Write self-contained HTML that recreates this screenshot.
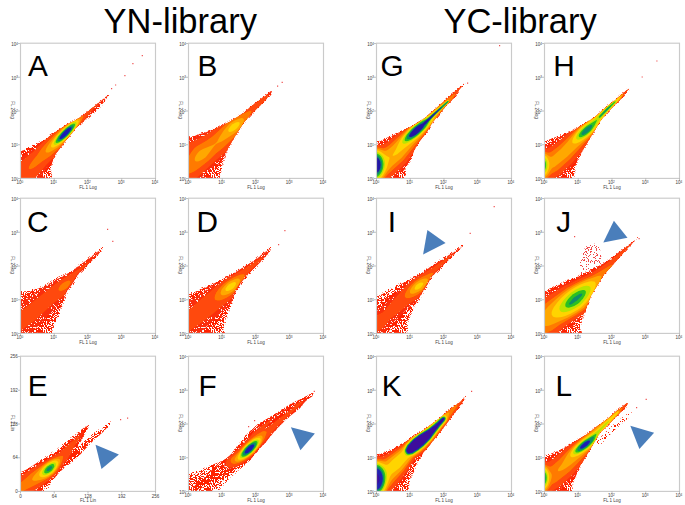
<!DOCTYPE html>
<html><head><meta charset="utf-8"><style>
html,body{margin:0;padding:0;background:#fff;}
body{width:685px;height:505px;overflow:hidden;position:relative;font-family:"Liberation Sans",sans-serif;}
svg{position:absolute;left:0;top:0;}
</style></head><body>
<svg width="685" height="505" viewBox="0 0 685 505">
<defs>
<pattern id="sp0" width="37" height="37" patternUnits="userSpaceOnUse"><path fill="#ff2400" d="M28 35h1v1h-1zM29 28h1v1h-1zM32 12h1v1h-1zM11 32h1v1h-1zM30 11h1v1h-1zM6 28h1v1h-1zM19 9h1v1h-1zM5 34h1v1h-1zM2 25h1v1h-1zM28 10h1v1h-1zM0 33h1v1h-1zM4 3h1v1h-1zM2 12h1v1h-1zM15 1h1v1h-1zM29 20h1v1h-1zM28 12h1v1h-1zM33 14h1v1h-1zM18 31h1v1h-1zM0 5h1v1h-1zM29 17h1v1h-1zM26 35h1v1h-1zM5 16h1v1h-1zM20 14h1v1h-1zM32 18h1v1h-1zM1 4h1v1h-1zM36 6h1v1h-1zM25 6h1v1h-1zM18 24h1v1h-1zM4 1h1v1h-1zM0 13h1v1h-1zM13 3h1v1h-1zM30 24h1v1h-1zM25 26h1v1h-1zM4 36h1v1h-1zM12 17h1v1h-1zM21 5h1v1h-1zM19 21h1v1h-1zM0 26h1v1h-1zM7 8h1v1h-1zM15 6h1v1h-1zM0 3h1v1h-1zM29 31h1v1h-1zM11 35h1v1h-1zM12 28h1v1h-1zM32 12h1v1h-1zM8 26h1v1h-1zM24 7h1v1h-1zM25 26h1v1h-1zM13 0h1v1h-1zM17 19h1v1h-1zM1 13h1v1h-1zM11 25h1v1h-1zM36 6h1v1h-1zM2 9h1v1h-1zM13 28h1v1h-1zM16 0h1v1h-1zM21 18h1v1h-1zM24 4h1v1h-1zM4 5h1v1h-1zM13 15h1v1h-1zM0 23h1v1h-1zM23 29h1v1h-1zM8 30h1v1h-1zM36 8h1v1h-1zM24 11h1v1h-1zM9 19h1v1h-1zM14 15h1v1h-1zM12 10h1v1h-1zM35 12h1v1h-1zM24 30h1v1h-1zM5 26h1v1h-1zM3 6h1v1h-1zM6 2h1v1h-1zM32 16h1v1h-1zM15 25h1v1h-1zM16 26h1v1h-1zM31 18h1v1h-1zM33 11h1v1h-1zM4 8h1v1h-1zM14 30h1v1h-1zM35 4h1v1h-1zM17 13h1v1h-1zM13 1h1v1h-1zM4 17h1v1h-1zM26 28h1v1h-1zM15 3h1v1h-1zM2 11h1v1h-1zM18 23h1v1h-1zM33 36h1v1h-1zM8 5h1v1h-1zM23 8h1v1h-1zM28 21h1v1h-1zM33 8h1v1h-1zM2 1h1v1h-1zM30 22h1v1h-1zM19 2h1v1h-1zM1 4h1v1h-1zM30 4h1v1h-1zM19 20h1v1h-1zM8 4h1v1h-1zM4 28h1v1h-1zM34 23h1v1h-1zM2 8h1v1h-1zM21 22h1v1h-1zM5 30h1v1h-1zM4 26h1v1h-1zM1 31h1v1h-1zM36 0h1v1h-1zM24 24h1v1h-1zM0 4h1v1h-1zM5 5h1v1h-1zM7 16h1v1h-1zM26 21h1v1h-1zM24 29h1v1h-1zM28 29h1v1h-1zM34 5h1v1h-1zM33 32h1v1h-1zM1 19h1v1h-1zM5 30h1v1h-1zM1 14h1v1h-1zM7 31h1v1h-1zM31 16h1v1h-1zM0 23h1v1h-1zM19 9h1v1h-1zM12 33h1v1h-1zM10 21h1v1h-1zM28 31h1v1h-1zM15 20h1v1h-1zM25 16h1v1h-1zM12 27h1v1h-1zM12 13h1v1h-1zM24 14h1v1h-1zM20 13h1v1h-1zM8 8h1v1h-1zM31 22h1v1h-1zM2 4h1v1h-1zM17 10h1v1h-1zM7 28h1v1h-1zM30 17h1v1h-1zM13 26h1v1h-1zM24 33h1v1h-1zM31 20h1v1h-1zM28 20h1v1h-1zM4 2h1v1h-1zM17 2h1v1h-1zM17 36h1v1h-1zM22 19h1v1h-1zM36 1h1v1h-1zM8 25h1v1h-1zM29 12h1v1h-1zM1 17h1v1h-1zM15 9h1v1h-1zM3 7h1v1h-1zM28 6h1v1h-1zM34 23h1v1h-1zM4 12h1v1h-1zM12 30h1v1h-1zM16 11h1v1h-1zM0 30h1v1h-1zM34 2h1v1h-1zM11 14h1v1h-1zM17 22h1v1h-1zM34 33h1v1h-1zM32 10h1v1h-1zM25 14h1v1h-1zM5 26h1v1h-1zM24 8h1v1h-1zM28 29h1v1h-1zM12 0h1v1h-1zM24 35h1v1h-1zM36 32h1v1h-1zM21 29h1v1h-1zM20 13h1v1h-1zM6 7h1v1h-1zM13 15h1v1h-1zM24 5h1v1h-1zM19 34h1v1h-1zM20 16h1v1h-1zM1 22h1v1h-1zM32 5h1v1h-1zM2 28h1v1h-1zM21 35h1v1h-1zM26 17h1v1h-1zM31 1h1v1h-1zM13 4h1v1h-1zM27 2h1v1h-1zM11 34h1v1h-1zM21 8h1v1h-1zM30 9h1v1h-1zM33 33h1v1h-1zM28 31h1v1h-1zM5 14h1v1h-1zM28 33h1v1h-1zM35 18h1v1h-1zM35 10h1v1h-1zM33 32h1v1h-1zM35 16h1v1h-1zM19 24h1v1h-1zM13 19h1v1h-1zM9 34h1v1h-1zM33 17h1v1h-1zM36 31h1v1h-1zM12 26h1v1h-1zM34 7h1v1h-1zM32 0h1v1h-1zM24 1h1v1h-1zM34 2h1v1h-1zM33 25h1v1h-1zM34 36h1v1h-1zM7 31h1v1h-1zM5 10h1v1h-1zM4 34h1v1h-1zM29 26h1v1h-1zM25 17h1v1h-1zM15 30h1v1h-1zM31 8h1v1h-1zM21 27h1v1h-1zM30 33h1v1h-1zM20 6h1v1h-1zM12 26h1v1h-1zM1 16h1v1h-1zM8 1h1v1h-1zM2 12h1v1h-1zM9 14h1v1h-1zM0 18h1v1h-1zM20 22h1v1h-1zM15 31h1v1h-1zM6 31h1v1h-1zM7 32h1v1h-1zM16 12h1v1h-1zM33 27h1v1h-1zM1 24h1v1h-1zM26 33h1v1h-1zM10 34h1v1h-1zM13 34h1v1h-1zM13 33h1v1h-1zM13 34h1v1h-1zM8 14h1v1h-1zM22 11h1v1h-1zM20 20h1v1h-1zM12 13h1v1h-1zM12 6h1v1h-1zM8 15h1v1h-1zM8 5h1v1h-1zM16 24h1v1h-1zM6 27h1v1h-1zM26 34h1v1h-1zM8 12h1v1h-1zM25 1h1v1h-1zM6 12h1v1h-1zM36 22h1v1h-1zM23 7h1v1h-1zM32 21h1v1h-1zM32 12h1v1h-1zM4 30h1v1h-1zM6 1h1v1h-1zM2 35h1v1h-1zM32 36h1v1h-1zM30 9h1v1h-1zM12 11h1v1h-1zM7 13h1v1h-1zM11 10h1v1h-1zM18 6h1v1h-1zM3 8h1v1h-1zM29 4h1v1h-1zM6 20h1v1h-1zM25 29h1v1h-1zM27 32h1v1h-1zM22 27h1v1h-1zM13 23h1v1h-1zM0 2h1v1h-1zM12 11h1v1h-1zM26 29h1v1h-1zM23 23h1v1h-1zM25 12h1v1h-1zM10 6h1v1h-1zM32 0h1v1h-1zM20 5h1v1h-1zM25 36h1v1h-1zM12 32h1v1h-1zM21 16h1v1h-1zM17 7h1v1h-1zM10 25h1v1h-1zM8 21h1v1h-1zM34 23h1v1h-1zM27 11h1v1h-1zM25 13h1v1h-1zM11 4h1v1h-1zM21 19h1v1h-1zM30 6h1v1h-1zM0 22h1v1h-1zM3 14h1v1h-1zM17 19h1v1h-1zM21 13h1v1h-1zM25 36h1v1h-1zM11 34h1v1h-1zM4 24h1v1h-1zM32 31h1v1h-1zM13 7h1v1h-1zM25 36h1v1h-1zM1 7h1v1h-1zM6 15h1v1h-1zM16 28h1v1h-1zM25 32h1v1h-1zM3 12h1v1h-1zM24 0h1v1h-1zM6 16h1v1h-1zM16 17h1v1h-1zM21 35h1v1h-1zM34 32h1v1h-1zM26 33h1v1h-1zM36 6h1v1h-1zM28 4h1v1h-1zM35 2h1v1h-1zM24 10h1v1h-1zM24 30h1v1h-1zM10 31h1v1h-1zM34 3h1v1h-1zM27 31h1v1h-1zM26 18h1v1h-1zM33 25h1v1h-1zM19 23h1v1h-1zM33 18h1v1h-1zM30 17h1v1h-1zM35 18h1v1h-1zM18 1h1v1h-1zM0 15h1v1h-1zM2 10h1v1h-1zM26 24h1v1h-1zM3 20h1v1h-1z"/></pattern>
<pattern id="sp1" width="37" height="37" patternUnits="userSpaceOnUse"><path fill="#ff2400" d="M30 17h1v1h-1zM33 22h1v1h-1zM9 24h1v1h-1zM0 23h1v1h-1zM30 17h1v1h-1zM29 14h1v1h-1zM35 0h1v1h-1zM9 28h1v1h-1zM23 10h1v1h-1zM21 13h1v1h-1zM3 36h1v1h-1zM12 4h1v1h-1zM32 21h1v1h-1zM25 5h1v1h-1zM1 3h1v1h-1zM32 14h1v1h-1zM5 27h1v1h-1zM28 7h1v1h-1zM27 8h1v1h-1zM34 20h1v1h-1zM35 10h1v1h-1zM3 35h1v1h-1zM10 32h1v1h-1zM5 25h1v1h-1zM26 30h1v1h-1zM30 24h1v1h-1zM34 1h1v1h-1zM5 12h1v1h-1zM16 22h1v1h-1zM23 24h1v1h-1zM19 7h1v1h-1zM16 15h1v1h-1zM21 23h1v1h-1zM23 32h1v1h-1zM36 32h1v1h-1zM11 1h1v1h-1zM24 27h1v1h-1zM2 33h1v1h-1zM1 14h1v1h-1zM27 2h1v1h-1zM24 13h1v1h-1zM6 35h1v1h-1zM14 11h1v1h-1zM4 17h1v1h-1zM2 27h1v1h-1zM17 31h1v1h-1zM22 3h1v1h-1zM32 29h1v1h-1zM23 13h1v1h-1zM21 18h1v1h-1zM29 30h1v1h-1zM30 15h1v1h-1zM10 29h1v1h-1zM35 23h1v1h-1zM11 12h1v1h-1zM14 0h1v1h-1zM17 21h1v1h-1zM11 15h1v1h-1zM0 32h1v1h-1zM2 15h1v1h-1zM7 23h1v1h-1zM34 32h1v1h-1zM9 1h1v1h-1zM20 17h1v1h-1zM7 14h1v1h-1zM33 32h1v1h-1zM30 31h1v1h-1zM22 16h1v1h-1zM28 10h1v1h-1zM28 18h1v1h-1zM2 17h1v1h-1zM21 32h1v1h-1zM28 13h1v1h-1zM18 33h1v1h-1zM16 1h1v1h-1zM0 1h1v1h-1zM8 35h1v1h-1zM17 26h1v1h-1zM8 15h1v1h-1zM12 27h1v1h-1zM30 3h1v1h-1zM35 36h1v1h-1zM16 2h1v1h-1zM26 27h1v1h-1zM5 25h1v1h-1zM12 35h1v1h-1zM22 23h1v1h-1zM24 36h1v1h-1zM10 1h1v1h-1zM9 1h1v1h-1zM2 4h1v1h-1zM26 34h1v1h-1zM12 24h1v1h-1zM6 22h1v1h-1zM12 19h1v1h-1zM17 34h1v1h-1zM31 7h1v1h-1zM13 34h1v1h-1zM25 15h1v1h-1zM4 26h1v1h-1zM22 20h1v1h-1zM5 21h1v1h-1zM9 5h1v1h-1zM19 19h1v1h-1zM11 27h1v1h-1zM23 11h1v1h-1zM1 13h1v1h-1zM31 28h1v1h-1zM31 11h1v1h-1zM3 21h1v1h-1zM29 15h1v1h-1zM20 6h1v1h-1zM14 0h1v1h-1zM23 23h1v1h-1zM17 12h1v1h-1zM27 18h1v1h-1zM14 33h1v1h-1zM9 32h1v1h-1zM21 10h1v1h-1zM32 29h1v1h-1zM24 32h1v1h-1zM15 29h1v1h-1zM29 3h1v1h-1zM14 26h1v1h-1zM34 25h1v1h-1zM33 28h1v1h-1zM3 6h1v1h-1zM35 36h1v1h-1zM19 22h1v1h-1zM1 20h1v1h-1zM31 23h1v1h-1zM19 10h1v1h-1zM8 30h1v1h-1zM14 34h1v1h-1zM8 16h1v1h-1zM31 2h1v1h-1zM27 23h1v1h-1zM18 26h1v1h-1zM18 24h1v1h-1zM20 9h1v1h-1zM8 16h1v1h-1zM2 24h1v1h-1zM26 27h1v1h-1zM16 21h1v1h-1zM26 24h1v1h-1zM31 24h1v1h-1zM25 11h1v1h-1zM10 13h1v1h-1zM16 7h1v1h-1zM17 33h1v1h-1zM3 22h1v1h-1zM19 8h1v1h-1zM19 13h1v1h-1zM1 35h1v1h-1zM19 2h1v1h-1zM0 10h1v1h-1zM12 10h1v1h-1zM12 18h1v1h-1zM12 11h1v1h-1zM19 34h1v1h-1zM1 6h1v1h-1zM23 31h1v1h-1zM34 12h1v1h-1zM28 6h1v1h-1zM33 0h1v1h-1zM8 25h1v1h-1zM32 31h1v1h-1zM18 29h1v1h-1zM22 24h1v1h-1zM26 33h1v1h-1zM1 17h1v1h-1zM1 9h1v1h-1zM31 23h1v1h-1zM6 27h1v1h-1zM35 25h1v1h-1zM23 4h1v1h-1zM8 22h1v1h-1zM3 14h1v1h-1zM6 27h1v1h-1zM5 3h1v1h-1zM0 15h1v1h-1zM1 7h1v1h-1zM36 1h1v1h-1zM14 30h1v1h-1zM13 29h1v1h-1zM21 27h1v1h-1zM34 20h1v1h-1zM15 25h1v1h-1zM5 21h1v1h-1zM3 23h1v1h-1zM9 19h1v1h-1zM7 31h1v1h-1zM8 17h1v1h-1zM0 12h1v1h-1zM14 7h1v1h-1zM30 27h1v1h-1zM21 25h1v1h-1zM20 21h1v1h-1zM24 31h1v1h-1zM21 12h1v1h-1zM34 23h1v1h-1zM4 14h1v1h-1zM21 24h1v1h-1zM17 36h1v1h-1zM8 34h1v1h-1zM28 17h1v1h-1zM16 21h1v1h-1zM26 6h1v1h-1zM7 31h1v1h-1zM11 23h1v1h-1zM35 9h1v1h-1zM36 17h1v1h-1zM24 21h1v1h-1zM19 23h1v1h-1zM22 21h1v1h-1zM32 29h1v1h-1zM4 11h1v1h-1zM25 13h1v1h-1zM20 23h1v1h-1zM22 9h1v1h-1zM18 21h1v1h-1zM21 25h1v1h-1zM2 33h1v1h-1zM21 34h1v1h-1zM4 33h1v1h-1zM6 16h1v1h-1zM10 31h1v1h-1zM5 19h1v1h-1zM10 28h1v1h-1zM14 18h1v1h-1zM4 14h1v1h-1zM12 12h1v1h-1zM17 7h1v1h-1zM13 11h1v1h-1zM30 19h1v1h-1zM29 8h1v1h-1zM30 25h1v1h-1zM28 29h1v1h-1zM24 23h1v1h-1zM17 12h1v1h-1zM15 33h1v1h-1zM31 32h1v1h-1zM21 22h1v1h-1zM25 19h1v1h-1zM8 1h1v1h-1zM4 18h1v1h-1zM24 18h1v1h-1zM30 9h1v1h-1zM33 26h1v1h-1zM36 20h1v1h-1zM11 16h1v1h-1zM27 26h1v1h-1zM3 9h1v1h-1zM3 28h1v1h-1zM7 33h1v1h-1zM19 15h1v1h-1zM10 13h1v1h-1zM7 35h1v1h-1zM24 32h1v1h-1zM31 19h1v1h-1zM5 12h1v1h-1zM9 14h1v1h-1zM24 33h1v1h-1zM16 33h1v1h-1zM23 12h1v1h-1zM8 13h1v1h-1zM35 6h1v1h-1zM15 16h1v1h-1zM2 34h1v1h-1zM34 28h1v1h-1zM6 31h1v1h-1zM33 11h1v1h-1zM36 3h1v1h-1zM27 19h1v1h-1zM1 31h1v1h-1zM24 22h1v1h-1zM25 5h1v1h-1zM4 34h1v1h-1zM33 29h1v1h-1zM35 35h1v1h-1zM25 34h1v1h-1zM0 32h1v1h-1zM23 26h1v1h-1zM9 1h1v1h-1zM21 4h1v1h-1zM33 17h1v1h-1zM19 14h1v1h-1zM19 26h1v1h-1zM17 32h1v1h-1zM25 33h1v1h-1zM5 2h1v1h-1zM18 23h1v1h-1zM18 22h1v1h-1zM5 7h1v1h-1zM2 7h1v1h-1zM9 4h1v1h-1zM9 8h1v1h-1zM32 34h1v1h-1zM10 11h1v1h-1zM35 22h1v1h-1zM14 25h1v1h-1zM1 9h1v1h-1zM18 29h1v1h-1zM36 29h1v1h-1zM20 10h1v1h-1zM16 0h1v1h-1zM18 27h1v1h-1zM27 13h1v1h-1zM10 1h1v1h-1zM22 22h1v1h-1zM18 6h1v1h-1zM31 23h1v1h-1zM26 22h1v1h-1zM20 2h1v1h-1zM36 19h1v1h-1zM34 33h1v1h-1zM35 0h1v1h-1zM19 35h1v1h-1zM20 8h1v1h-1zM3 20h1v1h-1zM15 34h1v1h-1zM13 7h1v1h-1zM5 4h1v1h-1zM11 27h1v1h-1zM21 17h1v1h-1zM2 27h1v1h-1zM14 23h1v1h-1zM20 21h1v1h-1zM3 20h1v1h-1zM30 13h1v1h-1zM14 4h1v1h-1zM6 30h1v1h-1zM31 10h1v1h-1zM32 12h1v1h-1zM29 34h1v1h-1zM24 21h1v1h-1zM12 8h1v1h-1zM10 33h1v1h-1zM30 28h1v1h-1zM9 7h1v1h-1zM12 26h1v1h-1zM13 11h1v1h-1zM16 4h1v1h-1zM20 30h1v1h-1zM28 33h1v1h-1zM5 27h1v1h-1zM25 12h1v1h-1zM10 36h1v1h-1zM11 36h1v1h-1zM9 5h1v1h-1zM34 10h1v1h-1zM20 10h1v1h-1zM2 14h1v1h-1zM30 31h1v1h-1zM8 10h1v1h-1zM5 29h1v1h-1zM35 35h1v1h-1zM14 9h1v1h-1zM31 9h1v1h-1zM17 33h1v1h-1zM35 15h1v1h-1zM33 16h1v1h-1zM16 5h1v1h-1zM25 10h1v1h-1zM35 17h1v1h-1zM34 36h1v1h-1zM1 27h1v1h-1zM2 28h1v1h-1zM33 8h1v1h-1zM12 27h1v1h-1zM35 11h1v1h-1zM3 1h1v1h-1zM0 7h1v1h-1zM34 9h1v1h-1zM25 19h1v1h-1zM35 13h1v1h-1zM5 28h1v1h-1zM34 5h1v1h-1zM32 11h1v1h-1zM18 4h1v1h-1zM10 25h1v1h-1zM1 21h1v1h-1zM0 9h1v1h-1zM6 5h1v1h-1zM0 17h1v1h-1zM23 16h1v1h-1zM19 22h1v1h-1zM7 10h1v1h-1zM28 6h1v1h-1zM27 26h1v1h-1zM23 17h1v1h-1zM23 6h1v1h-1zM6 20h1v1h-1zM17 14h1v1h-1zM20 16h1v1h-1zM30 30h1v1h-1zM21 0h1v1h-1zM7 5h1v1h-1zM25 0h1v1h-1zM10 14h1v1h-1zM28 31h1v1h-1zM34 25h1v1h-1zM24 4h1v1h-1zM5 10h1v1h-1zM28 10h1v1h-1zM28 19h1v1h-1zM35 19h1v1h-1zM15 3h1v1h-1zM0 12h1v1h-1zM20 31h1v1h-1zM25 35h1v1h-1zM20 11h1v1h-1zM8 4h1v1h-1zM26 8h1v1h-1zM5 21h1v1h-1zM24 0h1v1h-1zM20 29h1v1h-1zM17 22h1v1h-1zM4 19h1v1h-1zM21 21h1v1h-1zM1 6h1v1h-1zM21 27h1v1h-1zM15 17h1v1h-1zM12 3h1v1h-1zM26 8h1v1h-1zM13 0h1v1h-1zM14 18h1v1h-1zM6 3h1v1h-1zM9 1h1v1h-1zM23 34h1v1h-1zM5 23h1v1h-1zM13 11h1v1h-1zM27 7h1v1h-1zM5 5h1v1h-1zM35 22h1v1h-1zM30 11h1v1h-1zM8 11h1v1h-1zM31 21h1v1h-1zM27 6h1v1h-1zM11 9h1v1h-1zM19 28h1v1h-1zM7 3h1v1h-1zM1 30h1v1h-1zM3 3h1v1h-1zM32 15h1v1h-1zM20 0h1v1h-1zM19 10h1v1h-1zM34 26h1v1h-1zM26 4h1v1h-1zM21 7h1v1h-1zM2 31h1v1h-1zM6 3h1v1h-1zM30 27h1v1h-1zM19 33h1v1h-1zM30 31h1v1h-1zM27 15h1v1h-1zM35 30h1v1h-1zM25 8h1v1h-1zM12 0h1v1h-1zM29 21h1v1h-1zM10 14h1v1h-1zM30 17h1v1h-1zM33 4h1v1h-1zM13 9h1v1h-1zM11 1h1v1h-1zM10 31h1v1h-1zM35 27h1v1h-1zM14 26h1v1h-1zM27 10h1v1h-1zM11 22h1v1h-1zM35 31h1v1h-1zM20 11h1v1h-1zM28 11h1v1h-1zM1 34h1v1h-1zM6 15h1v1h-1zM16 26h1v1h-1zM36 18h1v1h-1zM28 21h1v1h-1zM29 27h1v1h-1zM4 0h1v1h-1zM7 33h1v1h-1zM7 34h1v1h-1zM32 34h1v1h-1zM2 9h1v1h-1zM12 34h1v1h-1zM3 1h1v1h-1zM7 27h1v1h-1zM24 28h1v1h-1zM1 28h1v1h-1zM24 2h1v1h-1zM11 22h1v1h-1zM3 12h1v1h-1zM25 6h1v1h-1zM17 35h1v1h-1zM17 24h1v1h-1zM35 12h1v1h-1zM25 13h1v1h-1zM20 15h1v1h-1zM6 10h1v1h-1zM13 31h1v1h-1zM29 12h1v1h-1zM10 7h1v1h-1zM34 3h1v1h-1zM5 36h1v1h-1zM9 27h1v1h-1zM24 23h1v1h-1zM7 32h1v1h-1zM24 35h1v1h-1zM31 27h1v1h-1zM3 14h1v1h-1zM9 17h1v1h-1zM30 28h1v1h-1zM7 21h1v1h-1zM18 0h1v1h-1zM13 15h1v1h-1zM32 26h1v1h-1zM8 5h1v1h-1zM2 25h1v1h-1zM1 32h1v1h-1zM17 19h1v1h-1zM14 9h1v1h-1zM2 0h1v1h-1zM28 30h1v1h-1zM2 22h1v1h-1zM6 0h1v1h-1zM11 17h1v1h-1zM31 11h1v1h-1zM8 31h1v1h-1zM23 36h1v1h-1zM2 6h1v1h-1zM29 23h1v1h-1zM20 25h1v1h-1zM14 36h1v1h-1zM26 20h1v1h-1zM7 14h1v1h-1zM18 30h1v1h-1zM8 25h1v1h-1zM19 9h1v1h-1zM4 14h1v1h-1zM4 12h1v1h-1zM9 26h1v1h-1zM7 19h1v1h-1zM7 6h1v1h-1zM17 27h1v1h-1zM30 35h1v1h-1zM9 15h1v1h-1zM20 26h1v1h-1zM12 27h1v1h-1zM11 11h1v1h-1zM34 15h1v1h-1zM16 19h1v1h-1zM18 29h1v1h-1zM16 31h1v1h-1zM8 17h1v1h-1zM9 33h1v1h-1zM12 33h1v1h-1zM14 12h1v1h-1zM20 0h1v1h-1zM0 36h1v1h-1zM32 7h1v1h-1zM29 29h1v1h-1zM11 23h1v1h-1zM30 7h1v1h-1zM19 34h1v1h-1zM8 32h1v1h-1zM27 25h1v1h-1zM26 31h1v1h-1zM36 23h1v1h-1zM20 23h1v1h-1zM29 19h1v1h-1zM22 33h1v1h-1zM0 29h1v1h-1zM11 36h1v1h-1zM17 28h1v1h-1zM1 22h1v1h-1zM34 32h1v1h-1zM8 26h1v1h-1zM34 23h1v1h-1zM10 9h1v1h-1zM20 5h1v1h-1zM32 36h1v1h-1zM27 14h1v1h-1zM8 19h1v1h-1zM17 32h1v1h-1zM26 0h1v1h-1zM5 14h1v1h-1zM35 27h1v1h-1zM31 16h1v1h-1zM6 13h1v1h-1zM24 30h1v1h-1zM17 28h1v1h-1zM22 14h1v1h-1zM33 6h1v1h-1zM20 35h1v1h-1zM5 10h1v1h-1zM28 7h1v1h-1zM27 30h1v1h-1zM34 2h1v1h-1zM32 8h1v1h-1zM30 31h1v1h-1zM27 36h1v1h-1zM24 14h1v1h-1zM15 14h1v1h-1zM35 29h1v1h-1zM19 26h1v1h-1zM16 36h1v1h-1zM32 7h1v1h-1zM25 24h1v1h-1zM21 2h1v1h-1zM13 5h1v1h-1zM0 16h1v1h-1zM5 10h1v1h-1zM32 14h1v1h-1zM32 6h1v1h-1zM2 30h1v1h-1zM14 35h1v1h-1zM17 35h1v1h-1zM1 17h1v1h-1zM0 27h1v1h-1zM23 36h1v1h-1zM12 32h1v1h-1zM0 21h1v1h-1zM32 20h1v1h-1zM2 1h1v1h-1zM22 26h1v1h-1zM29 31h1v1h-1zM1 29h1v1h-1zM27 33h1v1h-1zM16 24h1v1h-1zM9 1h1v1h-1zM33 28h1v1h-1zM34 23h1v1h-1zM25 32h1v1h-1zM26 8h1v1h-1zM23 35h1v1h-1zM21 32h1v1h-1zM8 35h1v1h-1zM0 23h1v1h-1zM35 13h1v1h-1zM3 16h1v1h-1zM33 19h1v1h-1zM14 6h1v1h-1zM17 10h1v1h-1zM0 20h1v1h-1zM3 33h1v1h-1zM4 8h1v1h-1zM16 24h1v1h-1zM1 4h1v1h-1zM26 23h1v1h-1zM16 6h1v1h-1zM32 14h1v1h-1zM16 33h1v1h-1zM29 32h1v1h-1zM4 32h1v1h-1zM27 23h1v1h-1zM35 36h1v1h-1zM10 20h1v1h-1zM24 3h1v1h-1zM31 2h1v1h-1zM34 27h1v1h-1zM34 18h1v1h-1zM7 0h1v1h-1zM22 36h1v1h-1zM6 22h1v1h-1zM19 16h1v1h-1zM3 18h1v1h-1zM14 35h1v1h-1zM21 35h1v1h-1zM19 26h1v1h-1zM5 25h1v1h-1zM17 22h1v1h-1zM6 16h1v1h-1zM5 35h1v1h-1zM33 31h1v1h-1zM6 5h1v1h-1zM0 21h1v1h-1zM29 2h1v1h-1zM4 32h1v1h-1zM28 0h1v1h-1zM35 20h1v1h-1zM12 21h1v1h-1zM36 4h1v1h-1zM8 30h1v1h-1zM10 28h1v1h-1zM21 30h1v1h-1zM24 21h1v1h-1zM11 27h1v1h-1zM1 36h1v1h-1zM10 7h1v1h-1zM14 4h1v1h-1zM23 24h1v1h-1zM3 5h1v1h-1zM19 29h1v1h-1zM28 14h1v1h-1zM7 16h1v1h-1zM29 23h1v1h-1zM16 25h1v1h-1zM3 11h1v1h-1zM18 6h1v1h-1zM12 35h1v1h-1zM16 32h1v1h-1zM19 9h1v1h-1zM12 22h1v1h-1zM14 36h1v1h-1zM15 23h1v1h-1zM3 26h1v1h-1zM33 6h1v1h-1zM2 7h1v1h-1zM9 31h1v1h-1zM32 30h1v1h-1zM16 36h1v1h-1zM20 31h1v1h-1zM32 16h1v1h-1zM14 33h1v1h-1zM16 15h1v1h-1zM6 4h1v1h-1zM13 33h1v1h-1zM11 34h1v1h-1zM20 22h1v1h-1zM21 27h1v1h-1zM0 24h1v1h-1zM8 2h1v1h-1zM31 23h1v1h-1zM12 28h1v1h-1zM17 25h1v1h-1zM8 8h1v1h-1zM36 30h1v1h-1zM29 11h1v1h-1zM11 20h1v1h-1zM19 6h1v1h-1zM7 6h1v1h-1zM34 18h1v1h-1zM30 35h1v1h-1zM7 22h1v1h-1zM6 32h1v1h-1zM1 11h1v1h-1zM21 22h1v1h-1zM18 18h1v1h-1zM36 13h1v1h-1zM12 10h1v1h-1zM27 19h1v1h-1zM7 9h1v1h-1zM26 11h1v1h-1zM32 11h1v1h-1zM32 24h1v1h-1zM29 25h1v1h-1zM8 30h1v1h-1zM9 0h1v1h-1zM20 1h1v1h-1zM35 8h1v1h-1zM3 23h1v1h-1zM13 19h1v1h-1zM25 28h1v1h-1zM10 16h1v1h-1zM19 32h1v1h-1zM4 36h1v1h-1zM18 6h1v1h-1zM0 19h1v1h-1zM10 6h1v1h-1zM19 34h1v1h-1zM36 32h1v1h-1zM7 31h1v1h-1zM24 19h1v1h-1zM9 17h1v1h-1zM4 32h1v1h-1zM19 17h1v1h-1zM32 11h1v1h-1zM28 11h1v1h-1zM0 21h1v1h-1zM6 15h1v1h-1zM12 31h1v1h-1zM8 23h1v1h-1zM9 3h1v1h-1zM30 33h1v1h-1zM16 7h1v1h-1zM14 24h1v1h-1zM10 7h1v1h-1zM3 34h1v1h-1zM10 15h1v1h-1zM31 8h1v1h-1zM3 5h1v1h-1zM29 12h1v1h-1zM29 34h1v1h-1zM11 24h1v1h-1zM7 11h1v1h-1zM9 22h1v1h-1zM21 13h1v1h-1zM1 4h1v1h-1zM34 11h1v1h-1zM22 23h1v1h-1zM26 16h1v1h-1zM10 9h1v1h-1zM1 14h1v1h-1zM14 28h1v1h-1zM9 17h1v1h-1zM5 22h1v1h-1zM3 34h1v1h-1zM33 35h1v1h-1zM0 20h1v1h-1zM32 31h1v1h-1z"/></pattern>
<pattern id="sp2" width="37" height="37" patternUnits="userSpaceOnUse"><path fill="#ff2400" d="M13 0h1v1h-1zM33 2h1v1h-1zM10 15h1v1h-1zM1 3h1v1h-1zM9 23h1v1h-1zM15 7h1v1h-1zM21 29h1v1h-1zM22 17h1v1h-1zM25 16h1v1h-1zM22 14h1v1h-1zM13 22h1v1h-1zM20 14h1v1h-1zM19 32h1v1h-1zM26 14h1v1h-1zM36 29h1v1h-1zM26 31h1v1h-1zM5 29h1v1h-1zM36 23h1v1h-1zM28 36h1v1h-1zM20 28h1v1h-1zM25 4h1v1h-1zM31 1h1v1h-1zM12 8h1v1h-1zM34 11h1v1h-1zM1 18h1v1h-1zM33 31h1v1h-1zM9 6h1v1h-1zM7 25h1v1h-1zM3 4h1v1h-1zM29 35h1v1h-1zM18 25h1v1h-1zM32 14h1v1h-1zM11 34h1v1h-1zM32 22h1v1h-1zM5 15h1v1h-1zM19 19h1v1h-1zM10 20h1v1h-1zM24 30h1v1h-1zM21 28h1v1h-1zM4 17h1v1h-1zM30 9h1v1h-1zM7 31h1v1h-1zM24 24h1v1h-1zM0 16h1v1h-1zM5 18h1v1h-1zM4 2h1v1h-1zM28 3h1v1h-1zM16 10h1v1h-1zM31 36h1v1h-1zM30 31h1v1h-1zM2 32h1v1h-1zM3 30h1v1h-1zM5 36h1v1h-1zM29 14h1v1h-1zM28 16h1v1h-1zM5 0h1v1h-1zM3 21h1v1h-1zM24 27h1v1h-1zM22 3h1v1h-1zM19 28h1v1h-1zM19 35h1v1h-1zM1 27h1v1h-1zM24 0h1v1h-1zM22 24h1v1h-1zM33 0h1v1h-1zM9 16h1v1h-1zM15 31h1v1h-1zM32 21h1v1h-1zM20 15h1v1h-1zM20 31h1v1h-1zM20 0h1v1h-1zM22 14h1v1h-1zM21 3h1v1h-1zM11 32h1v1h-1zM6 36h1v1h-1zM25 21h1v1h-1zM8 21h1v1h-1zM6 20h1v1h-1zM21 29h1v1h-1zM35 30h1v1h-1zM36 7h1v1h-1zM25 0h1v1h-1zM6 9h1v1h-1zM29 10h1v1h-1zM12 34h1v1h-1zM35 20h1v1h-1zM23 25h1v1h-1zM14 35h1v1h-1zM33 7h1v1h-1zM33 29h1v1h-1zM10 21h1v1h-1zM29 36h1v1h-1zM26 1h1v1h-1zM17 21h1v1h-1zM8 17h1v1h-1zM22 11h1v1h-1zM3 29h1v1h-1zM13 6h1v1h-1zM4 16h1v1h-1zM13 4h1v1h-1zM28 34h1v1h-1zM10 14h1v1h-1zM20 10h1v1h-1zM3 23h1v1h-1zM26 14h1v1h-1zM26 10h1v1h-1zM23 36h1v1h-1zM9 32h1v1h-1zM11 30h1v1h-1zM30 29h1v1h-1zM29 10h1v1h-1zM27 4h1v1h-1zM27 17h1v1h-1zM28 15h1v1h-1zM1 28h1v1h-1zM21 25h1v1h-1zM10 2h1v1h-1zM0 29h1v1h-1zM28 1h1v1h-1zM21 28h1v1h-1zM29 16h1v1h-1zM24 29h1v1h-1zM28 25h1v1h-1zM32 7h1v1h-1zM10 20h1v1h-1zM28 30h1v1h-1zM21 36h1v1h-1zM29 33h1v1h-1zM5 13h1v1h-1zM14 10h1v1h-1zM35 32h1v1h-1zM25 6h1v1h-1zM25 21h1v1h-1zM20 28h1v1h-1zM16 11h1v1h-1zM17 26h1v1h-1zM7 19h1v1h-1zM14 17h1v1h-1zM10 36h1v1h-1zM16 18h1v1h-1zM9 28h1v1h-1zM32 15h1v1h-1zM9 30h1v1h-1zM33 7h1v1h-1zM15 13h1v1h-1zM25 27h1v1h-1zM14 18h1v1h-1zM26 30h1v1h-1zM25 30h1v1h-1zM14 20h1v1h-1zM24 22h1v1h-1zM21 24h1v1h-1zM21 21h1v1h-1zM6 8h1v1h-1zM31 14h1v1h-1zM14 36h1v1h-1zM4 11h1v1h-1zM33 19h1v1h-1zM16 13h1v1h-1zM15 31h1v1h-1zM16 31h1v1h-1zM11 15h1v1h-1zM31 23h1v1h-1zM10 33h1v1h-1zM13 35h1v1h-1zM34 21h1v1h-1zM7 2h1v1h-1zM16 3h1v1h-1zM14 2h1v1h-1zM22 25h1v1h-1zM21 33h1v1h-1zM18 20h1v1h-1zM20 23h1v1h-1zM26 35h1v1h-1zM24 0h1v1h-1zM30 36h1v1h-1zM14 26h1v1h-1zM4 10h1v1h-1zM27 8h1v1h-1zM7 3h1v1h-1zM5 2h1v1h-1zM24 34h1v1h-1zM27 22h1v1h-1zM9 12h1v1h-1zM34 22h1v1h-1zM5 8h1v1h-1zM3 22h1v1h-1zM33 16h1v1h-1zM33 32h1v1h-1zM3 28h1v1h-1zM32 1h1v1h-1zM9 0h1v1h-1zM28 30h1v1h-1zM14 9h1v1h-1zM10 32h1v1h-1zM24 15h1v1h-1zM14 27h1v1h-1zM21 31h1v1h-1zM3 7h1v1h-1zM34 11h1v1h-1zM25 36h1v1h-1zM18 20h1v1h-1zM6 17h1v1h-1zM9 33h1v1h-1zM0 15h1v1h-1zM16 28h1v1h-1zM9 25h1v1h-1zM18 4h1v1h-1zM33 24h1v1h-1zM14 3h1v1h-1zM31 22h1v1h-1zM10 11h1v1h-1zM12 7h1v1h-1zM6 18h1v1h-1zM23 11h1v1h-1zM15 8h1v1h-1zM18 27h1v1h-1zM8 36h1v1h-1zM30 15h1v1h-1zM1 8h1v1h-1zM33 2h1v1h-1zM23 27h1v1h-1zM5 30h1v1h-1zM21 10h1v1h-1zM23 35h1v1h-1zM3 29h1v1h-1zM3 31h1v1h-1zM21 10h1v1h-1zM15 25h1v1h-1zM23 28h1v1h-1zM25 23h1v1h-1zM24 4h1v1h-1zM9 17h1v1h-1zM15 7h1v1h-1zM6 4h1v1h-1zM13 25h1v1h-1zM13 20h1v1h-1zM4 27h1v1h-1zM22 13h1v1h-1zM2 24h1v1h-1zM12 27h1v1h-1zM35 26h1v1h-1zM1 36h1v1h-1zM1 0h1v1h-1zM9 5h1v1h-1zM6 30h1v1h-1zM20 11h1v1h-1zM33 26h1v1h-1zM29 34h1v1h-1zM2 7h1v1h-1zM6 24h1v1h-1zM9 1h1v1h-1zM8 31h1v1h-1zM18 19h1v1h-1zM35 19h1v1h-1zM20 23h1v1h-1zM29 32h1v1h-1zM15 4h1v1h-1zM9 19h1v1h-1zM24 21h1v1h-1zM34 31h1v1h-1zM27 17h1v1h-1zM33 11h1v1h-1zM19 28h1v1h-1zM18 14h1v1h-1zM0 23h1v1h-1zM24 14h1v1h-1zM25 23h1v1h-1zM16 4h1v1h-1zM0 12h1v1h-1zM4 23h1v1h-1zM2 19h1v1h-1zM32 14h1v1h-1zM19 1h1v1h-1zM0 11h1v1h-1zM9 8h1v1h-1zM3 20h1v1h-1zM12 20h1v1h-1zM5 17h1v1h-1zM9 33h1v1h-1zM3 14h1v1h-1zM33 1h1v1h-1zM11 6h1v1h-1zM16 13h1v1h-1zM12 27h1v1h-1zM18 8h1v1h-1zM32 15h1v1h-1zM9 0h1v1h-1zM20 32h1v1h-1zM3 8h1v1h-1zM0 34h1v1h-1zM16 9h1v1h-1zM5 35h1v1h-1zM20 34h1v1h-1zM8 34h1v1h-1zM13 23h1v1h-1zM6 24h1v1h-1zM10 4h1v1h-1zM3 33h1v1h-1zM36 10h1v1h-1zM15 17h1v1h-1zM33 11h1v1h-1zM36 12h1v1h-1zM20 10h1v1h-1zM32 3h1v1h-1zM3 26h1v1h-1zM7 11h1v1h-1zM24 35h1v1h-1zM31 4h1v1h-1zM29 15h1v1h-1zM30 20h1v1h-1zM14 14h1v1h-1zM24 8h1v1h-1zM19 16h1v1h-1zM36 7h1v1h-1zM19 17h1v1h-1zM34 15h1v1h-1zM31 23h1v1h-1zM31 22h1v1h-1zM27 34h1v1h-1zM30 29h1v1h-1zM31 28h1v1h-1zM12 13h1v1h-1zM32 21h1v1h-1zM28 22h1v1h-1zM16 18h1v1h-1zM36 21h1v1h-1zM4 23h1v1h-1zM27 26h1v1h-1zM29 16h1v1h-1zM9 29h1v1h-1zM33 4h1v1h-1zM8 1h1v1h-1zM25 23h1v1h-1zM2 28h1v1h-1zM14 16h1v1h-1zM35 30h1v1h-1zM27 12h1v1h-1zM29 20h1v1h-1zM14 15h1v1h-1zM5 9h1v1h-1zM13 20h1v1h-1zM21 25h1v1h-1zM2 11h1v1h-1zM32 30h1v1h-1zM6 30h1v1h-1zM36 20h1v1h-1zM11 29h1v1h-1zM1 0h1v1h-1zM14 8h1v1h-1zM17 26h1v1h-1zM15 10h1v1h-1zM35 16h1v1h-1zM34 4h1v1h-1zM11 8h1v1h-1zM26 9h1v1h-1zM6 35h1v1h-1zM1 24h1v1h-1zM20 15h1v1h-1zM1 0h1v1h-1zM29 32h1v1h-1zM3 2h1v1h-1zM27 32h1v1h-1zM29 8h1v1h-1zM31 22h1v1h-1zM36 17h1v1h-1zM19 32h1v1h-1zM17 4h1v1h-1zM4 2h1v1h-1zM16 5h1v1h-1zM15 4h1v1h-1zM35 2h1v1h-1zM17 4h1v1h-1zM0 16h1v1h-1zM28 11h1v1h-1zM14 30h1v1h-1zM17 10h1v1h-1zM22 36h1v1h-1zM5 24h1v1h-1zM32 8h1v1h-1zM14 14h1v1h-1zM11 16h1v1h-1zM22 25h1v1h-1zM16 33h1v1h-1zM6 25h1v1h-1zM31 32h1v1h-1zM19 17h1v1h-1zM4 23h1v1h-1zM16 6h1v1h-1zM27 27h1v1h-1zM11 13h1v1h-1zM25 36h1v1h-1zM10 13h1v1h-1zM8 18h1v1h-1zM21 27h1v1h-1zM19 32h1v1h-1zM1 29h1v1h-1zM25 14h1v1h-1zM17 1h1v1h-1zM29 32h1v1h-1zM34 0h1v1h-1zM0 29h1v1h-1zM26 4h1v1h-1zM31 15h1v1h-1zM0 11h1v1h-1zM3 9h1v1h-1zM28 29h1v1h-1zM13 7h1v1h-1zM34 23h1v1h-1zM1 30h1v1h-1zM12 13h1v1h-1zM3 22h1v1h-1zM13 27h1v1h-1zM12 3h1v1h-1zM3 14h1v1h-1zM27 8h1v1h-1zM8 13h1v1h-1zM27 33h1v1h-1zM12 35h1v1h-1zM17 15h1v1h-1zM28 32h1v1h-1zM8 5h1v1h-1zM1 24h1v1h-1zM0 2h1v1h-1zM16 18h1v1h-1zM34 12h1v1h-1zM32 6h1v1h-1zM5 31h1v1h-1zM21 8h1v1h-1zM27 35h1v1h-1zM34 23h1v1h-1zM32 33h1v1h-1zM2 7h1v1h-1zM31 24h1v1h-1zM14 11h1v1h-1zM31 29h1v1h-1zM32 31h1v1h-1zM5 14h1v1h-1zM9 31h1v1h-1zM28 35h1v1h-1zM15 12h1v1h-1zM22 8h1v1h-1zM33 11h1v1h-1zM20 33h1v1h-1zM6 31h1v1h-1zM31 29h1v1h-1zM35 14h1v1h-1zM24 33h1v1h-1zM25 30h1v1h-1zM6 31h1v1h-1zM18 0h1v1h-1zM24 7h1v1h-1zM21 21h1v1h-1zM25 25h1v1h-1zM6 33h1v1h-1zM34 3h1v1h-1zM2 32h1v1h-1zM0 19h1v1h-1zM17 32h1v1h-1zM26 33h1v1h-1zM11 12h1v1h-1zM16 2h1v1h-1zM14 30h1v1h-1zM23 5h1v1h-1zM28 18h1v1h-1zM1 8h1v1h-1zM14 17h1v1h-1zM8 22h1v1h-1zM5 21h1v1h-1zM19 13h1v1h-1zM12 24h1v1h-1zM10 28h1v1h-1zM17 1h1v1h-1zM35 2h1v1h-1zM14 4h1v1h-1zM16 23h1v1h-1zM6 27h1v1h-1zM3 34h1v1h-1zM19 28h1v1h-1zM11 17h1v1h-1zM13 14h1v1h-1zM22 34h1v1h-1zM7 17h1v1h-1zM16 14h1v1h-1zM33 21h1v1h-1zM24 27h1v1h-1zM21 4h1v1h-1zM19 12h1v1h-1zM2 20h1v1h-1zM16 6h1v1h-1zM0 33h1v1h-1zM20 8h1v1h-1zM11 23h1v1h-1zM8 8h1v1h-1zM0 17h1v1h-1zM5 8h1v1h-1zM7 20h1v1h-1zM9 35h1v1h-1zM27 36h1v1h-1zM18 5h1v1h-1zM31 34h1v1h-1zM26 30h1v1h-1zM34 34h1v1h-1zM2 2h1v1h-1zM8 16h1v1h-1zM9 19h1v1h-1zM10 35h1v1h-1zM28 30h1v1h-1zM11 31h1v1h-1zM22 32h1v1h-1zM33 22h1v1h-1zM27 7h1v1h-1zM13 31h1v1h-1zM8 14h1v1h-1zM9 35h1v1h-1zM12 3h1v1h-1zM7 27h1v1h-1zM8 20h1v1h-1zM21 14h1v1h-1zM19 9h1v1h-1zM1 12h1v1h-1zM18 10h1v1h-1zM13 8h1v1h-1zM14 15h1v1h-1zM5 30h1v1h-1zM30 28h1v1h-1zM2 22h1v1h-1zM9 1h1v1h-1zM17 19h1v1h-1zM14 35h1v1h-1zM20 2h1v1h-1zM12 21h1v1h-1zM29 29h1v1h-1zM8 24h1v1h-1zM17 16h1v1h-1zM1 21h1v1h-1zM4 9h1v1h-1zM10 36h1v1h-1zM33 17h1v1h-1zM0 28h1v1h-1zM24 4h1v1h-1zM6 31h1v1h-1zM5 5h1v1h-1zM0 20h1v1h-1zM15 6h1v1h-1zM17 7h1v1h-1zM16 16h1v1h-1zM35 7h1v1h-1zM27 33h1v1h-1zM25 34h1v1h-1zM3 10h1v1h-1zM16 2h1v1h-1zM30 11h1v1h-1zM22 22h1v1h-1zM24 17h1v1h-1zM31 30h1v1h-1zM26 6h1v1h-1zM30 32h1v1h-1zM13 32h1v1h-1zM7 0h1v1h-1zM10 30h1v1h-1zM35 2h1v1h-1zM17 12h1v1h-1zM16 30h1v1h-1zM36 25h1v1h-1zM17 12h1v1h-1zM26 18h1v1h-1zM30 14h1v1h-1zM14 35h1v1h-1zM33 35h1v1h-1zM13 29h1v1h-1zM17 3h1v1h-1zM12 17h1v1h-1zM13 9h1v1h-1zM18 6h1v1h-1zM27 34h1v1h-1zM12 16h1v1h-1zM18 35h1v1h-1zM16 33h1v1h-1zM12 20h1v1h-1zM33 5h1v1h-1zM11 36h1v1h-1zM23 23h1v1h-1zM12 17h1v1h-1zM33 7h1v1h-1zM33 27h1v1h-1zM35 11h1v1h-1zM19 0h1v1h-1zM29 14h1v1h-1zM20 14h1v1h-1zM26 15h1v1h-1zM22 28h1v1h-1zM15 17h1v1h-1zM9 5h1v1h-1zM4 3h1v1h-1zM23 34h1v1h-1zM23 13h1v1h-1zM24 32h1v1h-1zM17 15h1v1h-1zM16 20h1v1h-1zM33 2h1v1h-1zM6 30h1v1h-1zM0 13h1v1h-1zM16 12h1v1h-1zM10 19h1v1h-1zM7 30h1v1h-1zM20 27h1v1h-1zM13 31h1v1h-1zM4 3h1v1h-1zM10 2h1v1h-1zM15 1h1v1h-1zM2 27h1v1h-1zM28 28h1v1h-1zM23 3h1v1h-1zM29 22h1v1h-1zM30 0h1v1h-1zM25 6h1v1h-1zM30 16h1v1h-1zM32 17h1v1h-1zM22 15h1v1h-1zM22 32h1v1h-1zM20 5h1v1h-1zM15 4h1v1h-1zM10 18h1v1h-1zM16 36h1v1h-1zM12 19h1v1h-1zM25 35h1v1h-1zM16 14h1v1h-1zM14 0h1v1h-1zM21 1h1v1h-1zM26 4h1v1h-1zM22 19h1v1h-1zM2 13h1v1h-1zM22 17h1v1h-1zM32 5h1v1h-1zM2 17h1v1h-1zM11 28h1v1h-1zM25 36h1v1h-1zM29 19h1v1h-1zM27 2h1v1h-1zM27 16h1v1h-1zM33 17h1v1h-1zM6 29h1v1h-1zM20 9h1v1h-1zM5 27h1v1h-1zM10 26h1v1h-1zM0 28h1v1h-1zM6 15h1v1h-1zM22 25h1v1h-1zM3 0h1v1h-1zM8 34h1v1h-1zM25 29h1v1h-1zM19 2h1v1h-1zM17 0h1v1h-1zM9 29h1v1h-1zM32 27h1v1h-1zM21 21h1v1h-1zM22 21h1v1h-1zM5 0h1v1h-1zM29 3h1v1h-1zM8 27h1v1h-1zM13 28h1v1h-1zM22 30h1v1h-1zM36 25h1v1h-1zM19 0h1v1h-1zM22 2h1v1h-1zM34 36h1v1h-1zM20 0h1v1h-1zM27 25h1v1h-1zM22 4h1v1h-1zM23 0h1v1h-1zM7 7h1v1h-1zM25 23h1v1h-1zM9 18h1v1h-1zM3 0h1v1h-1zM18 31h1v1h-1zM13 11h1v1h-1zM4 25h1v1h-1zM10 5h1v1h-1zM11 16h1v1h-1zM15 7h1v1h-1zM24 23h1v1h-1zM18 26h1v1h-1zM1 32h1v1h-1zM17 25h1v1h-1zM35 22h1v1h-1zM28 15h1v1h-1zM7 12h1v1h-1zM19 26h1v1h-1zM0 6h1v1h-1zM34 34h1v1h-1zM36 3h1v1h-1zM11 6h1v1h-1zM13 17h1v1h-1zM28 8h1v1h-1zM21 3h1v1h-1zM18 9h1v1h-1zM25 28h1v1h-1zM24 6h1v1h-1zM31 27h1v1h-1zM8 31h1v1h-1zM35 20h1v1h-1zM4 29h1v1h-1zM26 30h1v1h-1zM7 10h1v1h-1zM15 17h1v1h-1zM21 30h1v1h-1zM26 26h1v1h-1zM4 9h1v1h-1zM5 14h1v1h-1zM22 29h1v1h-1zM26 0h1v1h-1zM18 15h1v1h-1zM20 30h1v1h-1zM14 29h1v1h-1zM34 0h1v1h-1zM10 24h1v1h-1zM32 15h1v1h-1zM5 21h1v1h-1zM12 11h1v1h-1zM11 9h1v1h-1zM36 22h1v1h-1zM32 15h1v1h-1zM24 6h1v1h-1zM34 9h1v1h-1zM27 26h1v1h-1zM25 5h1v1h-1zM29 32h1v1h-1zM16 6h1v1h-1zM11 26h1v1h-1zM35 24h1v1h-1zM24 9h1v1h-1zM21 14h1v1h-1zM23 28h1v1h-1zM35 31h1v1h-1zM35 10h1v1h-1zM17 31h1v1h-1zM11 14h1v1h-1zM19 31h1v1h-1zM9 0h1v1h-1zM19 36h1v1h-1zM6 32h1v1h-1zM13 24h1v1h-1zM17 11h1v1h-1zM1 24h1v1h-1zM33 8h1v1h-1zM27 14h1v1h-1zM7 18h1v1h-1zM15 36h1v1h-1zM29 15h1v1h-1zM30 6h1v1h-1zM11 9h1v1h-1zM4 5h1v1h-1zM4 17h1v1h-1zM10 9h1v1h-1zM24 34h1v1h-1zM27 0h1v1h-1zM33 12h1v1h-1zM3 31h1v1h-1zM25 17h1v1h-1zM25 26h1v1h-1zM6 5h1v1h-1zM36 24h1v1h-1zM9 22h1v1h-1zM35 14h1v1h-1zM8 14h1v1h-1zM31 7h1v1h-1zM26 3h1v1h-1zM26 25h1v1h-1zM14 11h1v1h-1zM33 29h1v1h-1zM35 31h1v1h-1zM18 13h1v1h-1zM2 21h1v1h-1zM24 27h1v1h-1zM28 0h1v1h-1zM33 27h1v1h-1zM14 18h1v1h-1zM11 12h1v1h-1zM1 24h1v1h-1zM32 19h1v1h-1zM27 28h1v1h-1zM35 23h1v1h-1zM35 36h1v1h-1zM20 4h1v1h-1zM1 17h1v1h-1zM31 36h1v1h-1zM2 30h1v1h-1zM0 21h1v1h-1zM36 13h1v1h-1zM27 0h1v1h-1zM1 29h1v1h-1zM30 20h1v1h-1zM23 22h1v1h-1zM31 18h1v1h-1zM8 30h1v1h-1zM26 2h1v1h-1zM9 5h1v1h-1zM4 32h1v1h-1zM9 21h1v1h-1zM21 13h1v1h-1zM34 10h1v1h-1zM30 17h1v1h-1zM16 19h1v1h-1zM3 24h1v1h-1zM23 9h1v1h-1zM36 20h1v1h-1zM21 32h1v1h-1zM4 2h1v1h-1zM0 17h1v1h-1zM13 28h1v1h-1zM32 0h1v1h-1zM35 31h1v1h-1zM7 16h1v1h-1zM14 11h1v1h-1zM6 27h1v1h-1zM20 12h1v1h-1zM18 16h1v1h-1zM7 17h1v1h-1zM21 7h1v1h-1zM28 30h1v1h-1zM8 13h1v1h-1zM5 8h1v1h-1zM29 29h1v1h-1zM9 10h1v1h-1zM1 8h1v1h-1zM33 33h1v1h-1zM20 31h1v1h-1zM12 17h1v1h-1zM27 0h1v1h-1zM1 24h1v1h-1zM35 16h1v1h-1zM4 11h1v1h-1zM31 9h1v1h-1zM3 34h1v1h-1zM4 9h1v1h-1zM26 24h1v1h-1zM6 32h1v1h-1zM34 35h1v1h-1zM31 31h1v1h-1zM17 14h1v1h-1zM11 11h1v1h-1zM35 20h1v1h-1zM9 32h1v1h-1zM22 15h1v1h-1zM10 14h1v1h-1zM13 11h1v1h-1zM34 22h1v1h-1zM2 32h1v1h-1zM2 32h1v1h-1zM32 32h1v1h-1zM20 35h1v1h-1zM24 22h1v1h-1zM7 1h1v1h-1zM11 7h1v1h-1zM13 28h1v1h-1zM36 10h1v1h-1zM27 34h1v1h-1zM13 20h1v1h-1zM20 29h1v1h-1zM29 7h1v1h-1zM18 27h1v1h-1zM22 3h1v1h-1zM35 2h1v1h-1zM31 14h1v1h-1zM12 13h1v1h-1zM8 24h1v1h-1zM25 7h1v1h-1zM25 11h1v1h-1zM32 17h1v1h-1zM36 13h1v1h-1zM13 17h1v1h-1zM27 6h1v1h-1zM11 12h1v1h-1zM1 15h1v1h-1zM12 26h1v1h-1zM15 3h1v1h-1zM23 10h1v1h-1zM10 16h1v1h-1zM25 10h1v1h-1zM0 21h1v1h-1zM18 8h1v1h-1zM13 16h1v1h-1zM3 16h1v1h-1zM34 29h1v1h-1zM36 32h1v1h-1zM35 18h1v1h-1zM34 24h1v1h-1zM21 12h1v1h-1zM13 21h1v1h-1zM32 32h1v1h-1zM3 10h1v1h-1zM17 23h1v1h-1zM13 13h1v1h-1zM18 29h1v1h-1zM24 23h1v1h-1zM31 36h1v1h-1zM9 17h1v1h-1zM31 18h1v1h-1zM2 3h1v1h-1zM26 18h1v1h-1zM29 16h1v1h-1zM25 2h1v1h-1zM28 17h1v1h-1zM10 0h1v1h-1zM7 1h1v1h-1zM8 0h1v1h-1zM21 14h1v1h-1zM23 36h1v1h-1zM36 4h1v1h-1zM20 9h1v1h-1zM30 28h1v1h-1zM3 28h1v1h-1zM35 18h1v1h-1zM24 22h1v1h-1zM28 24h1v1h-1zM5 20h1v1h-1zM5 12h1v1h-1zM11 36h1v1h-1zM30 13h1v1h-1zM7 10h1v1h-1zM32 8h1v1h-1zM12 9h1v1h-1zM18 36h1v1h-1zM5 10h1v1h-1zM31 27h1v1h-1zM7 26h1v1h-1zM22 10h1v1h-1zM2 30h1v1h-1zM12 12h1v1h-1zM10 19h1v1h-1zM16 18h1v1h-1zM14 8h1v1h-1zM28 29h1v1h-1zM15 24h1v1h-1zM21 0h1v1h-1zM33 18h1v1h-1zM0 35h1v1h-1zM35 21h1v1h-1zM16 3h1v1h-1zM30 13h1v1h-1zM9 11h1v1h-1zM5 28h1v1h-1zM32 33h1v1h-1zM31 12h1v1h-1zM11 32h1v1h-1zM18 8h1v1h-1zM26 5h1v1h-1zM25 3h1v1h-1zM29 4h1v1h-1zM3 12h1v1h-1zM19 35h1v1h-1zM4 7h1v1h-1zM26 25h1v1h-1zM8 26h1v1h-1zM20 15h1v1h-1zM23 33h1v1h-1zM19 29h1v1h-1zM0 14h1v1h-1zM7 11h1v1h-1zM17 33h1v1h-1zM15 25h1v1h-1zM33 7h1v1h-1zM4 15h1v1h-1zM21 21h1v1h-1zM19 4h1v1h-1zM2 20h1v1h-1zM26 24h1v1h-1zM10 24h1v1h-1zM18 29h1v1h-1zM1 17h1v1h-1zM21 19h1v1h-1zM36 16h1v1h-1zM11 3h1v1h-1zM24 2h1v1h-1zM1 24h1v1h-1zM27 15h1v1h-1zM13 32h1v1h-1zM2 15h1v1h-1zM10 13h1v1h-1zM27 1h1v1h-1zM17 15h1v1h-1zM32 18h1v1h-1zM16 34h1v1h-1zM20 17h1v1h-1zM13 17h1v1h-1zM2 8h1v1h-1zM27 16h1v1h-1zM30 20h1v1h-1zM20 23h1v1h-1zM9 0h1v1h-1zM11 19h1v1h-1zM2 21h1v1h-1zM17 3h1v1h-1zM11 29h1v1h-1zM26 15h1v1h-1zM13 2h1v1h-1zM3 31h1v1h-1zM16 25h1v1h-1zM18 4h1v1h-1zM24 25h1v1h-1zM6 0h1v1h-1zM14 31h1v1h-1zM19 10h1v1h-1zM20 27h1v1h-1zM22 36h1v1h-1zM36 8h1v1h-1zM29 20h1v1h-1zM11 8h1v1h-1zM32 25h1v1h-1zM26 7h1v1h-1zM24 13h1v1h-1zM16 23h1v1h-1zM30 21h1v1h-1zM30 15h1v1h-1zM30 10h1v1h-1zM33 15h1v1h-1zM13 31h1v1h-1zM26 34h1v1h-1zM22 19h1v1h-1zM24 17h1v1h-1zM6 19h1v1h-1zM34 2h1v1h-1zM6 29h1v1h-1zM22 23h1v1h-1zM14 20h1v1h-1zM29 35h1v1h-1zM35 28h1v1h-1zM23 36h1v1h-1zM10 17h1v1h-1zM10 27h1v1h-1zM22 34h1v1h-1zM15 26h1v1h-1zM2 32h1v1h-1zM15 3h1v1h-1zM13 13h1v1h-1zM36 5h1v1h-1zM14 30h1v1h-1zM8 32h1v1h-1zM17 11h1v1h-1zM8 32h1v1h-1zM21 8h1v1h-1zM29 6h1v1h-1zM14 13h1v1h-1zM20 32h1v1h-1zM7 16h1v1h-1zM13 10h1v1h-1zM12 15h1v1h-1zM16 7h1v1h-1zM10 0h1v1h-1z"/></pattern>
<pattern id="spc" width="37" height="37" patternUnits="userSpaceOnUse"><path fill="#f04848" d="M23 30h1v1h-1zM30 18h1v1h-1zM26 14h1v1h-1zM28 0h1v1h-1zM26 16h1v1h-1zM15 14h1v1h-1zM0 18h1v1h-1zM19 21h1v1h-1zM9 19h1v1h-1zM1 14h1v1h-1zM16 1h1v1h-1zM9 1h1v1h-1zM29 29h1v1h-1zM18 14h1v1h-1zM19 23h1v1h-1zM16 26h1v1h-1zM5 22h1v1h-1zM31 27h1v1h-1zM33 11h1v1h-1zM36 18h1v1h-1zM2 18h1v1h-1zM5 0h1v1h-1zM33 23h1v1h-1zM15 31h1v1h-1zM9 19h1v1h-1zM19 20h1v1h-1zM29 29h1v1h-1zM4 10h1v1h-1zM30 0h1v1h-1zM28 31h1v1h-1zM0 30h1v1h-1zM7 29h1v1h-1zM5 31h1v1h-1zM1 9h1v1h-1zM14 25h1v1h-1zM23 2h1v1h-1zM34 2h1v1h-1zM25 20h1v1h-1zM30 32h1v1h-1zM4 14h1v1h-1zM20 6h1v1h-1zM5 34h1v1h-1zM7 15h1v1h-1zM0 25h1v1h-1zM2 7h1v1h-1zM3 25h1v1h-1zM9 16h1v1h-1zM15 11h1v1h-1zM0 15h1v1h-1zM33 15h1v1h-1zM7 6h1v1h-1zM9 17h1v1h-1zM24 26h1v1h-1zM2 25h1v1h-1zM29 29h1v1h-1zM29 16h1v1h-1zM2 3h1v1h-1zM1 12h1v1h-1zM27 16h1v1h-1zM32 24h1v1h-1zM6 13h1v1h-1zM7 26h1v1h-1zM6 18h1v1h-1zM7 29h1v1h-1zM27 9h1v1h-1zM25 15h1v1h-1zM8 8h1v1h-1zM25 27h1v1h-1zM32 14h1v1h-1zM25 11h1v1h-1zM23 31h1v1h-1zM11 26h1v1h-1zM13 27h1v1h-1zM1 31h1v1h-1zM19 36h1v1h-1zM18 7h1v1h-1zM4 19h1v1h-1zM31 15h1v1h-1zM34 30h1v1h-1zM13 28h1v1h-1zM32 8h1v1h-1zM31 35h1v1h-1zM5 6h1v1h-1zM20 3h1v1h-1zM29 5h1v1h-1zM31 3h1v1h-1zM32 21h1v1h-1zM34 10h1v1h-1zM6 23h1v1h-1zM25 18h1v1h-1zM25 4h1v1h-1zM14 12h1v1h-1zM29 13h1v1h-1zM0 0h1v1h-1zM14 21h1v1h-1zM25 13h1v1h-1zM3 17h1v1h-1zM1 24h1v1h-1zM3 9h1v1h-1zM34 14h1v1h-1zM13 32h1v1h-1zM34 17h1v1h-1zM32 1h1v1h-1zM32 13h1v1h-1zM30 30h1v1h-1zM22 8h1v1h-1zM29 11h1v1h-1zM6 12h1v1h-1zM1 5h1v1h-1zM23 18h1v1h-1zM6 9h1v1h-1zM2 11h1v1h-1zM7 14h1v1h-1zM22 13h1v1h-1zM36 27h1v1h-1zM5 11h1v1h-1zM5 29h1v1h-1zM5 2h1v1h-1zM36 9h1v1h-1zM9 10h1v1h-1zM13 26h1v1h-1zM2 22h1v1h-1zM7 25h1v1h-1zM26 16h1v1h-1zM7 24h1v1h-1zM12 22h1v1h-1zM28 23h1v1h-1zM27 1h1v1h-1zM22 12h1v1h-1zM5 13h1v1h-1zM24 26h1v1h-1zM3 13h1v1h-1zM26 35h1v1h-1zM21 2h1v1h-1zM33 25h1v1h-1zM22 1h1v1h-1zM9 26h1v1h-1zM15 20h1v1h-1zM10 25h1v1h-1zM3 24h1v1h-1zM2 25h1v1h-1zM28 2h1v1h-1zM9 0h1v1h-1zM10 12h1v1h-1zM18 26h1v1h-1zM1 3h1v1h-1zM7 33h1v1h-1zM34 0h1v1h-1zM8 20h1v1h-1zM5 34h1v1h-1zM19 28h1v1h-1zM9 27h1v1h-1zM18 36h1v1h-1zM26 34h1v1h-1zM5 9h1v1h-1zM2 19h1v1h-1zM16 19h1v1h-1zM28 20h1v1h-1zM4 16h1v1h-1zM24 19h1v1h-1zM36 30h1v1h-1zM1 7h1v1h-1zM7 21h1v1h-1zM25 17h1v1h-1zM28 18h1v1h-1zM13 17h1v1h-1zM0 30h1v1h-1zM0 12h1v1h-1zM5 26h1v1h-1zM9 14h1v1h-1zM21 26h1v1h-1zM36 6h1v1h-1zM17 0h1v1h-1zM20 10h1v1h-1zM23 26h1v1h-1zM18 23h1v1h-1zM13 10h1v1h-1zM12 33h1v1h-1zM2 34h1v1h-1zM5 17h1v1h-1zM0 1h1v1h-1zM35 6h1v1h-1zM17 12h1v1h-1zM6 7h1v1h-1zM31 31h1v1h-1zM22 1h1v1h-1zM0 4h1v1h-1zM16 26h1v1h-1zM7 21h1v1h-1zM26 30h1v1h-1zM24 15h1v1h-1zM12 19h1v1h-1zM10 14h1v1h-1zM11 11h1v1h-1zM24 22h1v1h-1zM4 9h1v1h-1zM1 13h1v1h-1zM9 26h1v1h-1zM5 16h1v1h-1zM18 27h1v1h-1zM21 20h1v1h-1zM25 12h1v1h-1zM21 15h1v1h-1zM29 1h1v1h-1zM34 1h1v1h-1zM22 1h1v1h-1zM28 34h1v1h-1zM26 32h1v1h-1zM26 5h1v1h-1zM33 9h1v1h-1zM15 34h1v1h-1zM15 1h1v1h-1zM11 2h1v1h-1zM10 16h1v1h-1zM14 23h1v1h-1zM31 2h1v1h-1zM31 8h1v1h-1zM15 20h1v1h-1zM30 26h1v1h-1zM23 21h1v1h-1zM15 18h1v1h-1zM26 0h1v1h-1zM26 0h1v1h-1zM13 27h1v1h-1zM9 0h1v1h-1zM13 8h1v1h-1zM1 6h1v1h-1zM32 12h1v1h-1zM15 25h1v1h-1zM17 0h1v1h-1zM29 3h1v1h-1zM20 19h1v1h-1zM20 21h1v1h-1zM15 15h1v1h-1zM2 33h1v1h-1zM18 9h1v1h-1zM16 20h1v1h-1zM22 7h1v1h-1zM15 5h1v1h-1zM31 3h1v1h-1zM19 15h1v1h-1zM17 25h1v1h-1zM33 9h1v1h-1zM18 32h1v1h-1zM3 22h1v1h-1zM24 0h1v1h-1zM13 22h1v1h-1zM5 20h1v1h-1zM21 23h1v1h-1zM27 32h1v1h-1zM19 15h1v1h-1zM7 12h1v1h-1zM5 8h1v1h-1zM27 35h1v1h-1zM11 35h1v1h-1zM8 12h1v1h-1zM10 13h1v1h-1zM29 33h1v1h-1zM15 13h1v1h-1zM9 27h1v1h-1z"/></pattern>
<pattern id="ws" width="37" height="37" patternUnits="userSpaceOnUse"><path fill="#fff4f0" d="M16 18h1v1h-1zM11 14h1v1h-1zM9 14h1v1h-1zM11 8h1v1h-1zM4 34h1v1h-1zM13 18h1v1h-1zM1 27h1v1h-1zM8 0h1v1h-1zM17 9h1v1h-1zM5 16h1v1h-1zM28 27h1v1h-1zM8 16h1v1h-1zM22 14h1v1h-1zM31 35h1v1h-1zM36 27h1v1h-1zM23 27h1v1h-1zM20 7h1v1h-1zM22 16h1v1h-1zM28 35h1v1h-1zM8 28h1v1h-1zM28 34h1v1h-1zM11 18h1v1h-1zM12 11h1v1h-1zM33 22h1v1h-1zM16 23h1v1h-1zM29 16h1v1h-1zM17 25h1v1h-1zM8 36h1v1h-1zM31 35h1v1h-1zM15 36h1v1h-1zM15 12h1v1h-1zM23 8h1v1h-1zM4 27h1v1h-1zM29 24h1v1h-1zM0 27h1v1h-1zM2 14h1v1h-1zM9 31h1v1h-1zM28 16h1v1h-1zM10 26h1v1h-1zM16 22h1v1h-1zM12 23h1v1h-1zM33 8h1v1h-1zM15 31h1v1h-1zM13 2h1v1h-1zM2 22h1v1h-1zM36 21h1v1h-1zM11 18h1v1h-1zM12 10h1v1h-1zM35 7h1v1h-1zM14 10h1v1h-1zM4 27h1v1h-1zM35 34h1v1h-1zM2 28h1v1h-1zM21 5h1v1h-1zM33 0h1v1h-1zM8 19h1v1h-1zM7 26h1v1h-1zM19 17h1v1h-1zM36 4h1v1h-1zM30 33h1v1h-1zM23 2h1v1h-1zM0 20h1v1h-1zM21 9h1v1h-1zM31 35h1v1h-1zM34 33h1v1h-1zM30 14h1v1h-1zM13 18h1v1h-1zM2 24h1v1h-1zM32 10h1v1h-1zM9 16h1v1h-1zM27 13h1v1h-1zM16 27h1v1h-1zM15 22h1v1h-1zM15 18h1v1h-1zM27 13h1v1h-1zM22 27h1v1h-1zM2 20h1v1h-1zM25 29h1v1h-1zM5 4h1v1h-1zM2 0h1v1h-1zM19 12h1v1h-1zM28 30h1v1h-1zM35 24h1v1h-1zM21 3h1v1h-1zM18 33h1v1h-1zM27 8h1v1h-1zM9 3h1v1h-1zM7 23h1v1h-1zM10 13h1v1h-1zM19 19h1v1h-1zM24 18h1v1h-1zM2 22h1v1h-1zM8 6h1v1h-1zM23 31h1v1h-1zM28 27h1v1h-1zM2 22h1v1h-1zM34 18h1v1h-1zM8 3h1v1h-1zM20 10h1v1h-1zM34 8h1v1h-1zM0 15h1v1h-1zM9 5h1v1h-1zM30 23h1v1h-1zM4 22h1v1h-1zM16 13h1v1h-1zM3 15h1v1h-1zM15 33h1v1h-1zM28 12h1v1h-1zM36 25h1v1h-1zM3 35h1v1h-1zM3 7h1v1h-1zM8 34h1v1h-1zM23 34h1v1h-1zM25 19h1v1h-1zM9 34h1v1h-1zM19 16h1v1h-1zM5 23h1v1h-1zM3 1h1v1h-1zM10 0h1v1h-1zM6 33h1v1h-1zM17 5h1v1h-1zM21 27h1v1h-1zM10 18h1v1h-1zM2 7h1v1h-1zM6 19h1v1h-1zM25 24h1v1h-1zM30 24h1v1h-1zM17 9h1v1h-1zM9 28h1v1h-1zM19 0h1v1h-1zM33 1h1v1h-1zM34 16h1v1h-1zM17 21h1v1h-1zM14 15h1v1h-1zM23 26h1v1h-1zM10 30h1v1h-1zM26 16h1v1h-1zM9 29h1v1h-1zM34 29h1v1h-1zM12 24h1v1h-1zM30 12h1v1h-1zM1 36h1v1h-1zM2 30h1v1h-1zM32 11h1v1h-1zM8 6h1v1h-1zM0 8h1v1h-1zM19 5h1v1h-1zM31 36h1v1h-1zM33 3h1v1h-1zM13 27h1v1h-1zM1 34h1v1h-1zM1 9h1v1h-1zM19 9h1v1h-1zM3 32h1v1h-1zM27 16h1v1h-1zM14 31h1v1h-1zM1 6h1v1h-1zM15 20h1v1h-1zM33 32h1v1h-1zM0 36h1v1h-1zM28 21h1v1h-1zM14 3h1v1h-1zM33 27h1v1h-1zM15 32h1v1h-1zM0 6h1v1h-1zM23 9h1v1h-1zM29 22h1v1h-1zM8 22h1v1h-1zM14 18h1v1h-1zM5 16h1v1h-1z"/></pattern>
<pattern id="wsd" width="37" height="37" patternUnits="userSpaceOnUse"><path fill="#fff4f0" d="M6 33h1v1h-1zM15 17h1v1h-1zM16 18h1v1h-1zM4 28h1v1h-1zM19 29h1v1h-1zM25 25h1v1h-1zM7 16h1v1h-1zM14 20h1v1h-1zM22 16h1v1h-1zM23 33h1v1h-1zM9 10h1v1h-1zM35 17h1v1h-1zM10 0h1v1h-1zM4 7h1v1h-1zM21 1h1v1h-1zM5 17h1v1h-1zM13 24h1v1h-1zM25 28h1v1h-1zM6 7h1v1h-1zM23 11h1v1h-1zM6 31h1v1h-1zM32 12h1v1h-1zM17 28h1v1h-1zM13 31h1v1h-1zM18 32h1v1h-1zM16 6h1v1h-1zM7 5h1v1h-1zM17 17h1v1h-1zM7 1h1v1h-1zM10 26h1v1h-1zM7 33h1v1h-1zM5 27h1v1h-1zM30 10h1v1h-1zM34 24h1v1h-1zM29 19h1v1h-1zM31 29h1v1h-1zM27 26h1v1h-1zM6 16h1v1h-1zM30 25h1v1h-1zM15 28h1v1h-1zM31 4h1v1h-1zM36 9h1v1h-1zM31 17h1v1h-1zM36 28h1v1h-1zM1 25h1v1h-1zM27 1h1v1h-1zM22 36h1v1h-1zM23 30h1v1h-1zM16 22h1v1h-1zM19 33h1v1h-1zM12 2h1v1h-1zM35 30h1v1h-1zM16 6h1v1h-1zM24 6h1v1h-1zM2 12h1v1h-1zM19 1h1v1h-1zM0 32h1v1h-1zM18 33h1v1h-1zM22 16h1v1h-1zM7 2h1v1h-1zM9 12h1v1h-1zM0 14h1v1h-1zM16 32h1v1h-1zM16 11h1v1h-1zM15 13h1v1h-1zM21 18h1v1h-1zM23 2h1v1h-1zM35 10h1v1h-1zM32 12h1v1h-1zM23 31h1v1h-1zM24 15h1v1h-1zM24 34h1v1h-1zM35 20h1v1h-1zM31 2h1v1h-1zM15 27h1v1h-1zM30 21h1v1h-1zM5 16h1v1h-1zM6 8h1v1h-1zM12 3h1v1h-1zM9 13h1v1h-1zM16 31h1v1h-1zM28 8h1v1h-1zM34 24h1v1h-1zM3 6h1v1h-1zM16 23h1v1h-1zM34 27h1v1h-1zM26 8h1v1h-1zM28 14h1v1h-1zM5 9h1v1h-1zM11 9h1v1h-1zM1 14h1v1h-1zM22 35h1v1h-1zM2 36h1v1h-1zM26 29h1v1h-1zM17 30h1v1h-1zM20 4h1v1h-1zM23 3h1v1h-1zM34 6h1v1h-1zM4 27h1v1h-1zM7 3h1v1h-1zM10 4h1v1h-1zM0 19h1v1h-1zM2 8h1v1h-1zM24 9h1v1h-1zM0 28h1v1h-1zM29 31h1v1h-1zM33 1h1v1h-1zM18 5h1v1h-1zM17 15h1v1h-1zM18 32h1v1h-1zM0 35h1v1h-1zM15 0h1v1h-1zM22 7h1v1h-1zM7 25h1v1h-1zM24 28h1v1h-1zM18 22h1v1h-1zM21 1h1v1h-1zM16 8h1v1h-1zM18 36h1v1h-1zM19 13h1v1h-1zM33 28h1v1h-1zM1 4h1v1h-1zM28 21h1v1h-1zM36 24h1v1h-1zM27 16h1v1h-1zM26 12h1v1h-1zM1 24h1v1h-1zM30 15h1v1h-1zM24 33h1v1h-1zM7 14h1v1h-1zM15 12h1v1h-1zM16 4h1v1h-1zM15 5h1v1h-1zM29 35h1v1h-1zM3 1h1v1h-1zM12 18h1v1h-1zM27 29h1v1h-1zM14 4h1v1h-1zM4 11h1v1h-1zM23 29h1v1h-1zM12 24h1v1h-1zM6 23h1v1h-1zM30 13h1v1h-1zM22 21h1v1h-1zM31 34h1v1h-1zM19 3h1v1h-1zM11 29h1v1h-1zM8 17h1v1h-1zM30 19h1v1h-1zM34 3h1v1h-1zM9 3h1v1h-1zM33 1h1v1h-1zM19 31h1v1h-1zM23 18h1v1h-1zM23 11h1v1h-1zM8 1h1v1h-1zM13 32h1v1h-1zM4 8h1v1h-1zM14 19h1v1h-1zM25 30h1v1h-1zM22 11h1v1h-1zM22 15h1v1h-1zM35 22h1v1h-1zM21 33h1v1h-1zM27 7h1v1h-1zM0 2h1v1h-1zM19 17h1v1h-1zM10 19h1v1h-1zM12 12h1v1h-1zM7 32h1v1h-1zM14 24h1v1h-1zM18 28h1v1h-1zM7 24h1v1h-1zM7 28h1v1h-1zM4 34h1v1h-1zM15 3h1v1h-1zM34 13h1v1h-1zM34 34h1v1h-1zM24 12h1v1h-1zM34 5h1v1h-1zM8 23h1v1h-1zM30 7h1v1h-1zM5 5h1v1h-1zM35 14h1v1h-1zM14 6h1v1h-1zM8 30h1v1h-1zM35 30h1v1h-1zM20 24h1v1h-1zM32 4h1v1h-1zM23 7h1v1h-1zM32 21h1v1h-1zM17 10h1v1h-1zM29 30h1v1h-1zM6 22h1v1h-1zM2 34h1v1h-1zM28 20h1v1h-1zM0 3h1v1h-1zM34 24h1v1h-1zM12 15h1v1h-1zM34 6h1v1h-1zM22 32h1v1h-1zM10 17h1v1h-1zM27 3h1v1h-1zM11 4h1v1h-1zM27 21h1v1h-1zM30 12h1v1h-1zM35 27h1v1h-1zM9 35h1v1h-1zM34 26h1v1h-1zM19 15h1v1h-1zM18 13h1v1h-1zM10 7h1v1h-1zM16 15h1v1h-1zM32 3h1v1h-1zM13 9h1v1h-1zM13 25h1v1h-1zM16 7h1v1h-1zM14 14h1v1h-1zM0 12h1v1h-1zM19 2h1v1h-1zM17 35h1v1h-1zM15 14h1v1h-1zM21 8h1v1h-1zM14 3h1v1h-1zM17 11h1v1h-1zM0 35h1v1h-1zM26 32h1v1h-1zM17 31h1v1h-1zM28 15h1v1h-1zM3 31h1v1h-1zM9 29h1v1h-1zM13 16h1v1h-1zM12 32h1v1h-1zM19 7h1v1h-1zM31 25h1v1h-1zM1 30h1v1h-1zM34 20h1v1h-1zM27 20h1v1h-1zM18 34h1v1h-1zM20 34h1v1h-1zM4 0h1v1h-1zM21 4h1v1h-1zM15 10h1v1h-1zM12 28h1v1h-1zM16 28h1v1h-1zM31 24h1v1h-1zM24 0h1v1h-1zM25 36h1v1h-1zM15 4h1v1h-1zM18 5h1v1h-1zM32 36h1v1h-1zM13 33h1v1h-1zM30 26h1v1h-1zM29 21h1v1h-1zM23 24h1v1h-1zM36 30h1v1h-1zM16 24h1v1h-1zM17 23h1v1h-1zM11 1h1v1h-1zM8 18h1v1h-1zM7 31h1v1h-1zM31 3h1v1h-1zM14 30h1v1h-1zM1 3h1v1h-1zM8 26h1v1h-1zM11 12h1v1h-1zM11 24h1v1h-1zM2 13h1v1h-1zM18 8h1v1h-1zM2 20h1v1h-1zM20 4h1v1h-1zM32 13h1v1h-1zM1 6h1v1h-1zM5 35h1v1h-1zM0 14h1v1h-1zM35 26h1v1h-1zM9 3h1v1h-1zM21 21h1v1h-1zM36 26h1v1h-1zM26 1h1v1h-1zM34 30h1v1h-1zM1 3h1v1h-1zM1 6h1v1h-1zM27 12h1v1h-1zM0 8h1v1h-1zM6 19h1v1h-1zM20 1h1v1h-1zM2 34h1v1h-1zM12 29h1v1h-1zM20 11h1v1h-1zM15 18h1v1h-1zM17 30h1v1h-1zM26 12h1v1h-1zM31 13h1v1h-1zM32 11h1v1h-1zM31 14h1v1h-1zM17 30h1v1h-1zM10 2h1v1h-1zM5 24h1v1h-1zM21 31h1v1h-1zM11 11h1v1h-1zM33 27h1v1h-1zM20 18h1v1h-1zM27 34h1v1h-1zM21 0h1v1h-1zM3 22h1v1h-1zM2 34h1v1h-1zM32 15h1v1h-1zM1 35h1v1h-1zM1 3h1v1h-1zM21 4h1v1h-1zM33 10h1v1h-1zM21 31h1v1h-1zM24 24h1v1h-1zM36 8h1v1h-1zM21 25h1v1h-1zM12 7h1v1h-1zM8 34h1v1h-1zM24 25h1v1h-1zM12 19h1v1h-1zM7 22h1v1h-1zM4 19h1v1h-1zM32 17h1v1h-1zM35 18h1v1h-1zM28 15h1v1h-1zM2 28h1v1h-1zM7 24h1v1h-1zM7 24h1v1h-1zM24 21h1v1h-1zM7 21h1v1h-1zM5 18h1v1h-1zM14 19h1v1h-1zM13 6h1v1h-1zM20 31h1v1h-1zM29 3h1v1h-1zM17 35h1v1h-1zM18 35h1v1h-1zM18 35h1v1h-1zM8 21h1v1h-1zM35 19h1v1h-1zM16 30h1v1h-1zM5 6h1v1h-1zM28 30h1v1h-1zM17 0h1v1h-1zM19 24h1v1h-1zM17 20h1v1h-1zM9 9h1v1h-1zM5 17h1v1h-1zM33 10h1v1h-1zM12 31h1v1h-1zM12 34h1v1h-1zM25 17h1v1h-1zM24 26h1v1h-1zM20 6h1v1h-1zM6 35h1v1h-1zM32 30h1v1h-1zM20 7h1v1h-1zM14 26h1v1h-1zM10 25h1v1h-1zM28 1h1v1h-1zM36 16h1v1h-1zM22 19h1v1h-1zM30 27h1v1h-1zM25 17h1v1h-1zM16 29h1v1h-1zM25 11h1v1h-1zM18 13h1v1h-1zM29 26h1v1h-1zM24 35h1v1h-1zM36 28h1v1h-1zM17 11h1v1h-1zM2 30h1v1h-1zM18 8h1v1h-1zM6 32h1v1h-1zM14 2h1v1h-1zM1 10h1v1h-1zM36 7h1v1h-1zM9 7h1v1h-1zM35 15h1v1h-1zM31 13h1v1h-1zM36 10h1v1h-1zM13 2h1v1h-1zM30 20h1v1h-1zM8 1h1v1h-1zM36 26h1v1h-1zM28 36h1v1h-1zM7 10h1v1h-1zM6 31h1v1h-1zM14 10h1v1h-1zM12 20h1v1h-1zM30 21h1v1h-1zM10 8h1v1h-1zM23 16h1v1h-1zM31 16h1v1h-1zM32 14h1v1h-1zM27 18h1v1h-1zM15 16h1v1h-1zM22 33h1v1h-1zM33 32h1v1h-1zM4 2h1v1h-1zM12 28h1v1h-1zM25 36h1v1h-1zM18 4h1v1h-1zM1 35h1v1h-1zM1 29h1v1h-1zM31 30h1v1h-1zM14 12h1v1h-1zM4 23h1v1h-1zM26 33h1v1h-1zM0 8h1v1h-1zM20 25h1v1h-1zM18 18h1v1h-1zM27 2h1v1h-1zM0 3h1v1h-1zM24 2h1v1h-1zM3 28h1v1h-1zM15 2h1v1h-1zM35 9h1v1h-1zM3 36h1v1h-1zM17 29h1v1h-1z"/></pattern>
<filter id="bs" x="-5%" y="-5%" width="110%" height="110%"><feGaussianBlur stdDeviation="0.35"/></filter>
<filter id="bl" x="-5%" y="-5%" width="110%" height="110%"><feGaussianBlur stdDeviation="0.55"/></filter>
<clipPath id="clipP"><rect x="1" y="0" width="135" height="135"/></clipPath>
<clipPath id="clA"><path d="M-6.9 109.2C-6.8 113.8 -8.1 132.4 -2.2 137.1C3.7 141.8 23.2 138.8 28.6 137.1C34.0 135.4 30.0 128.6 30.3 126.9C30.6 125.2 30.0 128.0 30.3 126.8C30.6 125.6 31.8 120.9 32.1 119.7C32.4 118.5 31.8 120.8 32.2 119.6C32.7 118.4 34.4 113.6 34.8 112.4C35.2 111.2 34.8 112.3 34.8 112.3C34.8 112.3 34.8 112.2 34.8 112.2C34.8 112.2 34.0 113.4 34.9 112.2C35.8 111.0 38.5 107.5 40.3 105.1C42.1 102.7 44.7 99.2 45.6 98.0C46.5 96.8 44.7 99.0 45.6 97.9C46.5 96.8 49.2 93.8 51.0 91.6C52.8 89.4 55.4 85.8 56.3 84.6C57.2 83.4 56.3 84.5 56.3 84.5C56.3 84.5 55.4 85.3 56.4 84.4C57.4 83.5 61.4 80.2 62.4 79.3C63.4 78.4 61.4 80.1 62.4 79.3C63.4 78.5 66.2 76.2 68.4 74.3C70.6 72.4 73.1 70.3 75.4 68.1C77.7 65.9 80.3 63.3 82.3 61.0C84.3 58.7 86.4 55.7 87.3 54.3C88.2 52.9 88.0 52.6 87.5 52.7C87.0 52.8 86.1 53.6 84.4 55.0C82.7 56.4 78.4 60.1 77.2 61.1C76.0 62.1 78.4 60.2 77.2 61.1C76.0 62.0 72.5 64.8 70.1 66.7C67.7 68.6 64.2 71.4 63.0 72.4C61.8 73.4 64.1 71.7 62.9 72.5C61.7 73.3 56.9 76.2 55.7 77.0C54.5 77.8 56.8 76.4 55.6 77.0C54.4 77.6 50.9 79.3 48.5 80.6C46.1 81.9 43.6 83.7 41.5 85.0C39.4 86.3 37.0 87.9 36.1 88.5C35.2 89.1 37.0 88.0 36.1 88.6C35.2 89.2 32.5 90.7 30.8 92.0C29.1 93.3 26.5 95.7 25.6 96.5C24.7 97.3 25.5 96.6 25.5 96.6C25.5 96.6 26.3 96.1 25.4 96.6C24.5 97.0 20.9 98.8 20.0 99.3C19.1 99.8 21.2 98.7 20.0 99.3C18.8 99.9 15.3 101.6 12.9 102.8C10.5 104.0 6.9 105.8 5.7 106.4C4.5 107.0 5.6 106.4 5.6 106.4C5.6 106.4 7.0 106.0 5.6 106.5C4.2 107.0 -1.3 108.8 -2.7 109.2C-4.1 109.7 -2.8 109.2 -2.8 109.2C-2.8 109.2 -2.9 109.2 -2.9 109.2C-2.9 109.2 -2.3 109.2 -3.0 109.2C-3.7 109.2 -7.0 104.6 -6.9 109.2Z"/></clipPath>
<clipPath id="coA"><path d="M-6.7 109.4C-6.5 114.0 -8.0 132.3 -2.1 136.9C3.8 141.5 23.1 138.6 28.5 136.9C33.9 135.2 29.8 128.5 30.1 126.8C30.4 125.1 29.8 127.9 30.1 126.7C30.4 125.5 31.6 120.8 31.9 119.6C32.2 118.4 31.6 120.7 32.0 119.5C32.5 118.3 34.2 113.5 34.6 112.3C35.0 111.1 34.6 112.2 34.6 112.2C34.6 112.2 34.7 112.1 34.7 112.1C34.7 112.1 33.8 113.2 34.7 112.0C35.6 110.8 38.3 107.3 40.1 104.9C41.9 102.5 44.5 99.0 45.4 97.8C46.3 96.6 44.6 98.8 45.5 97.8C46.4 96.8 49.0 93.7 50.8 91.5C52.6 89.3 55.2 85.6 56.1 84.4C57.0 83.2 56.2 84.3 56.2 84.3C56.2 84.3 55.3 85.1 56.3 84.3C57.3 83.5 61.3 80.0 62.3 79.2C63.3 78.4 61.3 80.0 62.3 79.2C63.3 78.4 66.1 76.1 68.3 74.2C70.5 72.3 72.9 70.2 75.2 68.0C77.5 65.8 80.2 63.2 82.2 60.9C84.2 58.6 86.3 55.5 87.1 54.2C87.9 52.9 87.6 52.9 87.2 53.1C86.8 53.3 86.2 53.9 84.5 55.2C82.8 56.6 78.5 60.2 77.3 61.2C76.1 62.2 78.5 60.3 77.3 61.3C76.1 62.2 72.6 65.0 70.2 66.9C67.8 68.8 64.3 71.6 63.1 72.6C61.9 73.5 64.2 71.8 63.0 72.6C61.8 73.3 57.0 76.3 55.8 77.1C54.6 77.9 56.9 76.6 55.7 77.2C54.5 77.8 51.0 79.5 48.6 80.8C46.2 82.1 43.7 83.8 41.6 85.1C39.5 86.4 37.1 88.1 36.2 88.7C35.3 89.3 37.1 88.1 36.2 88.7C35.3 89.3 32.8 90.9 31.0 92.2C29.2 93.5 26.6 95.8 25.7 96.6C24.8 97.3 25.6 96.7 25.6 96.7C25.6 96.7 26.4 96.3 25.5 96.8C24.6 97.3 21.0 99.0 20.1 99.5C19.2 100.0 21.3 98.9 20.1 99.5C18.9 100.1 15.4 101.8 13.0 103.0C10.6 104.2 7.0 106.0 5.8 106.6C4.6 107.2 5.7 106.6 5.7 106.6C5.7 106.6 7.0 106.1 5.6 106.6C4.2 107.0 -1.3 108.8 -2.7 109.3C-4.1 109.8 -2.8 109.4 -2.8 109.4C-2.8 109.4 -2.9 109.4 -2.9 109.4C-2.9 109.4 -2.4 109.4 -3.0 109.4C-3.6 109.4 -6.9 104.8 -6.7 109.4Z"/></clipPath>
<clipPath id="clB"><path d="M-7.0 94.9C-6.9 101.9 -8.3 130.1 -2.2 137.1C3.9 144.1 24.0 137.9 29.6 137.1C35.2 136.2 30.5 134.3 31.2 132.0C31.9 129.7 33.0 126.1 33.9 123.1C34.8 120.1 36.0 115.7 36.5 114.2C37.0 112.7 36.0 115.7 36.6 114.2C37.2 112.7 39.6 106.8 40.2 105.3C40.8 103.8 40.2 105.2 40.2 105.2C40.2 105.2 39.3 106.6 40.2 105.1C41.1 103.6 44.6 97.7 45.5 96.2C46.4 94.7 44.6 97.7 45.5 96.2C46.4 94.7 50.0 88.8 50.9 87.3C51.8 85.8 50.0 88.6 50.9 87.3C51.8 86.0 55.3 80.6 56.2 79.3C57.1 78.0 55.1 80.6 56.3 79.2C57.5 77.8 62.3 72.4 63.5 71.1C64.7 69.8 62.4 72.3 63.6 71.1C64.8 69.9 68.4 66.4 70.7 64.0C73.0 61.6 75.6 59.3 77.7 56.9C79.8 54.5 82.8 50.9 83.6 49.5C84.4 48.1 83.8 47.9 82.7 48.4C81.6 48.9 78.1 52.1 77.2 52.8C76.3 53.5 78.3 51.9 77.1 52.8C75.9 53.7 71.2 57.3 70.0 58.2C68.8 59.1 71.2 57.3 70.0 58.2C68.8 59.1 65.4 61.6 63.0 63.5C60.6 65.4 57.0 68.8 55.8 69.8C54.6 70.8 55.7 69.8 55.7 69.8C55.7 69.8 56.9 69.2 55.7 69.9C54.5 70.7 51.0 72.8 48.6 74.3C46.2 75.8 42.7 78.0 41.5 78.8C40.3 79.5 42.6 78.2 41.4 78.8C40.2 79.4 36.7 81.1 34.3 82.3C31.9 83.5 28.3 85.3 27.1 85.9C25.9 86.5 28.2 85.5 27.0 85.9C25.8 86.4 21.1 88.1 19.9 88.6C18.7 89.1 21.0 88.4 19.8 88.7C18.6 89.0 15.2 89.8 12.8 90.5C10.4 91.2 6.8 92.6 5.6 93.0C4.4 93.4 6.9 92.8 5.5 93.1C4.1 93.4 -1.4 94.6 -2.8 94.9C-4.2 95.2 -2.9 94.9 -2.9 94.9C-2.9 94.9 -2.3 94.9 -3.0 94.9C-3.7 94.9 -7.1 87.9 -7.0 94.9Z"/></clipPath>
<clipPath id="coB"><path d="M-6.8 95.1C-6.6 102.1 -8.1 129.9 -2.0 136.9C4.0 143.9 24.0 137.7 29.5 136.9C35.0 136.1 30.3 134.3 31.0 132.0C31.7 129.7 32.8 126.1 33.7 123.1C34.6 120.1 35.8 115.7 36.3 114.2C36.8 112.7 35.8 115.6 36.4 114.1C37.0 112.6 39.4 106.7 40.0 105.2C40.6 103.7 40.0 105.1 40.0 105.1C40.0 105.1 39.2 106.5 40.1 105.0C41.0 103.5 44.5 97.6 45.4 96.1C46.3 94.6 44.5 97.6 45.4 96.1C46.3 94.6 49.9 88.7 50.8 87.2C51.7 85.7 49.9 88.5 50.8 87.2C51.7 85.9 55.2 80.6 56.1 79.2C57.0 77.8 55.0 80.5 56.2 79.1C57.4 77.7 62.2 72.4 63.4 71.0C64.6 69.6 62.2 72.1 63.4 70.9C64.6 69.7 68.1 66.2 70.5 63.8C72.9 61.4 75.5 59.2 77.6 56.8C79.7 54.4 82.4 50.9 83.3 49.5C84.2 48.1 83.7 48.1 82.7 48.7C81.7 49.3 78.2 52.3 77.3 53.0C76.4 53.7 78.5 52.1 77.3 53.0C76.1 53.9 71.4 57.5 70.2 58.4C69.0 59.3 71.4 57.5 70.2 58.4C69.0 59.3 65.5 61.8 63.1 63.7C60.7 65.6 57.1 68.9 55.9 69.9C54.7 71.0 55.9 70.0 55.9 70.0C55.9 70.0 57.0 69.3 55.8 70.0C54.6 70.7 51.1 72.9 48.7 74.4C46.3 75.9 42.8 78.1 41.6 78.9C40.4 79.7 42.7 78.4 41.5 79.0C40.3 79.6 36.8 81.3 34.4 82.5C32.0 83.7 28.4 85.5 27.2 86.1C26.0 86.7 28.3 85.6 27.1 86.1C25.9 86.5 21.2 88.3 20.0 88.8C18.8 89.3 21.1 88.6 19.9 88.9C18.7 89.2 15.2 90.0 12.8 90.7C10.4 91.4 6.9 92.8 5.7 93.2C4.5 93.6 6.9 93.0 5.5 93.3C4.1 93.6 -1.4 94.8 -2.8 95.1C-4.2 95.4 -2.9 95.1 -2.9 95.1C-2.9 95.1 -2.4 95.1 -3.0 95.1C-3.6 95.1 -7.0 88.1 -6.8 95.1Z"/></clipPath>
<clipPath id="clC"><path d="M-6.0 94.9C-5.7 101.8 -7.2 129.3 -1.4 136.2C4.4 143.1 23.7 136.9 29.0 136.2C34.3 135.5 30.2 132.6 30.4 131.8C30.6 131.0 30.4 131.7 30.4 131.6C30.4 131.5 29.9 132.7 30.5 131.5C31.1 130.3 33.4 125.6 34.0 124.4C34.6 123.2 33.4 125.6 34.0 124.4C34.6 123.2 36.6 119.8 37.5 117.5C38.4 115.2 39.0 111.7 39.3 110.5C39.6 109.3 38.7 111.7 39.3 110.2C39.9 108.7 41.7 104.3 42.9 101.3C44.1 98.3 45.8 93.9 46.4 92.4C47.0 90.9 46.5 92.3 46.5 92.3C46.5 92.2 46.6 92.1 46.6 92.1C46.6 92.0 45.8 93.2 46.7 92.0C47.6 90.8 50.2 87.6 52.0 85.0C53.8 82.4 56.4 77.7 57.3 76.2C58.2 74.7 57.3 76.1 57.3 76.1C57.3 76.0 57.4 76.0 57.4 75.9C57.4 75.9 56.3 77.0 57.5 75.8C58.7 74.6 62.2 71.1 64.6 68.7C67.0 66.3 69.4 63.8 71.8 61.5C74.2 59.2 77.5 56.0 78.7 54.7C79.9 53.5 80.0 53.3 78.9 54.0C77.9 54.7 73.5 58.1 72.4 58.9C71.3 59.7 73.6 58.0 72.4 58.9C71.2 59.8 67.7 62.4 65.3 64.2C62.9 66.0 59.3 68.7 58.1 69.6C56.9 70.5 59.3 68.7 58.1 69.6C56.9 70.5 52.2 74.0 51.0 74.9C49.8 75.8 50.8 75.0 50.8 75.0C50.8 75.0 51.9 74.5 50.7 75.1C49.5 75.7 44.8 78.1 43.6 78.7C42.4 79.3 44.8 78.1 43.6 78.7C42.4 79.3 38.9 80.9 36.5 82.2C34.1 83.5 30.7 85.8 29.5 86.6C28.3 87.3 30.5 86.1 29.3 86.7C28.1 87.3 23.4 89.7 22.2 90.3C21.0 90.9 22.1 90.4 22.0 90.4C21.9 90.4 23.0 90.2 21.8 90.5C20.6 90.8 17.1 91.5 14.7 92.1C12.3 92.7 8.7 93.6 7.5 93.9C6.3 94.2 7.4 94.0 7.4 94.0C7.4 94.0 9.0 93.8 7.3 94.0C5.6 94.2 -1.1 94.8 -2.8 94.9C-4.5 95.1 -2.5 94.9 -3.0 94.9C-3.5 94.9 -6.3 88.0 -6.0 94.9Z"/></clipPath>
<clipPath id="coC"><path d="M-6.8 94.2C-6.6 101.3 -8.1 129.8 -2.0 136.9C4.0 144.0 24.0 137.7 29.5 136.9C35.0 136.1 30.8 132.8 31.1 132.0C31.4 131.2 31.1 131.9 31.1 131.9C31.1 131.9 30.5 133.0 31.1 131.8C31.7 130.6 34.0 125.9 34.6 124.7C35.2 123.5 34.0 125.9 34.6 124.7C35.2 123.5 37.3 120.1 38.2 117.7C39.1 115.3 39.6 111.8 39.9 110.6C40.2 109.4 39.4 112.0 40.0 110.5C40.6 109.0 42.4 104.6 43.6 101.6C44.8 98.6 46.5 94.2 47.1 92.7C47.7 91.2 47.1 92.6 47.1 92.6C47.1 92.6 47.2 92.5 47.2 92.5C47.2 92.5 46.3 93.6 47.2 92.4C48.1 91.2 50.8 88.1 52.6 85.4C54.4 82.8 57.0 78.0 57.9 76.5C58.8 75.0 57.9 76.5 57.9 76.5C57.9 76.5 58.0 76.4 58.0 76.4C58.0 76.4 56.8 77.5 58.0 76.3C59.2 75.1 62.7 71.6 65.1 69.2C67.5 66.8 69.9 64.3 72.3 62.0C74.7 59.6 77.9 56.8 79.3 55.1C80.7 53.4 80.5 52.2 80.5 51.9C80.5 51.5 79.3 52.8 79.1 53.0C78.9 53.2 80.3 52.1 79.1 53.0C77.9 53.9 73.2 57.5 72.0 58.4C70.8 59.3 73.2 57.5 72.0 58.4C70.8 59.3 67.3 61.9 64.9 63.7C62.5 65.5 58.9 68.2 57.7 69.1C56.5 70.0 58.9 68.2 57.7 69.1C56.5 70.0 51.8 73.5 50.6 74.4C49.4 75.3 50.5 74.4 50.5 74.4C50.5 74.4 51.6 73.9 50.4 74.5C49.2 75.1 44.5 77.5 43.3 78.1C42.1 78.7 44.5 77.5 43.3 78.1C42.1 78.7 38.5 80.3 36.1 81.6C33.7 82.9 30.3 85.2 29.1 86.0C27.9 86.8 30.2 85.5 29.0 86.1C27.8 86.7 23.1 89.1 21.9 89.7C20.7 90.3 21.8 89.7 21.8 89.7C21.8 89.7 22.9 89.5 21.7 89.8C20.5 90.1 17.0 90.9 14.6 91.5C12.2 92.1 8.6 93.0 7.4 93.3C6.2 93.6 7.3 93.3 7.3 93.3C7.3 93.3 8.9 93.1 7.2 93.3C5.5 93.5 -1.2 94.0 -2.9 94.2C-4.6 94.4 -2.4 94.2 -3.0 94.2C-3.6 94.2 -7.0 87.1 -6.8 94.2Z"/></clipPath>
<clipPath id="clD"><path d="M-6.0 98.5C-5.7 104.8 -7.9 129.9 -1.4 136.2C5.1 142.5 27.3 137.2 33.2 136.2C39.1 135.2 33.7 131.3 33.8 130.3C33.9 129.3 33.8 130.2 33.8 130.1C33.8 130.0 33.4 131.5 33.9 130.0C34.4 128.5 35.7 124.1 36.6 121.1C37.5 118.1 38.8 113.7 39.3 112.2C39.8 110.7 38.7 113.5 39.3 112.0C39.9 110.5 41.7 106.1 42.9 103.1C44.1 100.1 45.8 95.7 46.4 94.2C47.0 92.7 46.5 94.1 46.5 94.1C46.5 94.1 45.7 95.5 46.6 94.0C47.5 92.5 51.1 86.6 52.0 85.1C52.9 83.6 50.9 86.4 52.1 84.9C53.3 83.4 58.0 77.5 59.2 76.0C60.4 74.5 58.1 77.0 59.3 75.8C60.5 74.6 64.0 71.1 66.4 68.7C68.8 66.3 71.4 63.9 73.6 61.6C75.8 59.3 78.5 56.2 79.5 54.8C80.5 53.4 79.9 53.4 79.9 53.2C79.9 53.0 79.6 53.5 79.5 53.5C79.4 53.5 80.7 52.6 79.5 53.5C78.3 54.4 73.6 58.0 72.4 58.9C71.2 59.8 73.6 58.0 72.4 58.9C71.2 59.8 66.5 63.3 65.3 64.2C64.1 65.1 66.4 63.5 65.2 64.3C64.0 65.1 59.2 68.0 58.0 68.8C56.8 69.5 59.1 68.1 57.9 68.8C56.7 69.5 53.2 71.7 50.9 73.2C48.5 74.7 45.0 76.9 43.8 77.7C42.6 78.5 44.8 77.2 43.6 77.8C42.4 78.4 37.6 80.8 36.4 81.4C35.2 82.0 37.6 80.8 36.4 81.4C35.2 82.0 31.7 83.7 29.3 84.9C26.9 86.1 23.4 87.9 22.2 88.5C21.0 89.1 23.2 88.1 22.0 88.6C20.8 89.1 17.4 90.3 15.0 91.3C12.7 92.3 9.1 94.1 7.9 94.7C6.7 95.3 9.4 94.2 7.7 94.8C6.0 95.4 -0.7 97.8 -2.4 98.4C-4.1 99.0 -2.5 98.5 -2.6 98.5C-2.7 98.5 -2.7 98.5 -2.8 98.5C-2.9 98.5 -2.5 98.5 -3.0 98.5C-3.5 98.5 -6.3 92.2 -6.0 98.5Z"/></clipPath>
<clipPath id="coD"><path d="M-6.8 97.8C-6.6 104.3 -8.8 130.4 -2.0 136.9C4.8 143.4 27.7 138.0 33.8 136.9C39.9 135.8 34.4 131.5 34.5 130.4C34.6 129.3 34.5 130.3 34.5 130.3C34.5 130.3 34.0 131.7 34.5 130.2C35.0 128.7 36.3 124.3 37.2 121.3C38.1 118.3 39.4 113.9 39.9 112.4C40.4 110.9 39.4 113.8 40.0 112.3C40.6 110.8 42.4 106.4 43.6 103.4C44.8 100.4 46.5 96.0 47.1 94.5C47.7 93.0 47.1 94.4 47.1 94.4C47.1 94.4 46.3 95.8 47.2 94.3C48.1 92.8 51.7 86.9 52.6 85.4C53.5 83.9 51.4 86.8 52.6 85.3C53.8 83.8 58.5 77.9 59.7 76.4C60.9 74.9 58.6 77.5 59.8 76.3C61.0 75.1 64.5 71.6 66.9 69.2C69.3 66.8 71.9 64.3 74.1 62.0C76.3 59.7 78.9 57.0 80.1 55.2C81.2 53.4 81.2 51.8 81.0 51.4C80.8 51.0 79.4 52.7 79.1 53.0C78.8 53.3 80.3 52.1 79.1 53.0C77.9 53.9 73.2 57.5 72.0 58.4C70.8 59.3 73.2 57.5 72.0 58.4C70.8 59.3 66.1 62.8 64.9 63.7C63.7 64.6 66.0 63.0 64.8 63.7C63.6 64.5 58.8 67.5 57.6 68.2C56.4 69.0 58.8 67.5 57.6 68.2C56.4 68.9 52.9 71.1 50.5 72.6C48.1 74.1 44.6 76.3 43.4 77.1C42.2 77.9 44.5 76.6 43.3 77.2C42.1 77.8 37.3 80.2 36.1 80.8C34.9 81.4 37.3 80.2 36.1 80.8C34.9 81.4 31.4 83.1 29.0 84.3C26.6 85.5 23.1 87.3 21.9 87.9C20.7 88.5 23.0 87.5 21.8 87.9C20.6 88.4 17.1 89.6 14.7 90.6C12.3 91.6 8.8 93.5 7.6 94.1C6.4 94.7 9.2 93.5 7.5 94.1C5.8 94.7 -0.9 97.1 -2.6 97.7C-4.3 98.3 -2.8 97.8 -2.8 97.8C-2.8 97.8 -2.9 97.8 -2.9 97.8C-2.9 97.8 -2.4 97.8 -3.0 97.8C-3.6 97.8 -7.0 91.3 -6.8 97.8Z"/></clipPath>
<clipPath id="clE"><path d="M-6.8 119.0C-6.7 122.0 -7.8 134.1 -2.3 137.1C3.2 140.1 20.7 138.8 26.0 137.1C31.3 135.4 28.8 128.4 29.4 126.7C30.0 125.0 29.5 126.6 29.5 126.6C29.5 126.6 29.5 126.5 29.5 126.5C29.5 126.5 28.7 127.7 29.6 126.5C30.5 125.3 34.0 120.6 34.9 119.4C35.8 118.2 33.8 120.5 35.0 119.3C36.2 118.1 41.0 113.3 42.2 112.1C43.4 110.9 41.3 112.7 42.2 112.0C43.1 111.3 46.5 108.5 47.4 107.8C48.3 107.1 46.5 108.5 47.5 107.8C48.5 107.1 51.5 105.0 53.2 103.6C54.9 102.2 56.3 100.8 57.9 99.2C59.5 97.6 61.8 94.8 62.6 93.9C63.4 93.0 61.8 94.7 62.6 93.9C63.4 93.1 66.5 89.7 67.3 88.9C68.1 88.1 66.2 90.1 67.4 88.9C68.6 87.7 73.3 82.9 74.5 81.7C75.7 80.5 73.3 82.6 74.5 81.6C75.7 80.5 79.3 77.5 81.7 75.4C84.1 73.3 87.2 70.2 88.8 68.8C90.3 67.3 90.8 66.9 91.0 66.7C91.2 66.5 91.3 66.5 89.9 67.4C88.5 68.3 85.2 70.4 82.8 72.0C80.4 73.6 78.0 75.0 75.6 76.8C73.2 78.6 70.8 80.6 68.6 82.7C66.3 84.8 63.2 88.1 62.1 89.2C61.0 90.3 62.6 88.8 62.1 89.3C61.6 89.8 59.6 91.5 59.1 91.9C58.6 92.4 59.4 91.8 59.0 92.0C58.6 92.2 57.4 93.1 57.0 93.3C56.6 93.5 56.9 93.3 56.9 93.3C56.9 93.3 56.8 93.3 56.8 93.3C56.8 93.3 56.8 93.4 56.8 93.4C56.8 93.4 56.7 93.4 56.7 93.4C56.7 93.4 56.6 93.4 56.6 93.4C56.6 93.4 56.5 93.4 56.5 93.4C56.5 93.4 56.4 93.4 56.4 93.4C56.4 93.4 56.3 93.4 56.3 93.4C56.3 93.4 56.2 93.4 56.2 93.4C56.2 93.4 56.2 93.3 56.2 93.3C56.2 93.3 56.1 93.3 56.1 93.3C56.1 93.3 56.0 93.3 56.0 93.3C56.0 93.3 55.9 93.2 55.9 93.2C55.9 93.2 55.9 93.1 55.9 93.1C55.9 93.1 55.8 93.1 55.8 93.1C55.8 93.1 55.8 93.0 55.8 93.0C55.8 93.0 55.7 92.9 55.7 92.9C55.7 92.9 55.7 92.9 55.7 92.9C55.7 92.9 55.6 92.8 55.6 92.8C55.6 92.8 55.6 92.7 55.6 92.7C55.6 92.7 55.6 92.6 55.6 92.6C55.6 92.6 55.6 92.5 55.6 92.5C55.6 92.5 55.6 92.4 55.6 92.4C55.6 92.4 55.6 92.3 55.6 92.3C55.6 92.3 55.6 92.3 55.6 92.3C55.6 92.3 55.5 92.8 55.7 92.2C55.9 91.6 56.8 89.4 57.0 88.8C57.2 88.2 57.0 88.7 57.0 88.7C57.0 88.7 56.5 89.4 57.0 88.6C57.5 87.8 59.0 85.7 60.1 83.9C61.2 82.2 62.6 80.0 63.7 78.1C64.8 76.1 66.2 73.3 66.7 72.2C67.2 71.1 67.2 71.5 66.9 71.6C66.6 71.7 66.1 71.9 65.0 72.7C63.9 73.5 61.0 75.6 60.2 76.2C59.4 76.8 61.2 75.5 60.2 76.2C59.2 76.9 56.3 78.8 54.3 80.3C52.3 81.8 49.4 84.3 48.4 85.1C47.4 85.9 49.4 84.3 48.4 85.1C47.4 85.9 44.5 88.2 42.5 89.8C40.5 91.4 37.5 93.8 36.5 94.6C35.5 95.4 37.6 93.9 36.4 94.7C35.1 95.5 31.4 97.9 29.0 99.5C26.6 101.1 24.3 102.8 21.9 104.5C19.5 106.2 16.0 109.0 14.8 109.9C13.6 110.8 16.0 109.2 14.8 110.0C13.6 110.8 8.8 113.7 7.6 114.4C6.4 115.1 9.2 113.7 7.5 114.4C5.8 115.2 -0.9 118.1 -2.6 118.9C-4.3 119.7 -2.7 119.0 -2.7 119.0C-2.7 119.0 -2.8 119.0 -2.8 119.0C-2.8 119.0 -2.9 119.0 -2.9 119.0C-2.9 119.0 -2.4 119.0 -3.0 119.0C-3.6 119.0 -6.9 116.0 -6.8 119.0Z"/></clipPath>
<clipPath id="coE"><path d="M-8.5 118.2C-7.7 121.5 -4.3 134.8 -3.5 138.1C-2.7 141.4 -3.5 138.2 -3.5 138.2C-3.5 138.2 -3.5 138.2 -3.5 138.2C-3.5 138.2 -3.4 138.3 -3.4 138.3C-3.4 138.3 -3.4 138.3 -3.4 138.3C-3.4 138.3 -3.4 138.3 -3.4 138.3C-3.4 138.3 -3.3 138.4 -3.3 138.4C-3.3 138.4 -3.3 138.4 -3.3 138.4C-3.3 138.4 -3.2 138.4 -3.2 138.4C-3.2 138.4 -3.2 138.5 -3.2 138.5C-3.2 138.5 -3.2 138.5 -3.2 138.5C-3.2 138.5 -3.1 138.5 -3.1 138.5C-3.1 138.5 -3.1 138.5 -3.1 138.5C-3.1 138.5 -8.0 138.5 -3.0 138.5C2.0 138.5 21.8 138.5 26.7 138.5C31.6 138.5 26.7 138.5 26.7 138.5C26.7 138.5 26.8 138.5 26.8 138.5C26.8 138.5 26.8 138.5 26.8 138.5C26.8 138.5 26.9 138.5 26.9 138.5C26.9 138.5 26.9 138.4 26.9 138.4C26.9 138.4 27.0 138.4 27.0 138.4C27.0 138.4 27.0 138.4 27.0 138.4C27.0 138.4 27.0 138.4 27.0 138.4C27.0 138.4 27.1 138.3 27.1 138.3C27.1 138.3 27.1 138.3 27.1 138.3C27.1 138.3 27.1 138.2 27.1 138.2C27.1 138.2 27.2 138.2 27.2 138.2C27.2 138.2 26.6 140.0 27.2 138.2C27.8 136.4 29.2 130.2 30.7 127.2C32.2 124.2 33.9 122.6 36.0 120.2C38.1 117.8 41.1 115.0 43.1 113.1C45.1 111.2 46.5 110.3 48.3 108.9C50.1 107.5 53.1 105.4 54.1 104.7C55.1 104.0 53.3 105.5 54.1 104.7C54.9 104.0 58.0 101.0 58.8 100.2C59.6 99.4 58.1 101.0 58.9 100.1C59.7 99.2 62.1 96.5 63.7 94.8C65.3 93.1 66.5 91.8 68.4 89.8C70.4 87.8 73.0 84.9 75.4 82.7C77.8 80.5 81.4 77.5 82.6 76.5C83.8 75.5 81.4 77.6 82.6 76.5C83.8 75.4 88.5 71.0 89.7 69.9C90.9 68.8 89.2 70.4 89.7 69.9C90.2 69.4 92.3 67.4 92.8 66.9C93.3 66.4 92.9 66.8 92.9 66.8C92.9 66.8 92.9 66.8 92.9 66.8C92.9 66.8 92.9 66.7 92.9 66.7C92.9 66.7 93.0 66.7 93.0 66.7C93.0 66.7 93.0 66.6 93.0 66.6C93.0 66.6 93.0 66.6 93.0 66.6C93.0 66.6 93.0 66.6 93.0 66.6C93.0 66.6 93.0 66.8 93.0 66.5C93.0 66.2 93.0 65.1 93.0 64.8C93.0 64.5 93.0 64.8 93.0 64.8C93.0 64.8 93.0 64.7 93.0 64.7C93.0 64.7 93.0 64.7 93.0 64.7C93.0 64.7 93.0 64.6 93.0 64.6C93.0 64.6 92.9 64.6 92.9 64.6C92.9 64.6 92.9 64.5 92.9 64.5C92.9 64.5 92.9 64.5 92.9 64.5C92.9 64.5 92.8 64.4 92.8 64.4C92.8 64.4 92.8 64.4 92.8 64.4C92.8 64.4 92.8 64.4 92.8 64.4C92.8 64.4 92.7 64.4 92.7 64.4C92.7 64.4 92.7 64.3 92.7 64.3C92.7 64.3 92.6 64.3 92.6 64.3C92.6 64.3 92.6 64.3 92.6 64.3C92.6 64.3 92.5 64.3 92.5 64.3C92.5 64.3 92.5 64.3 92.5 64.3C92.5 64.3 92.4 64.3 92.4 64.3C92.4 64.3 92.4 64.3 92.4 64.3C92.4 64.3 92.3 64.3 92.3 64.3C92.3 64.3 92.3 64.3 92.3 64.3C92.3 64.3 92.7 64.1 92.2 64.4C91.7 64.7 89.6 65.9 89.1 66.2C88.6 66.5 90.3 65.4 89.1 66.2C87.9 67.0 83.2 70.1 82.0 70.9C80.8 71.7 83.2 70.1 82.0 70.9C80.8 71.7 76.0 74.9 74.8 75.7C73.6 76.5 76.0 74.7 74.8 75.7C73.6 76.7 68.9 80.6 67.7 81.6C66.5 82.6 68.7 80.5 67.6 81.6C66.5 82.7 62.8 86.7 61.2 88.2C59.6 89.7 58.8 90.3 58.2 90.8C57.6 91.3 57.5 91.5 57.5 91.2C57.5 91.0 57.6 90.4 58.2 89.3C58.8 88.2 60.8 85.5 61.3 84.7C61.8 83.9 60.7 85.7 61.3 84.7C61.9 83.7 64.3 79.8 64.9 78.8C65.5 77.8 64.4 79.7 64.9 78.7C65.4 77.7 67.4 73.7 67.9 72.7C68.4 71.7 67.8 73.2 68.0 72.7C68.2 72.2 68.8 70.3 69.0 69.8C69.2 69.3 69.0 69.7 69.0 69.7C69.0 69.7 69.0 69.7 69.0 69.7C69.0 69.7 69.0 69.6 69.0 69.6C69.0 69.6 69.0 69.6 69.0 69.6C69.0 69.6 69.0 69.5 69.0 69.5C69.0 69.5 69.0 69.5 69.0 69.5C69.0 69.5 69.0 69.4 69.0 69.4C69.0 69.4 69.0 69.4 69.0 69.4C69.0 69.4 68.9 69.3 68.9 69.3C68.9 69.3 68.9 69.3 68.9 69.3C68.9 69.3 68.9 69.3 68.9 69.3C68.9 69.3 68.8 69.2 68.8 69.2C68.8 69.2 68.8 69.2 68.8 69.2C68.8 69.2 68.8 69.2 68.8 69.2C68.8 69.2 68.7 69.1 68.7 69.1C68.7 69.1 68.7 69.1 68.7 69.1C68.7 69.1 68.6 69.1 68.6 69.1C68.6 69.1 68.6 69.1 68.6 69.1C68.6 69.1 68.5 69.1 68.5 69.1C68.5 69.1 68.5 69.1 68.5 69.1C68.5 69.1 68.4 69.1 68.4 69.1C68.4 69.1 68.4 69.1 68.4 69.1C68.4 69.1 68.3 69.1 68.3 69.1C68.3 69.1 68.3 69.1 68.3 69.1C68.3 69.1 69.0 68.8 68.3 69.2C67.6 69.6 65.0 71.1 64.3 71.5C63.6 71.9 65.0 70.9 64.2 71.5C63.4 72.1 61.2 73.8 59.4 75.1C57.6 76.4 54.5 78.5 53.5 79.2C52.5 79.9 54.5 78.4 53.5 79.2C52.5 80.0 49.5 82.4 47.5 84.0C45.5 85.6 42.6 87.9 41.6 88.7C40.6 89.5 42.6 87.9 41.6 88.7C40.6 89.5 37.8 91.9 35.6 93.5C33.4 95.1 29.4 97.6 28.2 98.4C27.0 99.2 29.4 97.6 28.2 98.4C27.0 99.2 22.3 102.6 21.1 103.4C19.9 104.2 22.3 102.5 21.1 103.4C19.9 104.3 16.4 107.2 14.0 108.8C11.6 110.4 9.8 111.7 6.9 113.2C4.1 114.7 -0.6 116.9 -3.1 117.6C-5.6 118.3 -7.2 117.6 -8.0 117.6C-8.8 117.6 -8.0 117.6 -8.0 117.6C-8.0 117.6 -8.1 117.6 -8.1 117.6C-8.1 117.6 -8.1 117.6 -8.1 117.6C-8.1 117.6 -8.2 117.6 -8.2 117.6C-8.2 117.6 -8.2 117.7 -8.2 117.7C-8.2 117.7 -8.3 117.7 -8.3 117.7C-8.3 117.7 -8.3 117.7 -8.3 117.7C-8.3 117.7 -8.3 117.7 -8.3 117.7C-8.3 117.7 -8.4 117.8 -8.4 117.8C-8.4 117.8 -8.4 117.8 -8.4 117.8C-8.4 117.8 -8.4 117.9 -8.4 117.9C-8.4 117.9 -8.5 117.9 -8.5 117.9C-8.5 117.9 -8.5 117.9 -8.5 117.9C-8.5 117.9 -8.5 118.0 -8.5 118.0C-8.5 118.0 -8.5 118.0 -8.5 118.0C-8.5 118.0 -8.5 118.1 -8.5 118.1C-8.5 118.1 -8.5 118.1 -8.5 118.1C-8.5 118.1 -8.5 118.2 -8.5 118.2C-8.5 118.2 -9.3 114.9 -8.5 118.2Z"/></clipPath>
<clipPath id="clF"><path d="M-6.8 119.9C-6.7 122.8 -9.1 134.2 -2.3 137.1C4.5 140.0 27.9 138.3 34.3 137.1C40.7 135.9 35.8 131.0 36.1 129.8C36.4 128.6 36.1 129.7 36.1 129.7C36.1 129.7 36.2 129.6 36.2 129.6C36.2 129.6 35.7 130.5 36.2 129.6C36.7 128.7 38.6 125.2 39.1 124.3C39.6 123.4 39.2 124.2 39.2 124.2C39.2 124.2 39.2 124.1 39.2 124.1C39.2 124.1 39.3 124.1 39.3 124.1C39.3 124.1 38.3 124.8 39.3 124.0C40.3 123.2 43.5 121.1 45.3 119.3C47.1 117.5 49.2 114.3 50.0 113.3C50.8 112.3 50.1 113.3 50.1 113.3C50.1 113.3 49.1 114.0 50.1 113.2C51.1 112.4 54.3 110.0 56.2 108.3C58.1 106.6 59.5 105.3 61.7 102.8C63.9 100.3 68.0 95.0 69.3 93.4C70.6 91.8 68.2 94.6 69.3 93.4C70.4 92.2 73.3 89.3 76.0 86.2C78.7 83.1 83.8 76.8 85.3 74.9C86.8 73.0 83.9 76.4 85.3 74.9C86.7 73.4 92.4 67.5 93.8 66.0C95.2 64.5 93.0 66.8 93.9 65.9C94.8 65.0 98.5 61.6 99.4 60.8C100.3 59.9 98.2 61.7 99.4 60.8C100.6 59.9 104.5 56.8 106.4 55.2C108.4 53.6 109.3 53.0 111.1 51.1C112.9 49.2 116.2 45.1 117.3 43.9C118.3 42.7 117.4 43.8 117.4 43.8C117.4 43.8 116.4 44.6 117.5 43.8C118.6 43.0 122.7 40.1 123.8 39.2C124.9 38.3 124.1 38.5 124.1 38.4C124.1 38.3 124.8 37.9 123.8 38.4C122.8 38.9 119.3 40.8 118.4 41.3C117.5 41.8 120.7 40.1 118.4 41.3C116.1 42.5 107.4 46.7 104.4 48.3C101.4 49.9 102.1 49.8 100.5 50.8C98.9 51.8 95.9 53.7 95.0 54.3C94.1 54.9 96.1 53.6 95.0 54.3C93.9 55.0 90.9 56.8 88.5 58.3C86.1 59.8 81.8 62.5 80.5 63.3C79.2 64.1 81.9 62.4 80.4 63.3C78.9 64.2 74.3 66.3 71.3 68.5C68.3 70.7 65.3 73.7 62.6 76.2C59.9 78.8 56.8 81.6 54.8 83.8C52.8 86.0 52.5 87.0 50.7 89.5C48.9 92.0 45.3 97.2 44.2 98.7C43.1 100.2 44.2 98.8 44.2 98.8C44.2 98.8 44.1 98.8 44.1 98.8C44.1 98.8 45.3 97.9 44.1 98.9C42.9 99.9 38.0 103.9 36.8 104.9C35.6 105.9 36.7 105.0 36.7 105.0C36.7 105.0 36.6 105.0 36.6 105.0C36.6 105.0 38.5 104.2 36.5 105.0C34.5 105.8 28.5 108.2 24.5 109.8C20.5 111.4 14.3 113.9 12.3 114.7C10.3 115.5 14.8 113.9 12.3 114.8C9.8 115.7 -0.2 119.1 -2.7 119.9C-5.2 120.8 -2.8 119.9 -2.8 119.9C-2.8 119.9 -2.9 119.9 -2.9 119.9C-2.9 119.9 -2.4 119.9 -3.0 119.9C-3.6 119.9 -6.9 117.0 -6.8 119.9Z"/></clipPath>
<clipPath id="coF"><path d="M-8.3 119.1C-7.5 122.3 -4.1 134.9 -3.3 138.1C-2.5 141.3 -3.3 138.1 -3.3 138.1C-3.3 138.1 -3.3 138.1 -3.3 138.1C-3.3 138.1 -3.3 138.2 -3.3 138.2C-3.3 138.2 -3.2 138.2 -3.2 138.2C-3.2 138.2 -3.2 138.2 -3.2 138.2C-3.2 138.2 -3.2 138.2 -3.2 138.2C-3.2 138.2 -3.2 138.2 -3.2 138.2C-3.2 138.2 -3.1 138.3 -3.1 138.3C-3.1 138.3 -3.1 138.3 -3.1 138.3C-3.1 138.3 -3.1 138.3 -3.1 138.3C-3.1 138.3 -3.1 138.3 -3.1 138.3C-3.1 138.3 -3.0 138.3 -3.0 138.3C-3.0 138.3 -9.3 138.3 -3.0 138.3C3.3 138.3 28.7 138.3 35.0 138.3C41.3 138.3 35.0 138.3 35.0 138.3C35.0 138.3 35.1 138.3 35.1 138.3C35.1 138.3 35.1 138.3 35.1 138.3C35.1 138.3 35.1 138.3 35.1 138.3C35.1 138.3 35.1 138.3 35.1 138.3C35.1 138.3 35.2 138.3 35.2 138.3C35.2 138.3 35.2 138.2 35.2 138.2C35.2 138.2 35.2 138.2 35.2 138.2C35.2 138.2 35.2 138.2 35.2 138.2C35.2 138.2 35.2 138.2 35.2 138.2C35.2 138.2 35.3 138.2 35.3 138.2C35.3 138.2 35.3 138.1 35.3 138.1C35.3 138.1 35.3 138.1 35.3 138.1C35.3 138.1 35.0 139.4 35.3 138.1C35.6 136.8 36.5 132.3 37.3 130.1C38.1 127.9 38.6 126.6 40.1 124.9C41.6 123.2 45.1 120.9 46.1 120.1C47.1 119.3 46.1 120.1 46.1 120.1C46.1 120.1 45.3 121.1 46.1 120.1C46.9 119.1 49.1 115.9 50.9 114.1C52.7 112.3 56.0 110.0 57.0 109.2C58.0 108.4 56.1 110.1 57.0 109.2C57.9 108.3 61.7 104.5 62.6 103.6C63.5 102.7 61.3 105.2 62.6 103.6C63.9 102.0 67.8 97.0 70.2 94.2C72.6 91.4 75.8 88.2 76.9 87.0C78.0 85.8 75.4 88.9 76.9 87.0C78.5 85.1 83.2 79.1 86.2 75.7C89.2 72.3 92.4 69.1 94.7 66.8C97.0 64.5 98.1 63.5 100.2 61.7C102.3 59.9 106.0 57.0 107.2 56.1C108.4 55.2 106.4 56.8 107.2 56.1C108.0 55.4 111.1 52.6 111.9 51.9C112.7 51.2 110.9 53.1 111.9 51.9C113.0 50.7 116.1 46.7 118.2 44.7C120.3 42.7 123.6 40.8 124.7 40.0C125.8 39.2 124.7 40.0 124.7 40.0C124.7 40.0 124.7 40.0 124.7 40.0C124.7 40.0 124.7 40.0 124.7 40.0C124.7 40.0 124.8 40.0 124.8 40.0C124.8 40.0 124.6 40.3 124.8 39.9C125.0 39.5 125.6 38.1 125.8 37.7C126.0 37.3 125.8 37.7 125.8 37.7C125.8 37.7 125.8 37.7 125.8 37.7C125.8 37.7 125.8 37.6 125.8 37.6C125.8 37.6 125.8 37.6 125.8 37.6C125.8 37.6 125.8 37.6 125.8 37.6C125.8 37.6 125.8 37.6 125.8 37.6C125.8 37.6 125.8 37.5 125.8 37.5C125.8 37.5 125.8 37.5 125.8 37.5C125.8 37.5 125.8 37.5 125.8 37.5C125.8 37.5 125.8 37.4 125.8 37.4C125.8 37.4 125.7 37.4 125.7 37.4C125.7 37.4 125.7 37.4 125.7 37.4C125.7 37.4 125.7 37.4 125.7 37.4C125.7 37.4 125.7 37.4 125.7 37.4C125.7 37.4 125.7 37.3 125.7 37.3C125.7 37.3 125.6 37.3 125.6 37.3C125.6 37.3 125.6 37.3 125.6 37.3C125.6 37.3 125.6 37.3 125.6 37.3C125.6 37.3 125.5 37.3 125.5 37.3C125.5 37.3 125.8 37.3 125.5 37.3C125.2 37.3 123.9 37.2 123.6 37.2C123.3 37.2 123.6 37.2 123.6 37.2C123.6 37.2 123.6 37.2 123.6 37.2C123.6 37.2 123.5 37.2 123.5 37.2C123.5 37.2 123.5 37.2 123.5 37.2C123.5 37.2 123.5 37.2 123.5 37.2C123.5 37.2 124.4 36.7 123.5 37.2C122.6 37.7 121.2 38.5 117.9 40.2C114.6 41.9 106.2 46.0 103.9 47.2C101.6 48.4 104.5 46.8 103.8 47.2C103.1 47.6 100.5 49.3 99.8 49.7C99.1 50.1 100.7 49.1 99.8 49.7C98.9 50.3 96.3 52.0 94.3 53.2C92.3 54.5 88.9 56.5 87.8 57.2C86.7 57.9 89.1 56.4 87.8 57.2C86.5 58.0 82.6 60.5 79.8 62.2C77.0 63.9 72.2 66.6 70.7 67.5C69.2 68.4 70.6 67.6 70.6 67.6C70.6 67.6 72.1 66.3 70.6 67.6C69.1 68.9 63.3 74.0 61.8 75.3C60.3 76.6 63.1 74.0 61.8 75.3C60.5 76.6 55.2 81.7 53.9 83.0C52.6 84.3 53.9 83.0 53.9 83.0C53.9 83.0 54.6 82.0 53.9 83.0C53.2 84.0 51.6 86.3 49.8 88.8C48.0 91.3 45.6 95.5 43.3 98.0C41.0 100.5 39.2 102.1 36.0 103.9C32.8 105.7 26.1 107.9 24.1 108.7C22.1 109.5 26.1 107.9 24.1 108.7C22.1 109.5 16.4 111.9 11.9 113.6C7.4 115.3 0.3 117.8 -3.0 118.7C-6.3 119.6 -7.2 118.7 -8.0 118.7C-8.8 118.7 -8.0 118.7 -8.0 118.7C-8.0 118.7 -8.1 118.7 -8.1 118.7C-8.1 118.7 -8.1 118.7 -8.1 118.7C-8.1 118.7 -8.1 118.7 -8.1 118.7C-8.1 118.7 -8.1 118.7 -8.1 118.7C-8.1 118.7 -8.2 118.7 -8.2 118.7C-8.2 118.7 -8.2 118.8 -8.2 118.8C-8.2 118.8 -8.2 118.8 -8.2 118.8C-8.2 118.8 -8.2 118.8 -8.2 118.8C-8.2 118.8 -8.2 118.8 -8.2 118.8C-8.2 118.8 -8.3 118.9 -8.3 118.9C-8.3 118.9 -8.3 118.9 -8.3 118.9C-8.3 118.9 -8.3 118.9 -8.3 118.9C-8.3 118.9 -8.3 118.9 -8.3 118.9C-8.3 118.9 -8.3 119.0 -8.3 119.0C-8.3 119.0 -8.3 119.0 -8.3 119.0C-8.3 119.0 -8.3 119.0 -8.3 119.0C-8.3 119.0 -8.3 119.0 -8.3 119.0C-8.3 119.0 -9.1 115.9 -8.3 119.1Z"/></clipPath>
<clipPath id="clG"><path d="M-7.0 99.4C-6.9 105.7 -7.7 130.8 -2.2 137.1C3.3 143.4 20.7 139.1 26.0 137.1C31.3 135.1 28.8 127.0 29.4 125.0C30.0 123.0 29.5 124.9 29.5 124.9C29.5 124.9 29.5 124.8 29.5 124.8C29.5 124.8 28.6 126.2 29.5 124.7C30.4 123.2 33.3 118.8 34.8 115.9C36.3 113.0 37.8 108.6 38.4 107.1C39.0 105.6 38.4 107.0 38.4 107.0C38.4 107.0 37.5 108.4 38.4 106.9C39.3 105.4 42.9 99.5 43.8 98.0C44.7 96.5 42.7 99.4 43.9 97.9C45.1 96.4 49.0 92.1 51.0 89.1C53.0 86.1 55.3 81.6 56.2 80.1C57.1 78.6 56.3 80.1 56.3 80.1C56.3 80.1 55.1 81.5 56.3 80.0C57.5 78.5 61.1 74.1 63.5 71.1C65.9 68.1 69.4 63.7 70.6 62.2C71.8 60.7 69.5 63.4 70.7 62.2C71.9 61.0 75.6 57.6 77.7 55.1C79.8 52.6 82.2 48.5 83.1 47.2C84.0 45.9 82.5 47.9 83.1 47.1C83.7 46.4 86.0 43.4 86.6 42.7C87.2 42.0 87.0 42.5 86.6 42.7C86.2 42.9 85.9 42.6 84.3 43.9C82.7 45.1 79.6 48.1 77.2 50.2C74.8 52.3 72.5 54.3 70.1 56.4C67.7 58.5 65.4 60.5 63.0 62.6C60.6 64.7 58.2 66.8 55.8 68.9C53.4 71.0 49.9 74.1 48.7 75.1C47.5 76.1 48.6 75.1 48.6 75.1C48.6 75.1 49.8 74.4 48.6 75.2C47.4 76.0 42.7 79.0 41.5 79.7C40.3 80.5 42.7 79.0 41.5 79.7C40.3 80.4 35.6 83.4 34.4 84.1C33.2 84.8 35.5 83.5 34.3 84.1C33.1 84.7 28.3 87.1 27.1 87.7C25.9 88.3 28.2 87.2 27.0 87.7C25.8 88.2 22.4 89.4 20.0 90.4C17.6 91.4 15.3 92.7 12.9 93.9C10.5 95.1 6.9 96.9 5.7 97.5C4.5 98.1 5.6 97.5 5.6 97.5C5.6 97.5 5.6 97.6 5.6 97.6C5.6 97.6 6.9 97.3 5.5 97.6C4.1 97.9 -1.4 99.1 -2.8 99.4C-4.2 99.7 -2.9 99.4 -2.9 99.4C-2.9 99.4 -2.3 99.4 -3.0 99.4C-3.7 99.4 -7.1 93.1 -7.0 99.4Z"/></clipPath>
<clipPath id="coG"><path d="M-6.8 99.6C-6.6 105.8 -7.4 130.7 -2.0 136.9C3.4 143.1 20.7 138.9 25.9 136.9C31.1 134.9 28.6 126.9 29.2 124.9C29.8 122.9 29.3 124.8 29.3 124.8C29.3 124.8 29.3 124.7 29.3 124.7C29.3 124.7 28.5 126.1 29.4 124.6C30.3 123.1 33.1 118.7 34.6 115.8C36.1 112.9 37.6 108.5 38.2 107.0C38.8 105.5 38.2 106.9 38.2 106.9C38.2 106.9 37.4 108.3 38.3 106.8C39.2 105.3 42.8 99.4 43.7 97.9C44.6 96.4 42.5 99.3 43.7 97.8C44.9 96.3 48.7 92.0 50.8 89.0C52.9 86.0 55.2 81.5 56.1 80.0C57.0 78.5 56.1 80.0 56.1 80.0C56.1 80.0 54.9 81.4 56.1 79.9C57.3 78.4 60.9 74.0 63.3 71.0C65.7 68.0 69.2 63.6 70.4 62.1C71.6 60.6 69.3 63.2 70.5 62.0C71.7 60.8 75.4 57.5 77.5 55.0C79.6 52.5 82.0 48.4 82.9 47.1C83.8 45.8 82.4 47.6 82.9 47.0C83.4 46.4 85.5 43.8 85.8 43.3C86.0 42.8 85.8 42.9 84.4 44.1C83.0 45.3 79.7 48.2 77.3 50.3C74.9 52.4 72.6 54.4 70.2 56.5C67.8 58.6 65.5 60.6 63.1 62.7C60.7 64.8 58.3 66.9 55.9 69.0C53.5 71.1 50.0 74.2 48.8 75.2C47.6 76.2 48.8 75.3 48.8 75.3C48.8 75.3 49.9 74.5 48.7 75.3C47.5 76.0 42.8 79.0 41.6 79.8C40.4 80.5 42.8 79.1 41.6 79.8C40.4 80.5 35.7 83.5 34.5 84.2C33.3 85.0 35.6 83.7 34.4 84.3C33.2 84.9 28.4 87.3 27.2 87.9C26.0 88.5 28.3 87.5 27.1 87.9C25.9 88.4 22.4 89.6 20.0 90.6C17.6 91.6 15.4 92.9 13.0 94.1C10.6 95.3 7.0 97.1 5.8 97.7C4.6 98.3 5.7 97.7 5.7 97.7C5.7 97.7 5.6 97.8 5.6 97.8C5.6 97.8 6.9 97.5 5.5 97.8C4.1 98.1 -1.4 99.3 -2.8 99.6C-4.2 99.9 -2.9 99.6 -2.9 99.6C-2.9 99.6 -2.4 99.6 -3.0 99.6C-3.6 99.6 -7.0 93.4 -6.8 99.6Z"/></clipPath>
<clipPath id="clH"><path d="M-7.0 99.4C-6.9 105.7 -7.7 130.8 -2.2 137.1C3.3 143.4 20.5 139.4 26.1 137.1C31.7 134.8 30.4 125.4 31.3 123.1C32.2 120.8 30.7 124.6 31.3 123.1C31.9 121.6 34.2 115.7 34.8 114.2C35.4 112.7 34.8 114.1 34.8 114.1C34.8 114.1 33.9 115.5 34.8 114.0C35.7 112.5 38.4 108.1 40.2 105.1C42.0 102.1 44.6 97.7 45.5 96.2C46.4 94.7 44.6 97.7 45.5 96.2C46.4 94.7 49.1 90.3 50.9 87.3C52.7 84.3 55.3 79.9 56.2 78.4C57.1 76.9 55.1 79.8 56.3 78.3C57.5 76.8 62.3 70.9 63.5 69.4C64.7 67.9 62.4 70.6 63.6 69.4C64.8 68.2 69.5 63.4 70.7 62.2C71.9 61.0 69.5 63.4 70.7 62.2C71.9 61.0 75.6 57.5 77.7 55.1C79.8 52.8 82.2 49.3 83.1 48.1C84.0 46.9 82.8 48.4 83.2 48.0C83.6 47.6 85.0 46.1 85.3 45.7C85.6 45.3 86.2 44.8 85.2 45.5C84.2 46.2 81.2 48.4 79.0 50.2C76.8 52.0 73.1 55.4 71.9 56.4C70.7 57.4 73.0 55.5 71.8 56.4C70.6 57.3 67.2 59.8 64.8 61.7C62.4 63.6 60.0 65.9 57.6 68.0C55.2 70.1 51.7 73.2 50.5 74.2C49.3 75.2 50.4 74.2 50.4 74.2C50.4 74.2 51.6 73.5 50.4 74.3C49.2 75.1 44.5 78.0 43.3 78.8C42.1 79.5 44.5 78.1 43.3 78.8C42.1 79.5 38.5 81.7 36.1 83.2C33.7 84.7 30.2 87.0 29.0 87.7C27.8 88.5 28.9 87.7 28.9 87.7C28.9 87.7 30.0 87.2 28.8 87.7C27.6 88.2 22.9 90.0 21.7 90.4C20.5 90.9 22.9 90.0 21.7 90.4C20.5 90.8 17.0 92.1 14.6 93.0C12.2 93.9 8.6 95.2 7.4 95.7C6.2 96.2 9.1 95.1 7.4 95.7C5.7 96.3 -1.0 98.7 -2.7 99.3C-4.4 99.9 -2.8 99.4 -2.8 99.4C-2.8 99.4 -2.9 99.4 -2.9 99.4C-2.9 99.4 -2.3 99.4 -3.0 99.4C-3.7 99.4 -7.1 93.1 -7.0 99.4Z"/></clipPath>
<clipPath id="coH"><path d="M-6.8 99.6C-6.6 105.8 -7.4 130.7 -2.0 136.9C3.4 143.1 20.4 139.2 25.9 136.9C31.4 134.6 30.2 125.3 31.1 123.0C32.0 120.7 30.5 124.5 31.1 123.0C31.7 121.5 34.0 115.6 34.6 114.1C35.2 112.6 34.6 114.0 34.6 114.0C34.6 114.0 33.8 115.4 34.7 113.9C35.6 112.4 38.3 108.0 40.1 105.0C41.9 102.0 44.5 97.6 45.4 96.1C46.3 94.6 44.5 97.6 45.4 96.1C46.3 94.6 49.0 90.2 50.8 87.2C52.6 84.2 55.2 79.8 56.1 78.3C57.0 76.8 54.9 79.7 56.1 78.2C57.3 76.7 62.1 70.8 63.3 69.3C64.5 67.8 62.2 70.4 63.4 69.2C64.6 68.0 69.3 63.2 70.5 62.0C71.7 60.8 69.3 63.2 70.5 62.0C71.7 60.8 75.5 57.4 77.6 55.0C79.7 52.6 82.0 49.1 82.9 47.9C83.8 46.7 82.7 48.1 83.0 47.8C83.3 47.5 85.4 45.7 84.7 46.1C84.0 46.5 81.2 48.7 79.1 50.4C77.0 52.1 73.2 55.5 72.0 56.5C70.8 57.5 73.2 55.7 72.0 56.6C70.8 57.5 67.3 60.0 64.9 61.9C62.5 63.8 60.1 66.0 57.7 68.1C55.3 70.2 51.8 73.2 50.6 74.3C49.4 75.3 50.6 74.4 50.6 74.4C50.6 74.4 51.7 73.7 50.5 74.4C49.3 75.2 44.6 78.2 43.4 78.9C42.2 79.7 44.6 78.2 43.4 78.9C42.2 79.6 38.6 81.8 36.2 83.3C33.8 84.8 30.3 87.0 29.1 87.8C27.9 88.6 29.0 87.9 29.0 87.9C29.0 87.9 30.1 87.5 28.9 87.9C27.7 88.4 23.0 90.1 21.8 90.6C20.6 91.0 23.0 90.2 21.8 90.6C20.6 91.0 17.1 92.3 14.7 93.2C12.3 94.1 8.7 95.5 7.5 95.9C6.3 96.4 9.2 95.3 7.5 95.9C5.8 96.5 -0.9 98.9 -2.6 99.5C-4.3 100.1 -2.8 99.6 -2.8 99.6C-2.8 99.6 -2.9 99.6 -2.9 99.6C-2.9 99.6 -2.4 99.6 -3.0 99.6C-3.6 99.6 -7.0 93.4 -6.8 99.6Z"/></clipPath>
<clipPath id="clI"><path d="M-6.0 100.3C-5.7 106.3 -7.0 130.2 -1.4 136.2C4.2 142.2 22.6 138.4 27.9 136.2C33.2 134.0 29.9 125.3 30.3 123.1C30.7 120.9 30.4 123.0 30.4 122.9C30.4 122.8 29.8 124.2 30.4 122.7C31.0 121.2 33.3 115.3 33.9 113.8C34.5 112.3 34.0 113.7 34.0 113.7C34.0 113.7 33.2 115.1 34.1 113.6C35.0 112.1 37.7 107.7 39.5 104.7C41.3 101.7 43.9 97.3 44.8 95.8C45.7 94.3 43.9 97.3 44.8 95.8C45.7 94.3 48.4 89.9 50.2 86.9C52.0 83.9 54.6 79.5 55.5 78.0C56.4 76.5 55.5 78.0 55.5 77.9C55.5 77.9 55.6 77.8 55.6 77.7C55.6 77.7 54.5 78.8 55.7 77.6C56.9 76.4 60.5 72.8 62.9 70.4C65.3 68.0 67.6 65.7 70.0 63.3C72.4 60.9 75.6 57.7 77.1 56.2C78.6 54.7 78.8 54.6 78.9 54.5C79.0 54.4 77.9 55.1 77.7 55.3C77.5 55.4 78.8 54.6 77.6 55.4C76.4 56.2 71.7 59.1 70.5 59.9C69.3 60.6 71.6 59.2 70.4 59.9C69.2 60.6 65.8 62.8 63.4 64.3C61.0 65.8 58.6 67.2 56.2 68.8C53.8 70.4 50.4 73.1 49.2 74.0C48.0 74.9 50.3 73.3 49.1 74.1C47.9 74.9 43.2 77.8 42.0 78.6C40.8 79.4 43.0 78.1 41.8 78.7C40.6 79.3 37.1 81.0 34.7 82.2C32.3 83.4 29.9 84.6 27.5 85.8C25.1 87.0 21.6 88.8 20.4 89.4C19.2 90.0 21.6 88.8 20.4 89.4C19.2 90.0 15.8 91.6 13.4 92.9C11.1 94.2 7.5 96.5 6.3 97.3C5.1 98.0 6.2 97.4 6.1 97.4C6.0 97.4 7.3 97.0 5.9 97.5C4.5 98.0 -1.0 99.7 -2.4 100.2C-3.8 100.7 -2.5 100.3 -2.6 100.3C-2.7 100.3 -2.7 100.3 -2.8 100.3C-2.9 100.3 -2.5 100.3 -3.0 100.3C-3.5 100.3 -6.3 94.3 -6.0 100.3Z"/></clipPath>
<clipPath id="coI"><path d="M-6.8 99.6C-6.6 105.8 -7.9 130.7 -2.0 136.9C3.9 143.1 23.0 139.2 28.5 136.9C34.0 134.6 30.6 125.5 31.0 123.2C31.4 120.9 31.0 123.1 31.0 123.1C31.0 123.1 30.5 124.5 31.1 123.0C31.7 121.5 34.0 115.6 34.6 114.1C35.2 112.6 34.6 114.0 34.6 114.0C34.6 114.0 33.8 115.4 34.7 113.9C35.6 112.4 38.3 108.0 40.1 105.0C41.9 102.0 44.5 97.6 45.4 96.1C46.3 94.6 44.5 97.6 45.4 96.1C46.3 94.6 49.0 90.2 50.8 87.2C52.6 84.2 55.2 79.8 56.1 78.3C57.0 76.8 56.1 78.3 56.1 78.3C56.1 78.3 56.2 78.2 56.2 78.2C56.2 78.2 55.0 79.3 56.2 78.1C57.4 76.9 61.0 73.3 63.4 70.9C65.8 68.5 68.1 66.2 70.5 63.8C72.9 61.4 75.2 59.1 77.6 56.7C79.9 54.4 83.4 50.9 84.6 49.7C85.8 48.5 84.7 49.3 84.7 49.3C84.7 49.3 84.5 49.5 84.5 49.5C84.5 49.5 85.7 48.6 84.5 49.5C83.3 50.4 78.5 53.9 77.3 54.8C76.1 55.7 78.4 54.0 77.2 54.8C76.0 55.5 71.3 58.5 70.1 59.3C68.9 60.0 71.3 58.6 70.1 59.3C68.9 60.0 65.4 62.2 63.0 63.7C60.6 65.2 58.2 66.6 55.8 68.2C53.4 69.8 50.0 72.6 48.8 73.5C47.6 74.4 49.9 72.8 48.7 73.5C47.5 74.2 42.8 77.2 41.6 78.0C40.4 78.8 42.7 77.5 41.5 78.1C40.3 78.7 36.8 80.4 34.4 81.6C32.0 82.8 29.6 84.0 27.2 85.2C24.8 86.4 21.3 88.2 20.1 88.8C18.9 89.4 21.3 88.2 20.1 88.8C18.9 89.4 15.4 91.0 13.0 92.3C10.6 93.6 7.1 96.0 5.9 96.7C4.7 97.5 5.8 96.8 5.8 96.8C5.8 96.8 7.0 96.3 5.6 96.8C4.2 97.2 -1.3 99.0 -2.7 99.5C-4.1 100.0 -2.8 99.6 -2.8 99.6C-2.8 99.6 -2.9 99.6 -2.9 99.6C-2.9 99.6 -2.4 99.6 -3.0 99.6C-3.6 99.6 -7.0 93.4 -6.8 99.6Z"/></clipPath>
<clipPath id="clJ"><path d="M-7.0 95.3C-6.9 102.3 -9.1 130.1 -2.2 137.1C4.7 144.1 28.2 138.3 34.5 137.1C40.8 135.9 35.3 130.9 35.5 129.7C35.7 128.4 35.5 129.6 35.5 129.6C35.5 129.6 35.0 131.2 35.5 129.5C36.0 127.8 38.1 120.8 38.6 119.1C39.1 117.4 38.0 120.8 38.7 119.1C39.4 117.4 41.5 112.2 42.9 108.7C44.3 105.2 46.3 100.0 47.0 98.3C47.7 96.5 47.0 98.2 47.0 98.2C47.0 98.2 46.0 99.8 47.0 98.1C48.0 96.3 51.2 91.2 53.3 87.7C55.4 84.2 58.5 79.0 59.5 77.3C60.5 75.6 59.6 77.3 59.6 77.3C59.6 77.3 58.2 78.8 59.6 77.2C61.0 75.6 65.1 71.0 67.9 67.9C70.7 64.8 74.8 60.1 76.2 58.5C77.6 56.9 74.8 60.0 76.2 58.5C77.6 57.0 83.1 50.8 84.5 49.2C85.9 47.7 83.4 50.4 84.6 49.2C85.8 48.0 90.5 43.3 91.7 42.0C92.9 40.7 92.2 41.3 91.9 41.5C91.6 41.7 90.3 42.9 90.0 43.2C89.7 43.5 91.3 42.2 89.9 43.2C88.5 44.2 84.4 47.3 81.6 49.4C78.8 51.5 76.1 53.5 73.3 55.6C70.5 57.7 66.3 60.8 64.9 61.9C63.5 63.0 66.3 61.1 64.9 62.0C63.5 62.9 58.0 66.3 56.6 67.2C55.2 68.1 57.9 66.5 56.5 67.2C55.1 67.9 51.0 69.9 48.2 71.3C45.4 72.7 42.7 74.1 39.9 75.5C37.1 76.9 33.0 79.0 31.6 79.7C30.2 80.4 32.9 79.2 31.5 79.7C30.1 80.2 26.1 81.6 23.3 82.8C20.6 84.0 17.8 85.5 15.0 86.9C12.2 88.3 8.0 90.4 6.6 91.1C5.2 91.8 8.1 90.4 6.6 91.1C5.1 91.8 -1.1 94.5 -2.6 95.2C-4.2 95.9 -2.7 95.3 -2.7 95.3C-2.7 95.3 -2.8 95.3 -2.8 95.3C-2.8 95.3 -2.9 95.3 -2.9 95.3C-2.9 95.3 -2.3 95.3 -3.0 95.3C-3.7 95.3 -7.1 88.3 -7.0 95.3Z"/></clipPath>
<clipPath id="coJ"><path d="M-6.8 95.5C-6.6 102.4 -8.8 130.0 -2.0 136.9C4.8 143.8 28.1 138.1 34.3 136.9C40.5 135.7 35.1 130.9 35.3 129.7C35.5 128.5 35.3 129.6 35.3 129.6C35.3 129.6 34.8 131.2 35.3 129.5C35.8 127.8 37.9 120.8 38.4 119.1C38.9 117.3 37.8 120.8 38.5 119.0C39.2 117.2 41.3 112.1 42.7 108.6C44.1 105.1 46.1 100.0 46.8 98.2C47.5 96.5 46.8 98.1 46.8 98.1C46.8 98.1 45.8 99.8 46.9 98.0C48.0 96.2 51.1 91.1 53.2 87.6C55.3 84.1 58.4 79.0 59.4 77.2C60.4 75.5 59.4 77.1 59.4 77.1C59.4 77.1 58.1 78.6 59.5 77.1C60.9 75.5 65.0 70.9 67.8 67.8C70.6 64.7 74.7 60.0 76.1 58.4C77.5 56.8 74.7 59.9 76.1 58.4C77.5 56.9 83.0 50.7 84.4 49.1C85.8 47.5 83.5 50.0 84.4 49.0C85.4 48.0 89.1 44.3 90.1 43.4C91.0 42.5 91.5 42.4 90.1 43.4C88.7 44.4 84.6 47.5 81.8 49.6C79.0 51.7 76.3 53.7 73.5 55.8C70.7 57.9 66.5 61.0 65.1 62.1C63.7 63.2 66.4 61.2 65.0 62.1C63.6 63.0 58.1 66.4 56.7 67.3C55.3 68.2 58.0 66.7 56.6 67.4C55.2 68.1 51.1 70.1 48.3 71.5C45.5 72.9 42.8 74.3 40.0 75.7C37.2 77.1 33.1 79.2 31.7 79.9C30.3 80.6 33.0 79.4 31.6 79.9C30.2 80.4 26.1 81.8 23.3 83.0C20.6 84.2 17.9 85.7 15.1 87.1C12.3 88.5 8.1 90.6 6.7 91.3C5.3 92.0 8.2 90.6 6.6 91.3C5.0 92.0 -1.1 94.7 -2.6 95.4C-4.2 96.1 -2.7 95.4 -2.7 95.4C-2.7 95.4 -2.8 95.5 -2.8 95.5C-2.8 95.5 -2.9 95.5 -2.9 95.5C-2.9 95.5 -2.4 95.5 -3.0 95.5C-3.6 95.5 -7.0 88.6 -6.8 95.5Z"/></clipPath>
<clipPath id="clK"><path d="M-7.0 99.4C-6.9 105.7 -8.0 130.8 -2.2 137.1C3.6 143.4 22.0 139.1 27.9 137.1C33.8 135.1 32.2 127.0 33.1 124.9C34.0 122.9 32.5 126.3 33.1 124.8C33.8 123.3 35.7 118.9 37.0 115.9C38.3 112.9 40.2 108.5 40.9 107.0C41.5 105.5 40.9 107.0 40.9 107.0C40.9 107.0 39.9 108.4 40.9 106.9C41.9 105.4 45.6 99.5 46.6 98.0C47.6 96.5 45.5 99.4 46.7 97.9C47.9 96.4 52.6 90.5 53.8 89.0C55.0 87.5 52.6 90.5 53.8 89.0C55.0 87.5 58.6 83.0 61.0 80.0C63.4 77.0 65.8 74.0 68.1 71.1C70.4 68.1 72.8 65.2 75.0 62.3C77.2 59.3 79.7 56.1 81.6 53.4C83.5 50.7 85.3 48.2 86.5 46.3C87.7 44.4 89.0 42.1 88.7 42.0C88.4 41.9 85.1 45.1 84.4 45.7C83.7 46.3 85.5 44.8 84.3 45.7C83.1 46.6 79.5 49.2 77.1 51.0C74.7 52.8 72.4 54.5 70.1 56.4C67.8 58.3 64.2 61.6 63.0 62.6C61.8 63.6 64.1 61.7 62.9 62.6C61.7 63.5 56.9 67.1 55.7 68.0C54.5 68.9 56.9 67.1 55.7 68.0C54.5 68.9 49.8 72.4 48.6 73.3C47.4 74.2 49.8 72.6 48.6 73.4C47.4 74.2 42.7 77.2 41.5 77.9C40.3 78.7 42.7 77.2 41.5 77.9C40.3 78.6 36.8 80.6 34.4 82.2C32.0 83.8 28.4 86.7 27.2 87.6C26.0 88.5 27.2 87.7 27.2 87.7C27.2 87.7 28.3 87.1 27.1 87.7C25.9 88.3 22.4 90.0 20.0 91.2C17.6 92.4 14.1 94.2 12.9 94.8C11.7 95.4 14.0 94.3 12.8 94.8C11.6 95.2 6.8 97.0 5.6 97.5C4.4 98.0 6.9 97.3 5.5 97.6C4.1 97.9 -1.4 99.1 -2.8 99.4C-4.2 99.7 -2.9 99.4 -2.9 99.4C-2.9 99.4 -2.3 99.4 -3.0 99.4C-3.7 99.4 -7.1 93.1 -7.0 99.4Z"/></clipPath>
<clipPath id="coK"><path d="M-6.8 99.6C-6.6 105.8 -7.8 130.7 -2.0 136.9C3.8 143.1 22.0 138.9 27.8 136.9C33.6 134.9 32.0 126.8 32.9 124.8C33.8 122.8 32.2 126.3 32.9 124.8C33.5 123.3 35.5 118.9 36.8 115.9C38.1 112.9 40.1 108.5 40.7 107.0C41.4 105.5 40.7 106.9 40.7 106.9C40.7 106.9 39.8 108.3 40.8 106.8C41.8 105.3 45.5 99.4 46.5 97.9C47.5 96.4 45.3 99.3 46.5 97.8C47.7 96.3 52.4 90.4 53.6 88.9C54.8 87.4 52.4 90.4 53.6 88.9C54.8 87.4 58.4 82.9 60.8 79.9C63.2 76.9 65.6 74.0 67.9 71.0C70.2 68.0 72.5 65.0 74.8 62.1C77.0 59.1 79.5 55.9 81.4 53.3C83.3 50.6 85.3 48.0 86.4 46.2C87.5 44.5 88.4 42.9 88.1 42.8C87.8 42.7 85.1 45.3 84.5 45.8C83.9 46.3 85.7 45.0 84.5 45.9C83.3 46.8 79.7 49.4 77.3 51.2C74.9 53.0 72.6 54.7 70.2 56.6C67.8 58.5 64.3 61.7 63.1 62.7C61.9 63.7 64.3 61.9 63.1 62.8C61.9 63.7 57.1 67.3 55.9 68.2C54.7 69.1 57.1 67.3 55.9 68.2C54.7 69.1 50.0 72.6 48.8 73.5C47.6 74.4 49.9 72.8 48.7 73.5C47.5 74.2 42.8 77.2 41.6 78.0C40.4 78.8 42.8 77.3 41.6 78.0C40.4 78.7 36.9 80.8 34.5 82.4C32.1 84.0 28.6 86.9 27.4 87.8C26.2 88.7 27.3 87.8 27.3 87.8C27.3 87.8 28.4 87.3 27.2 87.9C26.0 88.5 22.5 90.2 20.1 91.4C17.7 92.6 14.2 94.4 13.0 95.0C11.8 95.6 14.1 94.5 12.9 95.0C11.7 95.5 6.9 97.2 5.7 97.7C4.5 98.2 6.9 97.5 5.5 97.8C4.1 98.1 -1.4 99.3 -2.8 99.6C-4.2 99.9 -2.9 99.6 -2.9 99.6C-2.9 99.6 -2.4 99.6 -3.0 99.6C-3.6 99.6 -7.0 93.4 -6.8 99.6Z"/></clipPath>
<clipPath id="clL"><path d="M-7.0 101.1C-6.9 107.1 -7.7 131.1 -2.2 137.1C3.3 143.1 21.0 138.2 26.0 137.1C31.0 136.0 27.3 131.5 27.6 130.3C27.9 129.2 27.6 130.2 27.6 130.2C27.6 130.2 27.1 131.7 27.7 130.2C28.3 128.7 30.1 124.3 31.3 121.3C32.5 118.3 34.2 113.9 34.8 112.4C35.4 110.9 34.8 112.3 34.8 112.3C34.8 112.3 33.9 113.7 34.8 112.2C35.7 110.7 38.4 106.3 40.2 103.3C42.0 100.3 44.6 95.9 45.5 94.4C46.4 92.9 44.6 95.9 45.5 94.4C46.4 92.9 49.1 88.5 50.9 85.5C52.7 82.5 55.3 78.1 56.2 76.6C57.1 75.1 56.3 76.6 56.3 76.6C56.3 76.6 56.3 76.5 56.3 76.5C56.3 76.5 55.2 77.7 56.4 76.5C57.6 75.3 61.2 71.8 63.6 69.4C66.0 67.0 69.5 63.4 70.7 62.2C71.9 61.0 69.5 63.4 70.7 62.2C71.9 61.0 75.7 57.3 77.7 55.1C79.8 52.9 82.0 50.4 83.0 49.1C84.0 47.8 84.1 46.9 83.4 47.1C82.7 47.3 80.8 48.8 78.9 50.2C77.0 51.6 74.2 53.6 71.9 55.5C69.6 57.4 66.0 60.7 64.8 61.7C63.6 62.7 65.9 60.8 64.7 61.7C63.5 62.6 58.7 66.2 57.5 67.1C56.3 68.0 58.7 66.2 57.5 67.1C56.3 68.0 52.8 70.6 50.4 72.4C48.0 74.2 44.5 76.9 43.3 77.8C42.1 78.7 44.5 77.2 43.3 77.9C42.1 78.7 38.5 80.8 36.1 82.3C33.7 83.8 30.2 86.0 29.0 86.8C27.8 87.5 30.2 86.1 29.0 86.8C27.8 87.5 23.1 90.5 21.9 91.2C20.7 91.9 23.0 90.6 21.8 91.2C20.6 91.8 15.9 94.2 14.7 94.8C13.5 95.4 15.8 94.3 14.6 94.8C13.4 95.2 8.6 97.0 7.4 97.5C6.2 98.0 9.1 97.0 7.4 97.6C5.7 98.2 -1.0 100.5 -2.7 101.1C-4.4 101.7 -2.8 101.1 -2.8 101.1C-2.8 101.1 -2.9 101.1 -2.9 101.1C-2.9 101.1 -2.3 101.1 -3.0 101.1C-3.7 101.1 -7.1 95.1 -7.0 101.1Z"/></clipPath>
<clipPath id="coL"><path d="M-6.7 101.3C-6.5 107.2 -7.4 131.0 -2.0 136.9C3.4 142.8 20.9 138.0 25.8 136.9C30.7 135.8 27.1 131.3 27.4 130.2C27.7 129.1 27.5 130.2 27.5 130.2C27.5 130.2 26.9 131.6 27.5 130.1C28.1 128.6 29.9 124.2 31.1 121.2C32.3 118.2 34.0 113.8 34.6 112.3C35.2 110.8 34.6 112.2 34.6 112.2C34.6 112.2 33.8 113.6 34.7 112.1C35.6 110.6 38.3 106.2 40.1 103.2C41.9 100.2 44.5 95.8 45.4 94.3C46.3 92.8 44.5 95.8 45.4 94.3C46.3 92.8 49.0 88.4 50.8 85.4C52.6 82.4 55.2 78.0 56.1 76.5C57.0 75.0 56.1 76.5 56.1 76.5C56.1 76.5 56.2 76.4 56.2 76.4C56.2 76.4 55.0 77.5 56.2 76.3C57.4 75.1 61.0 71.6 63.4 69.2C65.8 66.8 69.3 63.2 70.5 62.0C71.7 60.8 69.3 63.2 70.5 62.0C71.7 60.8 75.5 57.1 77.6 54.9C79.6 52.7 81.9 50.2 82.8 49.0C83.7 47.8 83.7 47.3 83.1 47.5C82.5 47.7 80.8 49.0 79.0 50.4C77.2 51.8 74.3 53.8 72.0 55.7C69.7 57.6 66.1 60.8 64.9 61.8C63.7 62.8 66.1 61.0 64.9 61.9C63.7 62.8 58.9 66.4 57.7 67.3C56.5 68.2 58.9 66.4 57.7 67.3C56.5 68.2 53.0 70.8 50.6 72.6C48.2 74.4 44.7 77.1 43.5 78.0C42.3 78.9 44.6 77.3 43.4 78.0C42.2 78.7 38.6 80.9 36.2 82.4C33.8 83.9 30.3 86.2 29.1 86.9C27.9 87.7 30.3 86.2 29.1 86.9C27.9 87.6 23.2 90.5 22.0 91.3C20.8 92.0 23.1 90.8 21.9 91.4C20.7 92.0 16.0 94.4 14.8 95.0C13.6 95.6 15.9 94.5 14.7 95.0C13.5 95.5 8.7 97.2 7.5 97.7C6.3 98.2 9.2 97.1 7.5 97.7C5.8 98.3 -0.9 100.6 -2.6 101.2C-4.3 101.8 -2.8 101.3 -2.8 101.3C-2.8 101.3 -2.9 101.3 -2.9 101.3C-2.9 101.3 -2.4 101.3 -3.0 101.3C-3.6 101.3 -6.9 95.4 -6.7 101.3Z"/></clipPath>
</defs>
<text x="103.6" y="32.6" font-size="34.5" fill="#000">YN-library</text>
<text x="443.4" y="32.6" font-size="34.5" fill="#000">YC-library</text>
<g transform="translate(20 43)">
<g clip-path="url(#clipP)">
<g filter="url(#bs)">
<path d="M-8.0 108.3C-8.0 113.2 -9.2 133.1 -3.0 138.0C3.2 142.9 23.7 139.8 29.4 138.0C35.1 136.2 30.6 130.0 31.2 127.0C31.8 124.0 32.3 122.3 33.0 119.9C33.7 117.5 34.3 115.1 35.6 112.7C36.9 110.3 39.2 108.0 41.0 105.6C42.8 103.2 44.5 100.7 46.3 98.5C48.1 96.3 49.9 94.4 51.7 92.2C53.5 90.0 55.1 87.1 57.0 85.1C58.9 83.1 61.0 81.7 63.0 80.0C65.0 78.3 66.8 76.9 69.0 75.0C71.2 73.1 73.7 71.0 76.0 68.8C78.3 66.6 81.0 64.0 83.0 61.6C85.0 59.2 87.3 56.4 88.2 54.6C89.1 52.8 89.3 50.8 88.6 50.8C87.9 50.8 85.8 52.7 83.8 54.3C81.8 55.9 79.0 58.4 76.6 60.4C74.2 62.4 71.9 64.1 69.5 66.0C67.1 67.9 64.8 70.0 62.4 71.7C60.0 73.4 57.6 74.9 55.2 76.2C52.8 77.5 50.5 78.5 48.1 79.8C45.7 81.1 43.1 82.9 41.0 84.2C38.9 85.5 37.4 86.6 35.6 87.8C33.8 89.0 32.1 90.0 30.3 91.3C28.5 92.6 26.8 94.6 25.0 95.8C23.2 97.0 21.7 97.5 19.6 98.5C17.5 99.5 14.9 100.8 12.5 102.0C10.1 103.2 7.9 104.5 5.3 105.6C2.7 106.6 -0.8 107.8 -3.0 108.3C-5.2 108.8 -8.0 103.3 -8.0 108.3Z" fill="url(#sp0)"/>
<path d="M-7.1 109.1C-7.0 113.8 -8.3 132.5 -2.3 137.2C3.7 141.9 23.2 138.9 28.7 137.2C34.1 135.5 30.1 128.6 30.4 126.9C30.7 125.2 30.1 128.0 30.4 126.8C30.7 125.6 31.9 120.9 32.2 119.7C32.5 118.5 31.8 120.8 32.2 119.6C32.6 118.4 34.3 113.6 34.8 112.4C35.2 111.2 34.9 112.4 34.9 112.4C34.9 112.4 34.9 112.3 34.9 112.3C34.9 112.3 34.1 113.4 35.0 112.2C35.9 111.0 38.6 107.5 40.4 105.1C42.2 102.7 44.8 99.2 45.7 98.0C46.6 96.8 44.8 99.0 45.7 98.0C46.6 97.0 49.3 93.9 51.1 91.7C52.9 89.5 55.5 85.8 56.4 84.6C57.3 83.4 56.4 84.6 56.4 84.6C56.4 84.6 55.5 85.4 56.5 84.5C57.5 83.6 61.5 80.2 62.5 79.4C63.5 78.6 61.5 80.2 62.5 79.4C63.5 78.6 66.3 76.3 68.5 74.4C70.7 72.5 73.1 70.4 75.4 68.2C77.7 66.0 80.4 63.4 82.4 61.1C84.4 58.8 86.5 55.7 87.4 54.3C88.3 52.9 88.1 52.4 87.6 52.5C87.1 52.6 86.0 53.5 84.3 54.9C82.5 56.3 78.3 60.0 77.1 61.0C75.9 62.0 78.3 60.1 77.1 61.0C75.9 61.9 72.4 64.7 70.0 66.6C67.6 68.5 64.1 71.3 62.9 72.3C61.7 73.3 64.0 71.6 62.8 72.4C61.6 73.2 56.8 76.2 55.6 76.9C54.4 77.7 56.8 76.3 55.6 76.9C54.4 77.5 50.9 79.2 48.5 80.5C46.1 81.8 43.5 83.6 41.4 84.9C39.3 86.2 36.9 87.9 36.0 88.5C35.1 89.1 36.9 87.9 36.0 88.5C35.1 89.1 32.5 90.6 30.8 91.9C29.1 93.2 26.4 95.6 25.5 96.4C24.6 97.2 25.4 96.5 25.4 96.5C25.4 96.5 26.3 96.0 25.4 96.5C24.5 97.0 20.9 98.8 20.0 99.2C19.1 99.7 21.2 98.6 20.0 99.2C18.8 99.8 15.3 101.5 12.9 102.7C10.5 103.9 6.9 105.7 5.7 106.3C4.5 106.9 5.6 106.3 5.6 106.3C5.6 106.3 6.9 105.9 5.5 106.4C4.1 106.9 -1.4 108.6 -2.8 109.1C-4.2 109.5 -2.8 109.1 -2.8 109.1C-2.8 109.1 -2.9 109.1 -2.9 109.1C-2.9 109.1 -2.3 109.1 -3.0 109.1C-3.7 109.1 -7.2 104.4 -7.1 109.1Z" fill="url(#sp1)"/>
</g>
<g clip-path="url(#coA)">
<path d="M-4.7 141.2 -6.0 141.2 -6.2 141.0 -6.0 117.2 0.7 112.1 10.7 105.6 23.0 94.9 38.3 82.8 56.3 72.0 73.0 59.4 87.0 49.4 88.0 49.1 89.0 49.4 89.6 50.0 89.9 50.7 89.9 51.3 89.6 52.0 77.3 64.3 64.0 79.7 52.3 97.5 40.5 112.0 29.5 124.3 22.6 134.7 19.3 138.9 17.5 141.0Z" fill="url(#sp2)" fill-rule="evenodd" filter="url(#bs)"/>
<path d="M-4.3 141.2 -6.0 141.2 -6.2 141.0 -6.0 121.0 1.7 114.5 12.0 107.0 17.6 101.7 24.0 96.0 39.0 83.6 56.7 72.7 73.6 60.0 86.7 50.7 87.7 50.0 88.3 50.0 88.7 50.2 89.0 51.0 88.8 51.7 76.7 63.8 63.3 79.2 52.0 96.3 49.8 99.0 38.7 111.9 28.0 123.0 23.7 129.2 20.3 133.5 17.3 136.9 13.5 141.0Z" fill="#fa2e10" fill-rule="evenodd" filter="url(#bl)"/>
<path d="M-4.3 141.2 -6.0 141.2 -6.2 141.0 -6.0 121.0 1.7 114.5 12.0 107.0 17.6 101.7 24.0 96.0 39.0 83.6 56.7 72.7 73.6 60.0 86.7 50.7 87.7 50.0 88.3 50.0 88.7 50.2 89.0 51.0 88.8 51.7 76.7 63.8 63.3 79.2 52.0 96.3 49.8 99.0 38.7 111.9 28.0 123.0 23.7 129.2 20.3 133.5 17.3 136.9 13.5 141.0Z" fill="url(#ws)" fill-rule="evenodd" filter="url(#bs)"/>
</g>
<g clip-path="url(#clA)"><g filter="url(#bl)">
<path d="M8.7 141.0 -4.0 141.1 -6.1 141.0 -6.0 125.5 3.0 117.0 13.6 108.3 19.8 102.0 26.9 95.3 39.7 84.3 52.3 76.1 57.5 73.0 75.1 60.3 79.6 57.3 81.3 56.5 81.5 56.7 81.3 57.0 80.6 58.0 75.9 63.0 62.7 78.7 58.9 84.7 51.0 96.0 44.3 103.6 38.0 110.4 32.3 116.1 26.5 121.7 21.3 128.1 17.7 132.3Z" fill="#ff4808" fill-rule="evenodd"/>
<path d="M11.0 126.0 10.0 126.2 9.3 126.1 8.7 125.3 9.0 123.7 10.3 121.0 13.1 117.0 17.2 112.0 19.3 108.7 21.8 105.3 25.5 101.0 30.2 96.0 41.0 85.6 49.3 79.5 53.3 76.9 57.0 74.9 61.7 72.9 62.7 72.7 63.3 72.9 63.4 73.7 62.7 75.3 60.1 80.3 57.8 84.0 50.0 94.4 46.7 97.9 37.7 106.6 30.3 112.9 26.3 115.8 22.8 118.0 15.7 123.6 13.0 125.2Z" fill="#ff7a00" fill-rule="evenodd"/>
<path d="M28.7 109.4 27.0 109.6 26.3 109.5 25.8 109.0 25.6 107.7 26.4 105.3 27.8 102.7 30.4 99.0 33.9 94.7 37.4 90.7 42.0 86.1 47.3 81.8 51.7 78.8 54.3 77.2 57.0 76.0 59.0 75.6 60.0 76.0 60.2 77.0 60.0 78.3 59.2 80.3 57.9 82.7 54.1 88.0 49.2 94.0 43.3 99.5 37.7 104.2 32.7 107.5 30.3 108.8Z" fill="#ffa800" fill-rule="evenodd"/>
<path d="M33.7 104.4 32.0 104.6 31.2 104.0 31.0 102.7 31.5 101.0 32.5 99.0 34.4 96.0 36.4 93.3 39.6 89.7 42.3 86.8 44.7 84.8 48.3 81.9 51.3 79.8 53.7 78.4 55.7 77.6 57.3 77.3 58.2 77.7 58.5 78.3 58.3 79.7 57.7 81.3 56.6 83.3 53.6 87.7 48.8 93.3 44.7 97.2 40.7 100.5 36.7 103.1Z" fill="#ffd400" fill-rule="evenodd"/>
<path d="M36.0 101.7 34.7 101.8 34.0 101.3 33.8 100.3 34.3 98.7 35.3 96.7 36.8 94.3 41.0 89.3 43.0 87.2 45.7 84.8 50.7 81.1 52.7 80.0 54.3 79.3 55.7 79.1 56.3 79.4 56.6 80.0 56.5 81.0 55.2 84.0 52.5 88.0 49.1 92.0 45.3 95.6 41.7 98.6 38.7 100.6Z" fill="#bce400" fill-rule="evenodd"/>
<path d="M37.0 100.0 36.0 99.8 35.7 99.3 35.7 98.3 36.2 97.0 38.4 93.3 42.1 89.0 46.0 85.3 50.3 82.1 53.3 80.7 54.3 80.7 54.9 81.0 55.1 81.7 55.0 82.3 53.8 85.0 51.5 88.3 48.3 92.0 45.3 94.8 42.0 97.5 39.3 99.2Z" fill="#2cc020" fill-rule="evenodd"/>
<path d="M39.3 98.1 38.3 98.3 37.7 98.1 37.4 97.7 37.5 96.7 38.8 94.0 41.6 90.3 44.7 87.2 48.3 84.2 51.3 82.5 52.3 82.2 53.2 82.3 53.4 82.7 53.5 83.3 52.9 85.0 51.5 87.3 49.1 90.3 46.9 92.7 44.0 95.2 41.3 97.1Z" fill="#0a8c6c" fill-rule="evenodd"/>
<path d="M40.3 96.2 39.7 96.1 39.5 95.7 39.6 95.0 40.8 92.7 42.9 90.0 45.3 87.5 48.0 85.4 50.0 84.4 50.7 84.2 51.3 84.3 51.5 85.0 51.1 86.3 49.8 88.3 48.2 90.3 46.3 92.3 44.3 94.0 42.3 95.4Z" fill="#1c1cb4" fill-rule="evenodd"/>
</g></g>
<path d="M121.7 12.0h1.2v1.2h-1.2zM112.3 20.0h1.2v1.2h-1.2zM104.3 32.0h1.2v1.2h-1.2zM95.0 41.4h1.2v1.2h-1.2zM91.0 45.0h1.2v1.2h-1.2z" fill="#f05050" filter="url(#bs)"/>
</g>
<rect x="0.5" y="0.2" width="135" height="135.2" fill="none" stroke="#cacaca" stroke-width="1.15"/>
<path d="M0.50 135.50v2 M-2 135.50h2 M34.25 135.50v2 M-2 101.75h2 M68.00 135.50v2 M-2 68.00h2 M101.75 135.50v2 M-2 34.25h2 M135.50 135.50v2 M-2 0.50h2 " stroke="#999" stroke-width="0.6" fill="none"/>
<text x="-0.10" y="141.20" font-size="4.5" fill="#3c3c3c" text-anchor="middle">10<tspan dy="-1.4" font-size="3.1">0</tspan></text>
<text x="-2.20" y="138.00" font-size="4.5" fill="#3c3c3c" text-anchor="end">10<tspan dy="-1.3" font-size="3">0</tspan></text>
<text x="33.65" y="141.20" font-size="4.5" fill="#3c3c3c" text-anchor="middle">10<tspan dy="-1.4" font-size="3.1">1</tspan></text>
<text x="-2.20" y="104.25" font-size="4.5" fill="#3c3c3c" text-anchor="end">10<tspan dy="-1.3" font-size="3">1</tspan></text>
<text x="67.40" y="141.20" font-size="4.5" fill="#3c3c3c" text-anchor="middle">10<tspan dy="-1.4" font-size="3.1">2</tspan></text>
<text x="-2.20" y="70.50" font-size="4.5" fill="#3c3c3c" text-anchor="end">10<tspan dy="-1.3" font-size="3">2</tspan></text>
<text x="101.15" y="141.20" font-size="4.5" fill="#3c3c3c" text-anchor="middle">10<tspan dy="-1.4" font-size="3.1">3</tspan></text>
<text x="-2.20" y="36.75" font-size="4.5" fill="#3c3c3c" text-anchor="end">10<tspan dy="-1.3" font-size="3">3</tspan></text>
<text x="134.90" y="141.20" font-size="4.5" fill="#3c3c3c" text-anchor="middle">10<tspan dy="-1.4" font-size="3.1">4</tspan></text>
<text x="-2.20" y="3.00" font-size="4.5" fill="#3c3c3c" text-anchor="end">10<tspan dy="-1.3" font-size="3">4</tspan></text>
<text x="68.00" y="145.90" font-size="4.5" fill="#3c3c3c" text-anchor="middle">FL 1 Log</text>
<text transform="translate(-9.0 67.00) rotate(90)" font-size="4.5" fill="#3c3c3c" text-anchor="middle">FL 2 Log</text>
</g>
<g transform="translate(188 43)">
<g clip-path="url(#clipP)">
<g filter="url(#bs)">
<path d="M-8.0 94.0C-8.0 101.3 -9.4 130.7 -3.0 138.0C3.4 145.3 24.4 138.9 30.3 138.0C36.1 137.1 31.4 134.7 32.1 132.3C32.9 129.9 33.9 126.4 34.8 123.4C35.7 120.4 36.4 117.5 37.4 114.5C38.4 111.5 39.5 108.6 41.0 105.6C42.5 102.6 44.5 99.7 46.3 96.7C48.1 93.7 49.9 90.6 51.7 87.8C53.5 85.0 54.9 82.5 57.0 79.8C59.1 77.1 61.8 74.2 64.2 71.7C66.6 69.2 68.9 67.0 71.3 64.6C73.7 62.2 76.2 60.0 78.4 57.5C80.6 55.0 84.0 51.2 84.7 49.5C85.5 47.8 84.2 46.7 82.9 47.1C81.6 47.5 78.8 50.4 76.6 52.1C74.4 53.8 71.9 55.7 69.5 57.5C67.1 59.3 64.8 60.9 62.4 62.8C60.0 64.7 57.6 67.3 55.2 69.1C52.8 70.9 50.5 72.0 48.1 73.5C45.7 75.0 43.4 76.7 41.0 78.0C38.6 79.3 36.3 80.3 33.9 81.5C31.5 82.7 29.1 84.0 26.7 85.1C24.3 86.1 22.0 87.0 19.6 87.8C17.2 88.5 14.9 88.9 12.5 89.6C10.1 90.3 7.9 91.5 5.3 92.2C2.7 92.9 -0.8 93.7 -3.0 94.0C-5.2 94.3 -8.0 86.7 -8.0 94.0Z" fill="url(#sp0)"/>
<path d="M-7.1 94.8C-7.0 101.9 -8.4 130.1 -2.3 137.2C3.8 144.3 24.1 138.0 29.7 137.2C35.3 136.3 30.6 134.4 31.3 132.1C32.0 129.8 33.1 126.2 34.0 123.2C34.9 120.2 36.1 115.8 36.6 114.3C37.1 112.8 36.1 115.7 36.7 114.2C37.3 112.7 39.7 106.8 40.3 105.3C40.9 103.8 40.3 105.2 40.3 105.2C40.3 105.2 39.4 106.7 40.3 105.2C41.2 103.7 44.7 97.8 45.6 96.3C46.5 94.8 44.7 97.8 45.6 96.3C46.5 94.8 50.1 88.9 51.0 87.4C51.9 85.9 50.1 88.7 51.0 87.4C51.9 86.1 55.4 80.8 56.3 79.4C57.2 78.1 55.2 80.7 56.4 79.3C57.6 77.9 62.4 72.6 63.6 71.2C64.8 69.8 62.4 72.3 63.6 71.1C64.8 69.9 68.3 66.3 70.7 64.0C73.1 61.6 75.6 59.4 77.8 57.0C80.0 54.6 82.9 51.0 83.7 49.5C84.5 48.0 83.9 47.7 82.8 48.2C81.7 48.7 78.0 52.0 77.1 52.7C76.1 53.5 78.3 51.8 77.1 52.7C75.9 53.6 71.2 57.2 70.0 58.1C68.8 59.0 71.2 57.2 70.0 58.1C68.8 59.0 65.3 61.5 62.9 63.4C60.5 65.3 56.9 68.7 55.7 69.7C54.5 70.8 55.7 69.7 55.7 69.7C55.7 69.7 56.8 69.0 55.6 69.8C54.4 70.5 50.9 72.7 48.5 74.2C46.1 75.7 42.6 78.0 41.4 78.7C40.2 79.5 42.6 78.1 41.4 78.7C40.2 79.3 36.7 81.0 34.3 82.2C31.9 83.4 28.3 85.2 27.1 85.8C25.9 86.4 28.2 85.3 27.0 85.8C25.8 86.2 21.1 88.0 19.9 88.5C18.7 89.0 21.0 88.3 19.8 88.6C18.6 88.9 15.1 89.7 12.7 90.4C10.3 91.1 6.8 92.6 5.6 93.0C4.4 93.4 6.9 92.7 5.5 93.0C4.1 93.3 -1.4 94.5 -2.8 94.8C-4.2 95.1 -2.9 94.8 -2.9 94.8C-2.9 94.8 -2.3 94.8 -3.0 94.8C-3.7 94.8 -7.2 87.7 -7.1 94.8Z" fill="url(#sp1)"/>
</g>
<g clip-path="url(#coB)">
<path d="M9.3 141.0 -5.0 141.2 -6.0 141.2 -6.2 141.0 -6.2 111.7 -6.0 100.3 -2.7 97.7 1.0 95.4 12.4 89.7 19.0 85.8 36.0 73.3 53.7 64.3 61.6 59.7 72.0 53.6 83.0 45.9 84.3 45.7 85.3 46.1 85.9 46.7 86.3 47.7 86.3 48.3 86.0 49.2 76.3 63.0 66.3 77.7 55.8 95.0 41.7 111.5 30.2 121.7 15.0 136.5 11.3 139.6Z" fill="url(#sp2)" fill-rule="evenodd" filter="url(#bs)"/>
<path d="M4.7 141.0 -6.1 141.0 -6.2 123.0 -6.0 103.3 -2.7 100.3 1.3 97.5 4.7 95.7 13.9 91.3 20.3 87.5 37.3 74.4 56.3 64.3 72.7 54.4 83.3 46.9 84.0 46.7 84.8 47.0 85.2 47.7 85.1 48.7 65.3 76.7 54.7 93.7 40.0 110.0 29.0 119.7 12.7 135.2 8.7 138.4Z" fill="#fa2e10" fill-rule="evenodd" filter="url(#bl)"/>
<path d="M4.7 141.0 -6.1 141.0 -6.2 123.0 -6.0 103.3 -2.7 100.3 1.3 97.5 4.7 95.7 13.9 91.3 20.3 87.5 37.3 74.4 56.3 64.3 72.7 54.4 83.3 46.9 84.0 46.7 84.8 47.0 85.2 47.7 85.1 48.7 65.3 76.7 54.7 93.7 40.0 110.0 29.0 119.7 12.7 135.2 8.7 138.4Z" fill="url(#ws)" fill-rule="evenodd" filter="url(#bs)"/>
</g>
<g clip-path="url(#clB)"><g filter="url(#bl)">
<path d="M-2.3 140.7 -4.3 140.9 -6.0 140.8 -6.1 133.3 -6.0 108.6 -4.5 106.0 -2.6 103.7 0.0 101.3 3.3 99.0 15.0 93.4 21.7 89.3 38.3 75.8 55.8 66.3 73.7 55.3 77.7 52.7 79.7 51.6 80.3 51.6 80.4 52.0 80.1 53.0 78.3 56.0 64.2 75.7 53.7 92.1 49.7 96.5 38.5 108.3 28.4 117.0 11.0 133.1 7.7 135.7 4.3 137.8 0.7 139.8Z" fill="#ff4808" fill-rule="evenodd"/>
<path d="M0.0 131.0 -1.3 131.1 -2.7 131.0 -4.7 130.0 -5.1 129.3 -5.5 127.7 -5.2 125.0 -3.7 121.0 0.2 114.0 3.5 108.7 6.3 105.3 8.7 103.3 18.3 97.7 24.7 93.3 40.9 78.3 48.3 74.1 54.3 71.1 61.3 68.1 62.7 67.7 63.3 67.9 63.5 68.7 63.0 70.0 58.8 78.3 55.9 83.0 51.0 89.8 35.2 104.7 28.0 110.6 20.5 117.7 18.3 119.4 12.0 124.4 6.7 128.2 3.0 130.1Z" fill="#ff7a00" fill-rule="evenodd"/>
<path d="M10.7 118.3 9.0 118.6 7.6 118.3 6.8 117.3 6.7 116.0 7.1 114.3 8.1 112.3 9.5 110.3 11.3 108.3 12.3 107.5 15.0 106.0 25.0 101.9 26.3 101.2 27.7 100.3 29.3 98.4 30.1 96.7 31.4 94.3 35.9 87.3 38.9 83.7 42.3 80.2 46.7 77.6 50.7 75.8 53.7 75.1 54.7 75.2 55.5 75.7 55.9 76.7 55.9 77.7 55.5 79.0 54.8 80.7 52.7 84.0 49.3 88.0 44.7 91.5 37.7 96.1 33.7 98.4 30.5 99.7 28.0 101.1 26.0 103.2 20.8 110.3 17.7 114.2 14.0 116.8Z" fill="#ffa800" fill-rule="evenodd"/>
<path d="M43.0 88.7 42.0 88.9 41.0 88.7 40.5 88.3 40.3 87.7 40.4 86.7 40.8 85.7 42.7 83.0 44.5 81.3 47.7 79.6 50.0 79.0 51.3 79.3 51.7 80.0 51.5 81.3 50.7 83.0 49.3 84.8 48.0 86.1 46.7 87.1 44.7 88.2Z" fill="#ffd400" fill-rule="evenodd"/>
</g></g>
<path d="M93.6 38.8h1.2v1.2h-1.2zM89.0 42.5h1.2v1.2h-1.2z" fill="#f05050" filter="url(#bs)"/>
</g>
<rect x="0.5" y="0.2" width="135" height="135.2" fill="none" stroke="#cacaca" stroke-width="1.15"/>
<path d="M0.50 135.50v2 M-2 135.50h2 M34.25 135.50v2 M-2 101.75h2 M68.00 135.50v2 M-2 68.00h2 M101.75 135.50v2 M-2 34.25h2 M135.50 135.50v2 M-2 0.50h2 " stroke="#999" stroke-width="0.6" fill="none"/>
<text x="-0.10" y="141.20" font-size="4.5" fill="#3c3c3c" text-anchor="middle">10<tspan dy="-1.4" font-size="3.1">0</tspan></text>
<text x="-2.20" y="138.00" font-size="4.5" fill="#3c3c3c" text-anchor="end">10<tspan dy="-1.3" font-size="3">0</tspan></text>
<text x="33.65" y="141.20" font-size="4.5" fill="#3c3c3c" text-anchor="middle">10<tspan dy="-1.4" font-size="3.1">1</tspan></text>
<text x="-2.20" y="104.25" font-size="4.5" fill="#3c3c3c" text-anchor="end">10<tspan dy="-1.3" font-size="3">1</tspan></text>
<text x="67.40" y="141.20" font-size="4.5" fill="#3c3c3c" text-anchor="middle">10<tspan dy="-1.4" font-size="3.1">2</tspan></text>
<text x="-2.20" y="70.50" font-size="4.5" fill="#3c3c3c" text-anchor="end">10<tspan dy="-1.3" font-size="3">2</tspan></text>
<text x="101.15" y="141.20" font-size="4.5" fill="#3c3c3c" text-anchor="middle">10<tspan dy="-1.4" font-size="3.1">3</tspan></text>
<text x="-2.20" y="36.75" font-size="4.5" fill="#3c3c3c" text-anchor="end">10<tspan dy="-1.3" font-size="3">3</tspan></text>
<text x="134.90" y="141.20" font-size="4.5" fill="#3c3c3c" text-anchor="middle">10<tspan dy="-1.4" font-size="3.1">4</tspan></text>
<text x="-2.20" y="3.00" font-size="4.5" fill="#3c3c3c" text-anchor="end">10<tspan dy="-1.3" font-size="3">4</tspan></text>
<text x="68.00" y="145.90" font-size="4.5" fill="#3c3c3c" text-anchor="middle">FL 1 Log</text>
<text transform="translate(-9.0 67.00) rotate(90)" font-size="4.5" fill="#3c3c3c" text-anchor="middle">FL 2 Log</text>
</g>
<g transform="translate(20 198)">
<g clip-path="url(#clipP)">
<g filter="url(#bs)">
<path d="M-8.4 93.1C-7.6 100.6 -4.2 130.5 -3.4 138.0C-2.6 145.5 -3.4 138.1 -3.4 138.1C-3.4 138.1 -3.4 138.1 -3.4 138.1C-3.4 138.1 -3.4 138.2 -3.4 138.2C-3.4 138.2 -3.4 138.2 -3.4 138.2C-3.4 138.2 -3.3 138.2 -3.3 138.2C-3.3 138.2 -3.3 138.3 -3.3 138.3C-3.3 138.3 -3.3 138.3 -3.3 138.3C-3.3 138.3 -3.3 138.3 -3.3 138.3C-3.3 138.3 -3.2 138.3 -3.2 138.3C-3.2 138.3 -3.2 138.4 -3.2 138.4C-3.2 138.4 -3.2 138.4 -3.2 138.4C-3.2 138.4 -3.1 138.4 -3.1 138.4C-3.1 138.4 -3.1 138.4 -3.1 138.4C-3.1 138.4 -3.0 138.4 -3.0 138.4C-3.0 138.4 -8.6 138.4 -3.0 138.4C2.5 138.4 24.8 138.4 30.3 138.4C35.9 138.4 30.3 138.4 30.3 138.4C30.3 138.4 30.4 138.4 30.4 138.4C30.4 138.4 30.4 138.4 30.4 138.4C30.4 138.4 30.5 138.4 30.5 138.4C30.5 138.4 30.5 138.4 30.5 138.4C30.5 138.4 30.5 138.3 30.5 138.3C30.5 138.3 30.6 138.3 30.6 138.3C30.6 138.3 30.6 138.3 30.6 138.3C30.6 138.3 30.6 138.3 30.6 138.3C30.6 138.3 30.6 138.2 30.6 138.2C30.6 138.2 30.7 138.2 30.7 138.2C30.7 138.2 30.7 138.2 30.7 138.2C30.7 138.2 30.4 139.1 30.7 138.1C31.0 137.1 31.6 134.5 32.5 132.4C33.4 130.3 34.8 127.8 36.0 125.4C37.2 123.1 39.0 119.5 39.6 118.3C40.2 117.1 39.6 118.2 39.6 118.2C39.6 118.2 39.3 119.4 39.6 118.2C39.9 117.0 40.5 113.7 41.4 111.0C42.3 108.3 44.4 103.6 45.0 102.1C45.6 100.6 44.4 103.6 45.0 102.1C45.6 100.6 47.0 95.9 48.5 93.3C50.0 90.7 52.9 87.4 53.8 86.2C54.7 85.0 52.9 87.7 53.8 86.2C54.7 84.7 57.0 80.0 59.1 77.3C61.2 74.6 63.8 72.7 66.2 70.3C68.6 67.9 71.0 65.5 73.4 63.1C75.8 60.7 79.3 57.2 80.5 56.0C81.7 54.8 80.5 56.0 80.5 56.0C80.5 56.0 80.5 55.9 80.5 55.9C80.5 55.9 80.6 55.9 80.6 55.9C80.6 55.9 80.1 57.0 80.6 55.8C81.0 54.6 82.8 49.9 83.3 48.7C83.8 47.5 83.3 48.7 83.3 48.7C83.3 48.7 83.3 48.7 83.3 48.7C83.3 48.7 83.3 48.6 83.3 48.6C83.3 48.6 83.3 48.6 83.3 48.6C83.3 48.6 83.3 48.5 83.3 48.5C83.3 48.5 83.3 48.5 83.3 48.5C83.3 48.5 83.3 48.5 83.3 48.5C83.3 48.5 83.3 48.4 83.3 48.4C83.3 48.4 83.2 48.4 83.2 48.4C83.2 48.4 83.2 48.4 83.2 48.4C83.2 48.4 83.2 48.3 83.2 48.3C83.2 48.3 83.2 48.3 83.2 48.3C83.2 48.3 83.1 48.3 83.1 48.3C83.1 48.3 83.1 48.3 83.1 48.3C83.1 48.3 83.1 48.2 83.1 48.2C83.1 48.2 83.0 48.2 83.0 48.2C83.0 48.2 83.0 48.2 83.0 48.2C83.0 48.2 83.0 48.2 83.0 48.2C83.0 48.2 82.9 48.2 82.9 48.2C82.9 48.2 82.9 48.2 82.9 48.2C82.9 48.2 82.8 48.2 82.8 48.2C82.8 48.2 82.8 48.2 82.8 48.2C82.8 48.2 82.8 48.2 82.8 48.2C82.8 48.2 82.7 48.2 82.7 48.2C82.7 48.2 82.7 48.3 82.7 48.3C82.7 48.3 83.5 47.7 82.7 48.3C82.0 48.9 80.1 50.3 78.2 51.8C76.3 53.3 73.5 55.4 71.1 57.2C68.7 59.0 65.2 61.6 64.0 62.5C62.8 63.4 65.2 61.6 64.0 62.5C62.8 63.4 59.2 66.1 56.8 67.9C54.4 69.7 52.1 71.7 49.7 73.2C47.3 74.7 45.0 75.5 42.6 76.7C40.2 77.9 36.6 79.6 35.4 80.2C34.2 80.8 36.6 79.5 35.4 80.3C34.2 81.1 30.6 83.5 28.3 84.8C26.0 86.1 23.7 87.4 21.3 88.3C18.9 89.2 15.4 89.7 14.2 90.0C13.0 90.3 15.4 89.7 14.2 90.0C13.0 90.3 9.9 91.3 7.0 91.8C4.1 92.2 -0.5 92.5 -3.0 92.7C-5.5 92.9 -7.2 92.7 -8.0 92.7C-8.8 92.7 -8.0 92.7 -8.0 92.7C-8.0 92.7 -8.1 92.7 -8.1 92.7C-8.1 92.7 -8.1 92.7 -8.1 92.7C-8.1 92.7 -8.2 92.7 -8.2 92.7C-8.2 92.7 -8.2 92.7 -8.2 92.7C-8.2 92.7 -8.2 92.8 -8.2 92.8C-8.2 92.8 -8.3 92.8 -8.3 92.8C-8.3 92.8 -8.3 92.8 -8.3 92.8C-8.3 92.8 -8.3 92.8 -8.3 92.8C-8.3 92.8 -8.3 92.9 -8.3 92.9C-8.3 92.9 -8.4 92.9 -8.4 92.9C-8.4 92.9 -8.4 93.0 -8.4 93.0C-8.4 93.0 -8.4 93.0 -8.4 93.0C-8.4 93.0 -8.4 93.0 -8.4 93.0C-8.4 93.0 -8.4 93.1 -8.4 93.1C-8.4 93.1 -8.4 93.1 -8.4 93.1C-8.4 93.1 -9.2 85.6 -8.4 93.1Z" fill="url(#sp0)"/>
<path d="M-7.1 93.9C-7.0 101.1 -8.4 130.0 -2.3 137.2C3.8 144.4 24.1 138.0 29.7 137.2C35.3 136.3 31.0 133.0 31.3 132.1C31.6 131.2 31.4 132.0 31.4 132.0C31.4 132.0 30.8 133.1 31.4 131.9C32.0 130.7 34.3 126.0 34.9 124.8C35.5 123.6 34.3 126.0 34.9 124.8C35.5 123.6 37.5 120.1 38.4 117.8C39.3 115.5 39.9 111.9 40.2 110.7C40.5 109.5 39.7 112.1 40.3 110.6C40.9 109.1 42.7 104.7 43.9 101.7C45.1 98.7 46.8 94.3 47.4 92.8C48.0 91.3 47.4 92.7 47.4 92.7C47.4 92.7 47.4 92.7 47.4 92.7C47.4 92.7 46.6 93.8 47.5 92.6C48.4 91.4 51.0 88.2 52.8 85.6C54.6 82.9 57.2 78.2 58.1 76.7C59.0 75.2 58.1 76.6 58.1 76.6C58.1 76.6 58.2 76.6 58.2 76.6C58.2 76.6 57.0 77.7 58.2 76.5C59.4 75.3 62.9 71.8 65.3 69.4C67.7 67.0 70.1 64.6 72.5 62.2C74.9 59.9 78.1 57.2 79.5 55.3C80.9 53.4 81.2 51.4 81.1 51.0C81.0 50.6 79.3 52.4 78.9 52.7C78.5 53.0 80.1 51.8 78.9 52.7C77.7 53.6 73.0 57.2 71.8 58.1C70.6 59.0 73.0 57.2 71.8 58.1C70.6 59.0 67.1 61.6 64.7 63.4C62.3 65.2 58.7 67.9 57.5 68.8C56.3 69.7 58.7 67.9 57.5 68.8C56.3 69.7 51.6 73.2 50.4 74.1C49.2 75.0 50.3 74.2 50.3 74.2C50.3 74.2 51.5 73.6 50.3 74.2C49.1 74.8 44.4 77.2 43.2 77.8C42.0 78.4 44.3 77.2 43.1 77.8C41.9 78.4 38.4 80.0 36.0 81.3C33.6 82.6 30.1 85.0 28.9 85.8C27.7 86.5 30.1 85.2 28.9 85.8C27.7 86.4 23.0 88.8 21.8 89.4C20.6 90.0 21.7 89.5 21.7 89.5C21.7 89.5 22.8 89.2 21.6 89.5C20.4 89.8 16.9 90.6 14.5 91.2C12.1 91.8 8.5 92.7 7.3 93.0C6.1 93.3 7.2 93.0 7.2 93.0C7.2 93.0 8.9 92.8 7.2 93.0C5.5 93.2 -1.2 93.8 -2.9 93.9C-4.6 94.1 -2.3 93.9 -3.0 93.9C-3.7 93.9 -7.2 86.7 -7.1 93.9Z" fill="url(#sp1)"/>
</g>
<g clip-path="url(#coC)">
<path d="M11.3 141.0 -6.0 141.2 -6.2 141.0 -6.2 116.7 -6.0 103.5 -2.0 101.3 -1.7 101.3 21.0 87.1 31.0 81.8 37.3 78.7 37.7 78.7 54.9 68.3 68.7 58.7 80.7 49.8 81.3 49.5 82.3 49.4 83.7 50.0 84.2 50.7 84.6 51.7 84.5 52.7 84.2 53.3 75.3 65.3 65.5 79.3 52.8 96.0 39.6 110.3 22.3 130.2Z" fill="url(#sp2)" fill-rule="evenodd" filter="url(#bs)"/>
<path d="M3.7 141.0 -6.1 141.0 -6.2 123.3 -6.0 108.9 1.1 104.7 26.3 87.6 33.7 83.1 39.3 80.1 56.0 69.7 69.7 59.7 81.3 50.8 82.3 50.7 83.0 51.0 83.4 52.0 83.0 53.0 74.3 64.3 64.3 78.0 51.3 94.5 43.3 102.5 37.3 108.0 19.3 127.0Z" fill="#fa2e10" fill-rule="evenodd" filter="url(#bl)"/>
<path d="M3.7 141.0 -6.1 141.0 -6.2 123.3 -6.0 108.9 1.1 104.7 26.3 87.6 33.7 83.1 39.3 80.1 56.0 69.7 69.7 59.7 81.3 50.8 82.3 50.7 83.0 51.0 83.4 52.0 83.0 53.0 74.3 64.3 64.3 78.0 51.3 94.5 43.3 102.5 37.3 108.0 19.3 127.0Z" fill="url(#ws)" fill-rule="evenodd" filter="url(#bs)"/>
</g>
<g clip-path="url(#clC)"><g filter="url(#bl)">
<path d="M-4.3 135.7 -6.0 135.8 -6.0 118.0 5.2 109.7 25.5 93.7 30.2 89.7 35.6 85.7 40.4 82.3 58.0 71.5 69.7 63.0 71.3 62.1 72.0 62.0 71.9 62.7 71.0 64.3 67.0 69.9 54.6 86.3 49.5 92.7 41.3 99.5 34.3 104.5 15.0 122.2 -1.4 134.3 -2.7 135.1Z" fill="#ff4808" fill-rule="evenodd"/>
<path d="M42.0 92.7 40.7 92.9 39.7 92.8 38.8 92.3 38.5 91.7 38.6 90.7 38.9 89.7 40.5 87.3 42.9 85.0 45.7 83.5 48.3 82.6 49.3 82.6 50.1 83.0 50.5 84.0 50.3 85.3 49.4 87.0 48.0 89.0 47.0 90.0 45.3 91.2 43.7 92.1Z" fill="#ff7a00" fill-rule="evenodd"/>
</g></g>
<path d="M87.0 30.7h1.2v1.2h-1.2zM92.2 42.8h1.2v1.2h-1.2z" fill="#f05050" filter="url(#bs)"/>
</g>
<rect x="0.5" y="0.2" width="135" height="135.2" fill="none" stroke="#cacaca" stroke-width="1.15"/>
<path d="M0.50 135.50v2 M-2 135.50h2 M34.25 135.50v2 M-2 101.75h2 M68.00 135.50v2 M-2 68.00h2 M101.75 135.50v2 M-2 34.25h2 M135.50 135.50v2 M-2 0.50h2 " stroke="#999" stroke-width="0.6" fill="none"/>
<text x="-0.10" y="141.20" font-size="4.5" fill="#3c3c3c" text-anchor="middle">10<tspan dy="-1.4" font-size="3.1">0</tspan></text>
<text x="-2.20" y="138.00" font-size="4.5" fill="#3c3c3c" text-anchor="end">10<tspan dy="-1.3" font-size="3">0</tspan></text>
<text x="33.65" y="141.20" font-size="4.5" fill="#3c3c3c" text-anchor="middle">10<tspan dy="-1.4" font-size="3.1">1</tspan></text>
<text x="-2.20" y="104.25" font-size="4.5" fill="#3c3c3c" text-anchor="end">10<tspan dy="-1.3" font-size="3">1</tspan></text>
<text x="67.40" y="141.20" font-size="4.5" fill="#3c3c3c" text-anchor="middle">10<tspan dy="-1.4" font-size="3.1">2</tspan></text>
<text x="-2.20" y="70.50" font-size="4.5" fill="#3c3c3c" text-anchor="end">10<tspan dy="-1.3" font-size="3">2</tspan></text>
<text x="101.15" y="141.20" font-size="4.5" fill="#3c3c3c" text-anchor="middle">10<tspan dy="-1.4" font-size="3.1">3</tspan></text>
<text x="-2.20" y="36.75" font-size="4.5" fill="#3c3c3c" text-anchor="end">10<tspan dy="-1.3" font-size="3">3</tspan></text>
<text x="134.90" y="141.20" font-size="4.5" fill="#3c3c3c" text-anchor="middle">10<tspan dy="-1.4" font-size="3.1">4</tspan></text>
<text x="-2.20" y="3.00" font-size="4.5" fill="#3c3c3c" text-anchor="end">10<tspan dy="-1.3" font-size="3">4</tspan></text>
<text x="68.00" y="145.90" font-size="4.5" fill="#3c3c3c" text-anchor="middle">FL 1 Log</text>
<text transform="translate(-9.0 67.00) rotate(90)" font-size="4.5" fill="#3c3c3c" text-anchor="middle">FL 2 Log</text>
</g>
<g transform="translate(188 198)">
<g clip-path="url(#clipP)">
<g filter="url(#bs)">
<path d="M-8.4 96.7C-7.6 103.6 -4.2 131.1 -3.4 138.0C-2.6 144.9 -3.4 138.1 -3.4 138.1C-3.4 138.1 -3.4 138.1 -3.4 138.1C-3.4 138.1 -3.4 138.2 -3.4 138.2C-3.4 138.2 -3.3 138.2 -3.3 138.2C-3.3 138.2 -3.3 138.2 -3.3 138.2C-3.3 138.2 -3.3 138.3 -3.3 138.3C-3.3 138.3 -3.3 138.3 -3.3 138.3C-3.3 138.3 -3.3 138.3 -3.3 138.3C-3.3 138.3 -3.2 138.3 -3.2 138.3C-3.2 138.3 -3.2 138.4 -3.2 138.4C-3.2 138.4 -3.2 138.4 -3.2 138.4C-3.2 138.4 -3.1 138.4 -3.1 138.4C-3.1 138.4 -3.1 138.4 -3.1 138.4C-3.1 138.4 -3.0 138.4 -3.0 138.4C-3.0 138.4 -9.3 138.4 -3.0 138.4C3.3 138.4 28.5 138.4 34.8 138.4C41.1 138.4 34.8 138.4 34.8 138.4C34.8 138.4 34.9 138.4 34.9 138.4C34.9 138.4 34.9 138.4 34.9 138.4C34.9 138.4 35.0 138.4 35.0 138.4C35.0 138.4 35.0 138.4 35.0 138.4C35.0 138.4 35.0 138.3 35.0 138.3C35.0 138.3 35.1 138.3 35.1 138.3C35.1 138.3 35.1 138.3 35.1 138.3C35.1 138.3 35.1 138.3 35.1 138.3C35.1 138.3 35.1 138.2 35.1 138.2C35.1 138.2 35.2 138.2 35.2 138.2C35.2 138.2 35.2 138.2 35.2 138.2C35.2 138.2 35.2 138.1 35.2 138.1C35.2 138.1 35.2 138.1 35.2 138.1C35.2 138.1 35.1 139.2 35.2 138.0C35.3 136.8 35.4 133.3 36.0 130.6C36.6 127.9 37.8 124.7 38.7 121.7C39.6 118.7 40.4 115.8 41.4 112.8C42.4 109.8 44.4 105.4 45.0 103.9C45.6 102.4 44.4 105.4 45.0 103.9C45.6 102.4 47.0 98.0 48.5 95.1C50.0 92.1 51.7 89.2 53.8 86.2C55.9 83.2 58.5 80.1 60.9 77.4C63.3 74.8 65.6 72.7 68.0 70.3C70.4 67.9 74.0 64.3 75.2 63.1C76.4 61.9 74.2 64.3 75.2 63.1C76.2 61.9 80.4 57.2 81.4 56.0C82.4 54.8 81.4 55.9 81.4 55.9C81.4 55.9 81.4 55.9 81.4 55.9C81.4 55.9 81.5 55.9 81.5 55.9C81.5 55.9 81.5 55.8 81.5 55.8C81.5 55.8 81.2 57.0 81.5 55.8C81.8 54.6 83.0 49.9 83.3 48.7C83.6 47.5 83.3 48.7 83.3 48.7C83.3 48.7 83.3 48.6 83.3 48.6C83.3 48.6 83.3 48.6 83.3 48.6C83.3 48.6 83.3 48.5 83.3 48.5C83.3 48.5 83.3 48.5 83.3 48.5C83.3 48.5 83.3 48.5 83.3 48.5C83.3 48.5 83.3 48.4 83.3 48.4C83.3 48.4 83.2 48.4 83.2 48.4C83.2 48.4 83.2 48.4 83.2 48.4C83.2 48.4 83.2 48.3 83.2 48.3C83.2 48.3 83.2 48.3 83.2 48.3C83.2 48.3 83.1 48.3 83.1 48.3C83.1 48.3 83.1 48.3 83.1 48.3C83.1 48.3 83.1 48.2 83.1 48.2C83.1 48.2 83.0 48.2 83.0 48.2C83.0 48.2 83.0 48.2 83.0 48.2C83.0 48.2 83.0 48.2 83.0 48.2C83.0 48.2 82.9 48.2 82.9 48.2C82.9 48.2 82.9 48.2 82.9 48.2C82.9 48.2 82.8 48.2 82.8 48.2C82.8 48.2 82.8 48.2 82.8 48.2C82.8 48.2 82.8 48.2 82.8 48.2C82.8 48.2 82.7 48.2 82.7 48.2C82.7 48.2 82.7 48.3 82.7 48.3C82.7 48.3 83.5 47.7 82.7 48.3C82.0 48.9 80.1 50.3 78.2 51.8C76.3 53.3 73.5 55.4 71.1 57.2C68.7 59.0 66.4 60.9 64.0 62.5C61.6 64.1 59.2 65.5 56.8 67.0C54.4 68.5 50.9 70.7 49.7 71.4C48.5 72.1 50.9 70.7 49.7 71.4C48.5 72.2 45.0 74.6 42.6 75.9C40.2 77.2 37.8 78.2 35.4 79.4C33.0 80.6 29.5 82.3 28.3 82.9C27.1 83.5 29.5 82.3 28.3 82.9C27.1 83.5 23.6 85.5 21.2 86.5C18.8 87.5 15.4 88.8 14.2 89.2C13.0 89.7 15.3 88.6 14.1 89.2C12.9 89.8 9.8 91.5 6.9 92.7C4.0 93.9 -0.6 95.7 -3.1 96.3C-5.6 96.9 -7.2 96.3 -8.0 96.3C-8.8 96.3 -8.0 96.3 -8.0 96.3C-8.0 96.3 -8.1 96.3 -8.1 96.3C-8.1 96.3 -8.1 96.3 -8.1 96.3C-8.1 96.3 -8.2 96.3 -8.2 96.3C-8.2 96.3 -8.2 96.3 -8.2 96.3C-8.2 96.3 -8.2 96.4 -8.2 96.4C-8.2 96.4 -8.3 96.4 -8.3 96.4C-8.3 96.4 -8.3 96.4 -8.3 96.4C-8.3 96.4 -8.3 96.4 -8.3 96.4C-8.3 96.4 -8.3 96.5 -8.3 96.5C-8.3 96.5 -8.4 96.5 -8.4 96.5C-8.4 96.5 -8.4 96.6 -8.4 96.6C-8.4 96.6 -8.4 96.6 -8.4 96.6C-8.4 96.6 -8.4 96.6 -8.4 96.6C-8.4 96.6 -8.4 96.7 -8.4 96.7C-8.4 96.7 -8.4 96.7 -8.4 96.7C-8.4 96.7 -9.2 89.8 -8.4 96.7Z" fill="url(#sp0)"/>
<path d="M-7.1 97.5C-7.0 104.1 -9.2 130.6 -2.3 137.2C4.6 143.8 27.9 138.3 34.1 137.2C40.3 136.1 34.7 131.6 34.8 130.4C34.9 129.2 34.8 130.3 34.8 130.3C34.8 130.3 34.3 131.8 34.8 130.3C35.2 128.8 36.6 124.4 37.5 121.4C38.4 118.4 39.7 114.0 40.2 112.5C40.7 111.0 39.7 113.9 40.3 112.4C40.9 110.9 42.7 106.5 43.9 103.5C45.1 100.5 46.8 96.1 47.4 94.6C48.0 93.1 47.4 94.5 47.4 94.5C47.4 94.5 46.5 96.0 47.4 94.5C48.3 93.0 51.9 87.1 52.8 85.6C53.7 84.1 51.7 87.0 52.9 85.5C54.1 84.0 58.8 78.1 60.0 76.6C61.2 75.1 58.8 77.7 60.0 76.5C61.2 75.3 64.7 71.8 67.1 69.4C69.5 67.0 72.1 64.7 74.3 62.3C76.5 59.9 79.2 57.2 80.4 55.3C81.6 53.4 81.8 51.1 81.6 50.7C81.3 50.3 79.4 52.4 78.9 52.7C78.5 53.0 80.1 51.8 78.9 52.7C77.7 53.6 73.0 57.2 71.8 58.1C70.6 59.0 73.0 57.2 71.8 58.1C70.6 59.0 65.9 62.5 64.7 63.4C63.5 64.3 65.8 62.7 64.6 63.5C63.4 64.3 58.6 67.2 57.4 68.0C56.2 68.8 58.6 67.3 57.4 68.0C56.2 68.7 52.7 70.9 50.3 72.4C47.9 73.9 44.4 76.2 43.2 76.9C42.0 77.7 44.4 76.3 43.2 76.9C42.0 77.5 37.2 79.9 36.0 80.5C34.8 81.1 37.2 79.9 36.0 80.5C34.8 81.1 31.3 82.8 28.9 84.0C26.5 85.2 23.0 87.0 21.8 87.6C20.6 88.2 22.9 87.1 21.7 87.6C20.5 88.0 17.0 89.3 14.6 90.3C12.2 91.3 8.6 93.2 7.4 93.8C6.2 94.4 9.1 93.3 7.4 93.9C5.7 94.5 -1.0 96.9 -2.7 97.5C-4.4 98.1 -2.8 97.5 -2.8 97.5C-2.8 97.5 -2.9 97.5 -2.9 97.5C-2.9 97.5 -2.3 97.5 -3.0 97.5C-3.7 97.5 -7.2 90.9 -7.1 97.5Z" fill="url(#sp1)"/>
</g>
<g clip-path="url(#coD)">
<path d="M-6.0 141.2 -6.2 141.0 -6.2 116.0 -6.0 103.1 -1.7 100.7 8.7 94.1 22.3 85.8 35.0 78.8 54.3 67.7 68.9 58.3 80.7 49.8 81.3 49.5 82.3 49.4 83.7 50.0 84.2 50.7 84.6 51.7 84.5 52.7 84.2 53.3 68.0 75.3 58.9 88.3 51.7 97.7 40.7 110.7 27.0 125.9 22.3 130.9 11.6 141.0Z" fill="url(#sp2)" fill-rule="evenodd" filter="url(#bs)"/>
<path d="M3.7 141.0 -6.1 141.0 -6.2 123.0 -6.0 108.5 1.0 104.0 11.1 96.7 31.0 83.2 41.3 76.8 53.7 69.9 57.7 67.3 69.7 59.3 81.3 50.8 82.3 50.7 83.0 51.0 83.3 51.7 83.2 52.7 74.6 64.3 66.3 75.0 56.8 88.7 50.4 96.7 40.7 106.8 23.3 124.1 14.0 132.4Z" fill="#fa2e10" fill-rule="evenodd" filter="url(#bl)"/>
<path d="M3.7 141.0 -6.1 141.0 -6.2 123.0 -6.0 108.5 1.0 104.0 11.1 96.7 31.0 83.2 41.3 76.8 53.7 69.9 57.7 67.3 69.7 59.3 81.3 50.8 82.3 50.7 83.0 51.0 83.3 51.7 83.2 52.7 74.6 64.3 66.3 75.0 56.8 88.7 50.4 96.7 40.7 106.8 23.3 124.1 14.0 132.4Z" fill="url(#ws)" fill-rule="evenodd" filter="url(#bs)"/>
</g>
<g clip-path="url(#clD)"><g filter="url(#bl)">
<path d="M-4.3 135.7 -6.0 135.8 -6.0 117.4 4.3 109.0 10.5 103.3 22.0 93.7 27.3 89.0 34.7 83.2 43.7 77.5 55.8 71.0 72.3 60.3 74.0 59.5 74.3 59.5 74.5 59.7 74.3 60.7 73.0 62.8 63.7 75.2 56.1 86.7 52.8 91.0 49.1 95.3 41.3 102.4 33.8 108.3 25.3 115.5 19.0 120.6 11.7 125.9 5.0 130.4 -2.0 134.8Z" fill="#ff4808" fill-rule="evenodd"/>
<path d="M31.7 102.4 29.7 102.5 28.3 102.3 27.5 102.0 27.0 101.6 26.7 100.9 26.6 99.0 27.2 96.7 28.4 94.3 30.2 91.7 32.8 88.7 35.6 86.0 38.5 83.7 42.0 81.4 45.3 79.6 49.3 77.7 52.7 76.6 55.0 76.2 55.7 76.3 56.3 76.6 56.8 77.7 56.6 79.0 56.0 81.0 54.8 83.7 51.8 88.3 47.6 93.3 43.3 96.8 39.0 99.5 35.0 101.4Z" fill="#ff7a00" fill-rule="evenodd"/>
<path d="M36.0 97.3 34.3 97.3 33.3 96.8 32.8 96.0 32.6 94.7 33.1 93.0 33.9 91.3 35.0 89.7 36.8 87.7 40.0 84.8 42.7 83.1 45.0 81.9 47.0 81.1 49.0 80.6 50.3 80.6 51.4 81.0 51.9 81.7 52.0 82.7 51.4 85.0 49.7 88.0 47.0 91.3 44.7 93.3 41.3 95.5 38.3 96.8Z" fill="#ffa800" fill-rule="evenodd"/>
<path d="M40.0 93.0 38.3 93.0 37.9 92.7 37.5 92.0 37.5 91.3 37.8 90.3 39.4 88.0 41.3 86.2 44.0 84.7 46.3 84.1 47.0 84.2 47.7 84.6 48.0 85.3 47.7 86.7 47.0 88.0 45.7 89.7 44.7 90.7 43.0 91.8 41.3 92.6Z" fill="#ffd400" fill-rule="evenodd"/>
</g></g>
<path d="M96.3 32.1h1.2v1.2h-1.2zM90.0 46.0h1.2v1.2h-1.2z" fill="#f05050" filter="url(#bs)"/>
</g>
<rect x="0.5" y="0.2" width="135" height="135.2" fill="none" stroke="#cacaca" stroke-width="1.15"/>
<path d="M0.50 135.50v2 M-2 135.50h2 M34.25 135.50v2 M-2 101.75h2 M68.00 135.50v2 M-2 68.00h2 M101.75 135.50v2 M-2 34.25h2 M135.50 135.50v2 M-2 0.50h2 " stroke="#999" stroke-width="0.6" fill="none"/>
<text x="-0.10" y="141.20" font-size="4.5" fill="#3c3c3c" text-anchor="middle">10<tspan dy="-1.4" font-size="3.1">0</tspan></text>
<text x="-2.20" y="138.00" font-size="4.5" fill="#3c3c3c" text-anchor="end">10<tspan dy="-1.3" font-size="3">0</tspan></text>
<text x="33.65" y="141.20" font-size="4.5" fill="#3c3c3c" text-anchor="middle">10<tspan dy="-1.4" font-size="3.1">1</tspan></text>
<text x="-2.20" y="104.25" font-size="4.5" fill="#3c3c3c" text-anchor="end">10<tspan dy="-1.3" font-size="3">1</tspan></text>
<text x="67.40" y="141.20" font-size="4.5" fill="#3c3c3c" text-anchor="middle">10<tspan dy="-1.4" font-size="3.1">2</tspan></text>
<text x="-2.20" y="70.50" font-size="4.5" fill="#3c3c3c" text-anchor="end">10<tspan dy="-1.3" font-size="3">2</tspan></text>
<text x="101.15" y="141.20" font-size="4.5" fill="#3c3c3c" text-anchor="middle">10<tspan dy="-1.4" font-size="3.1">3</tspan></text>
<text x="-2.20" y="36.75" font-size="4.5" fill="#3c3c3c" text-anchor="end">10<tspan dy="-1.3" font-size="3">3</tspan></text>
<text x="134.90" y="141.20" font-size="4.5" fill="#3c3c3c" text-anchor="middle">10<tspan dy="-1.4" font-size="3.1">4</tspan></text>
<text x="-2.20" y="3.00" font-size="4.5" fill="#3c3c3c" text-anchor="end">10<tspan dy="-1.3" font-size="3">4</tspan></text>
<text x="68.00" y="145.90" font-size="4.5" fill="#3c3c3c" text-anchor="middle">FL 1 Log</text>
<text transform="translate(-9.0 67.00) rotate(90)" font-size="4.5" fill="#3c3c3c" text-anchor="middle">FL 2 Log</text>
</g>
<g transform="translate(20 356)">
<g clip-path="url(#clipP)">
<g filter="url(#bs)">
</g>
<g clip-path="url(#coE)">
<path d="M18.0 141.0 10.3 141.2 -6.0 141.3 -6.3 141.0 -6.3 122.3 -6.0 115.5 -1.0 112.2 16.0 104.1 20.7 102.1 21.3 102.2 32.3 95.8 34.7 94.5 35.3 94.4 47.0 84.0 56.1 76.3 66.3 67.3 68.0 66.9 69.7 67.3 70.6 68.0 71.1 68.7 71.6 70.3 71.3 72.0 67.0 79.3 66.6 80.7 67.0 81.1 68.3 80.6 70.8 79.0 90.7 64.2 92.0 63.8 92.7 63.9 93.4 64.3 94.0 65.0 94.2 65.7 94.1 66.7 93.8 67.3 82.7 79.8 73.3 88.8 63.3 99.0 52.7 108.3 51.3 109.0 48.2 110.0 46.8 111.0 45.3 112.8 38.5 122.7 36.8 124.0 24.0 135.9Z" fill="url(#sp0)" fill-rule="evenodd" filter="url(#bs)"/>
<path d="M13.3 141.0 -6.0 141.3 -6.3 141.0 -6.2 125.7 -6.0 118.7 -0.3 114.8 2.7 113.1 16.7 105.9 21.7 103.5 22.3 103.5 32.3 97.5 36.5 95.3 47.9 85.0 67.0 68.2 68.3 68.1 69.7 68.7 70.3 69.7 70.4 71.0 70.2 71.7 62.3 84.6 61.4 86.7 61.4 87.3 61.7 87.5 62.7 87.3 64.0 86.4 68.3 83.0 83.3 72.0 86.7 70.0 87.7 69.6 88.0 69.7 87.7 70.7 86.6 72.3 81.6 78.3 72.1 87.7 62.3 97.6 51.7 106.8 50.3 107.6 47.7 108.3 46.3 109.1 44.7 111.1 37.3 121.4 21.0 135.5 16.3 139.2Z" fill="url(#sp1)" fill-rule="evenodd" filter="url(#bs)"/>
<path d="M-6.0 141.2 -6.2 141.0 -6.2 128.3 -6.0 121.3 1.0 116.4 6.3 113.2 18.0 106.8 22.7 104.4 23.3 104.3 32.0 99.1 37.3 96.3 48.7 85.9 65.0 71.4 67.3 69.5 68.0 69.3 68.7 69.5 69.2 70.3 69.1 71.0 57.7 89.6 56.2 92.7 56.2 93.7 56.3 94.3 57.0 94.4 58.1 94.0 61.3 91.9 69.0 86.0 69.7 85.6 70.0 85.7 68.8 87.3 61.0 95.9 55.3 100.6 50.6 105.3 49.3 106.1 47.0 106.9 45.7 107.9 44.3 109.5 36.3 120.6 26.0 129.2 18.3 135.2 14.9 137.7 9.3 141.0Z" fill="url(#sp2)" fill-rule="evenodd" filter="url(#bs)"/>
<path d="M-6.0 141.2 -6.2 141.0 -6.0 123.8 2.3 117.9 9.7 113.2 23.0 105.6 23.8 105.3 32.3 100.2 38.3 97.0 49.6 86.7 56.0 81.1 62.0 76.2 63.3 75.3 64.0 75.3 64.1 75.7 63.8 76.7 62.4 79.3 55.0 91.0 53.7 93.3 49.1 103.3 48.1 104.3 46.0 105.7 44.7 107.1 39.9 114.0 35.7 119.6 26.7 126.8 17.7 133.4 13.7 136.1 5.3 141.0Z" fill="#fa2e10" fill-rule="evenodd" filter="url(#bl)"/>
<path d="M-6.0 141.2 -6.2 141.0 -6.0 123.8 2.3 117.9 9.7 113.2 23.0 105.6 23.8 105.3 32.3 100.2 38.3 97.0 49.6 86.7 56.0 81.1 62.0 76.2 63.3 75.3 64.0 75.3 64.1 75.7 63.8 76.7 62.4 79.3 55.0 91.0 53.7 93.3 49.1 103.3 48.1 104.3 46.0 105.7 44.7 107.1 39.9 114.0 35.7 119.6 26.7 126.8 17.7 133.4 13.7 136.1 5.3 141.0Z" fill="url(#ws)" fill-rule="evenodd" filter="url(#bs)"/>
</g>
<g clip-path="url(#clE)"><g filter="url(#bl)">
<path d="M3.0 141.0 -6.0 141.1 -6.1 141.0 -6.0 125.1 4.7 117.5 12.0 112.8 23.7 105.9 24.3 105.7 31.7 101.2 36.0 98.8 38.7 97.6 50.3 87.0 54.0 83.9 58.3 80.6 59.3 80.1 60.0 80.0 60.0 80.7 59.3 82.3 53.0 92.7 47.8 102.7 44.7 106.0 39.5 113.7 35.3 119.2 27.7 125.1 17.7 132.3 13.0 135.3Z" fill="#ff4808" fill-rule="evenodd"/>
<path d="M-6.0 139.1 -6.0 131.9 5.0 122.9 10.5 118.0 24.7 107.4 30.3 103.8 34.3 101.9 37.7 100.7 39.3 100.3 41.3 100.1 42.3 99.9 43.0 100.1 43.1 101.0 42.6 104.0 40.6 108.7 37.5 113.7 35.2 116.7 33.7 118.3 27.7 122.5 17.3 128.1 0.7 136.3 -4.7 138.7Z" fill="#ff7a00" fill-rule="evenodd"/>
<path d="M16.0 124.7 14.0 124.8 12.7 124.3 12.4 124.0 12.2 123.3 12.6 122.0 13.8 120.0 15.7 117.7 19.4 113.7 22.8 110.3 25.3 108.2 27.7 106.6 30.0 105.1 32.7 103.8 35.0 103.0 37.0 102.7 38.7 102.8 39.6 103.3 40.0 104.1 40.1 105.3 39.8 107.0 39.1 109.0 36.8 113.0 33.3 117.3 29.3 120.2 25.0 122.4 21.0 123.8Z" fill="#ffa800" fill-rule="evenodd"/>
<path d="M24.3 121.1 22.7 121.3 21.0 121.1 19.8 120.3 19.3 119.3 19.3 118.0 19.9 116.3 20.8 114.7 22.3 112.7 24.1 110.7 26.0 108.9 28.3 107.3 30.7 105.9 32.7 105.1 34.7 104.6 36.3 104.6 37.3 105.1 37.8 105.7 38.1 106.3 38.1 107.3 37.9 108.7 36.5 111.7 34.4 114.7 32.7 116.6 30.0 118.5 27.0 120.2Z" fill="#ffd400" fill-rule="evenodd"/>
<path d="M26.0 119.0 24.7 119.2 23.4 119.0 22.7 118.5 22.2 117.7 22.1 116.7 22.5 115.3 23.1 114.0 24.2 112.3 26.8 109.7 30.3 107.4 32.0 106.7 33.3 106.4 34.3 106.4 35.3 106.8 36.0 107.7 36.0 109.3 35.3 111.3 33.8 113.7 32.1 115.7 30.3 117.0 28.0 118.3Z" fill="#bce400" fill-rule="evenodd"/>
<path d="M27.0 117.3 26.0 117.5 25.1 117.3 24.6 117.0 24.2 116.3 24.4 114.7 25.4 112.7 27.3 110.6 29.7 109.0 32.0 108.1 33.0 108.1 33.7 108.3 34.2 109.0 34.3 110.3 33.8 111.7 32.8 113.3 31.6 114.7 30.3 115.7 28.7 116.7Z" fill="#2cc020" fill-rule="evenodd"/>
<path d="M28.7 115.1 27.7 115.3 26.7 115.0 26.6 114.0 27.0 113.0 28.1 111.7 29.3 110.7 30.7 110.2 31.7 110.3 32.0 110.7 32.1 111.3 31.5 112.7 30.3 114.1Z" fill="#0a8c6c" fill-rule="evenodd"/>
</g></g>
<path d="M100.0 63.0h1.2v1.2h-1.2zM107.0 61.5h1.2v1.2h-1.2z" fill="#f05050" filter="url(#bs)"/>
</g>
<rect x="0.5" y="0.2" width="135" height="135.2" fill="none" stroke="#cacaca" stroke-width="1.15"/>
<path d="M0.50 135.50v2 M-2 135.50h2 M34.25 135.50v2 M-2 101.75h2 M68.00 135.50v2 M-2 68.00h2 M101.75 135.50v2 M-2 34.25h2 M135.50 135.50v2 M-2 0.50h2 " stroke="#999" stroke-width="0.6" fill="none"/>
<text x="0.50" y="141.60" font-size="4.5" fill="#3c3c3c" text-anchor="middle">0</text>
<text x="-2.20" y="137.00" font-size="4.5" fill="#3c3c3c" text-anchor="end">0</text>
<text x="34.25" y="141.60" font-size="4.5" fill="#3c3c3c" text-anchor="middle">64</text>
<text x="-2.20" y="103.25" font-size="4.5" fill="#3c3c3c" text-anchor="end">64</text>
<text x="68.00" y="141.60" font-size="4.5" fill="#3c3c3c" text-anchor="middle">128</text>
<text x="-2.20" y="69.50" font-size="4.5" fill="#3c3c3c" text-anchor="end">128</text>
<text x="101.75" y="141.60" font-size="4.5" fill="#3c3c3c" text-anchor="middle">192</text>
<text x="-2.20" y="35.75" font-size="4.5" fill="#3c3c3c" text-anchor="end">192</text>
<text x="135.50" y="141.60" font-size="4.5" fill="#3c3c3c" text-anchor="middle">256</text>
<text x="-2.20" y="2.00" font-size="4.5" fill="#3c3c3c" text-anchor="end">256</text>
<text x="68.00" y="145.90" font-size="4.5" fill="#3c3c3c" text-anchor="middle">FL 1 Lin</text>
<text transform="translate(-9.0 67.00) rotate(90)" font-size="4.5" fill="#3c3c3c" text-anchor="middle">FL 2 Lin</text>
</g>
<g transform="translate(188 356)">
<g clip-path="url(#clipP)">
<g filter="url(#bs)">
</g>
<g clip-path="url(#coF)">
<path d="M25.3 141.0 -6.0 141.2 -6.2 141.0 -6.2 138.3 -6.0 116.1 -2.6 115.0 -2.3 115.0 -2.1 115.3 -1.8 115.3 13.0 109.7 20.0 106.5 29.3 102.8 37.3 95.8 46.7 89.3 47.0 88.7 52.1 84.0 60.2 73.7 69.2 65.3 79.7 58.2 88.8 52.0 100.0 46.6 123.0 36.0 123.7 35.8 124.7 35.9 126.0 36.7 126.4 37.3 126.7 38.3 126.6 39.3 126.0 40.3 115.7 52.1 108.7 59.0 101.3 68.0 86.8 84.7 70.8 102.0 69.3 103.3 60.7 109.3 57.4 111.0 52.5 114.0 42.7 121.1 36.3 128.5 30.9 134.3Z" fill="url(#sp0)" fill-rule="evenodd" filter="url(#bs)"/>
<path d="M-6.0 141.1 -6.1 141.0 -6.1 138.3 -6.0 123.6 0.8 120.7 1.3 120.7 15.7 113.5 22.5 109.3 30.7 105.1 35.9 99.3 38.3 97.0 41.7 94.5 47.7 90.5 47.9 90.0 53.2 85.0 61.3 75.0 70.5 66.7 89.7 53.3 100.6 47.7 123.2 36.7 124.3 36.5 125.3 37.0 125.8 37.7 126.0 38.3 125.9 39.0 125.6 39.7 115.0 51.2 107.9 58.0 85.6 83.3 69.3 101.3 59.7 108.0 51.7 112.7 48.0 115.1 41.1 119.0 34.0 125.8 28.1 130.7 18.3 140.3 17.6 141.0Z" fill="url(#sp1)" fill-rule="evenodd" filter="url(#bs)"/>
<path d="M6.0 134.7 4.3 134.3 3.9 133.7 4.1 133.0 4.9 131.7 8.3 128.0 13.1 123.7 19.5 118.7 21.7 116.0 24.5 113.3 27.5 111.0 32.3 107.5 36.2 101.7 38.7 98.7 42.3 95.7 48.6 91.7 48.7 91.3 54.1 86.0 62.7 75.9 71.7 67.9 91.0 54.3 101.3 48.7 116.7 40.8 123.7 37.4 124.3 37.4 124.8 37.7 125.1 38.3 125.0 39.0 124.8 39.3 119.6 45.0 114.3 50.4 107.1 57.0 84.7 81.7 72.9 95.3 68.0 100.7 59.0 106.8 49.0 112.7 45.3 114.4 39.4 116.7 34.7 120.1 31.3 122.2 27.7 124.2 24.3 125.4 19.0 129.0 14.3 131.7 9.0 134.3Z" fill="url(#sp2)" fill-rule="evenodd" filter="url(#bs)"/>
<path d="M42.7 112.7 40.3 112.7 38.5 112.3 37.3 111.7 36.4 110.3 36.2 108.7 36.5 106.7 37.2 104.3 38.4 102.0 39.8 100.0 41.6 98.3 43.7 96.8 49.5 93.0 49.7 92.7 55.2 87.0 64.3 77.0 73.2 69.3 92.0 56.0 99.3 52.0 101.3 51.1 101.4 51.3 100.7 52.0 93.5 57.7 87.0 62.2 81.6 67.7 79.7 70.0 80.0 70.1 81.0 69.6 85.7 66.4 106.3 50.5 106.7 49.7 106.4 48.3 107.0 47.7 117.3 42.2 119.3 41.5 120.0 41.6 119.9 42.0 119.3 43.0 117.5 45.0 113.3 49.3 106.2 55.7 98.3 63.7 91.3 71.3 83.3 80.1 72.3 93.7 67.3 99.3 58.0 105.7 51.7 109.4 46.7 111.8 44.7 112.4Z" fill="#fa2e10" fill-rule="evenodd" filter="url(#bl)"/>
<path d="M42.7 112.7 40.3 112.7 38.5 112.3 37.3 111.7 36.4 110.3 36.2 108.7 36.5 106.7 37.2 104.3 38.4 102.0 39.8 100.0 41.6 98.3 43.7 96.8 49.5 93.0 49.7 92.7 55.2 87.0 64.3 77.0 73.2 69.3 92.0 56.0 99.3 52.0 101.3 51.1 101.4 51.3 100.7 52.0 93.5 57.7 87.0 62.2 81.6 67.7 79.7 70.0 80.0 70.1 81.0 69.6 85.7 66.4 106.3 50.5 106.7 49.7 106.4 48.3 107.0 47.7 117.3 42.2 119.3 41.5 120.0 41.6 119.9 42.0 119.3 43.0 117.5 45.0 113.3 49.3 106.2 55.7 98.3 63.7 91.3 71.3 83.3 80.1 72.3 93.7 67.3 99.3 58.0 105.7 51.7 109.4 46.7 111.8 44.7 112.4Z" fill="url(#ws)" fill-rule="evenodd" filter="url(#bs)"/>
</g>
<g clip-path="url(#clF)"><g filter="url(#bl)">
<path d="M45.0 111.4 42.3 111.5 40.3 111.0 38.8 110.0 38.1 108.7 37.9 106.7 38.5 104.0 39.6 101.7 41.3 99.6 44.0 97.4 49.8 93.7 64.7 77.8 73.9 70.0 80.3 65.6 82.0 64.6 83.0 64.3 83.0 64.7 82.0 66.0 77.1 71.3 77.1 71.7 77.3 72.2 77.7 72.4 78.3 72.3 106.7 50.9 107.2 50.3 107.4 49.0 107.8 48.3 113.1 45.7 114.3 45.2 115.0 45.3 114.5 46.3 112.9 48.3 105.7 54.9 97.7 63.0 83.0 79.1 71.8 93.3 67.0 98.8 58.0 105.1 52.7 108.2 48.0 110.5Z" fill="#ff4808" fill-rule="evenodd"/>
<path d="M46.3 107.9 45.0 107.8 44.0 107.3 43.0 106.4 42.6 105.3 42.6 104.0 43.1 102.7 43.8 101.7 49.7 96.5 54.4 91.0 58.0 87.2 61.3 84.2 64.7 81.5 69.3 78.2 74.7 75.3 76.3 74.9 78.3 75.4 78.6 75.7 78.7 76.3 78.2 78.3 76.8 82.0 75.1 85.3 71.5 91.0 66.3 97.2 62.3 100.5 57.0 104.0 52.0 106.5 50.0 107.2Z" fill="#ff7a00" fill-rule="evenodd"/>
<path d="M49.7 105.7 48.0 105.4 47.0 104.7 46.7 103.7 47.0 102.3 48.2 100.3 52.2 95.0 56.4 90.0 59.0 87.4 61.7 85.1 64.3 83.1 67.0 81.5 69.0 80.5 71.3 79.7 73.0 79.6 74.0 80.0 74.6 81.0 74.6 82.3 74.2 84.3 73.2 86.7 71.9 89.0 70.1 91.7 65.8 96.7 61.7 100.1 56.7 103.3 52.7 105.1Z" fill="#ffa800" fill-rule="evenodd"/>
<path d="M53.0 103.7 51.3 103.8 50.3 103.5 49.8 102.7 49.8 101.3 50.5 99.3 51.8 97.0 53.9 94.0 55.8 91.7 58.0 89.3 60.3 87.2 65.0 83.8 67.3 82.6 69.3 81.9 71.0 81.8 72.0 82.1 72.6 83.0 72.7 84.0 72.5 85.3 71.9 87.0 69.9 90.7 66.7 94.7 64.3 97.1 60.0 100.4 56.3 102.6Z" fill="#ffd400" fill-rule="evenodd"/>
<path d="M54.7 102.0 53.3 102.1 52.3 101.8 51.9 101.0 51.9 99.7 52.5 98.0 53.5 96.0 56.5 92.0 60.3 88.2 64.7 85.1 66.3 84.3 68.0 83.7 69.3 83.6 70.4 84.0 70.8 84.7 70.9 85.7 70.3 88.0 68.6 91.0 66.0 94.3 63.7 96.7 60.0 99.5 57.0 101.2Z" fill="#bce400" fill-rule="evenodd"/>
<path d="M55.7 100.7 54.3 100.7 53.7 100.3 53.4 99.7 53.4 98.7 53.8 97.3 54.6 95.7 57.0 92.3 60.3 89.0 64.0 86.4 65.7 85.6 67.0 85.1 68.0 85.0 69.0 85.3 69.4 86.0 69.5 86.7 69.0 88.7 67.6 91.3 65.5 94.0 63.3 96.2 60.3 98.5 58.0 99.9Z" fill="#2cc020" fill-rule="evenodd"/>
<path d="M56.3 99.3 55.7 99.3 55.0 98.8 54.8 98.0 54.9 97.3 56.0 95.0 58.2 92.0 60.7 89.6 63.7 87.5 66.0 86.6 67.0 86.5 67.7 86.8 68.0 87.3 68.0 88.0 67.6 89.7 66.4 91.7 64.6 94.0 62.7 95.9 60.3 97.7 58.0 98.9Z" fill="#0a8c6c" fill-rule="evenodd"/>
<path d="M57.7 97.5 57.1 97.3 56.8 97.0 56.8 96.3 57.4 94.7 59.0 92.4 61.0 90.5 63.0 89.1 64.7 88.4 65.3 88.4 65.9 88.7 66.1 89.3 65.8 90.7 64.0 93.4 62.7 94.8 61.1 96.0 59.7 96.9Z" fill="#1c1cb4" fill-rule="evenodd"/>
</g></g>
<path d="M125.7 34.8h1.2v1.2h-1.2zM60.0 70.0h1.2v1.2h-1.2zM66.0 64.0h1.2v1.2h-1.2z" fill="#f05050" filter="url(#bs)"/>
</g>
<rect x="0.5" y="0.2" width="135" height="135.2" fill="none" stroke="#cacaca" stroke-width="1.15"/>
<path d="M0.50 135.50v2 M-2 135.50h2 M34.25 135.50v2 M-2 101.75h2 M68.00 135.50v2 M-2 68.00h2 M101.75 135.50v2 M-2 34.25h2 M135.50 135.50v2 M-2 0.50h2 " stroke="#999" stroke-width="0.6" fill="none"/>
<text x="-0.10" y="141.20" font-size="4.5" fill="#3c3c3c" text-anchor="middle">10<tspan dy="-1.4" font-size="3.1">0</tspan></text>
<text x="-2.20" y="138.00" font-size="4.5" fill="#3c3c3c" text-anchor="end">10<tspan dy="-1.3" font-size="3">0</tspan></text>
<text x="33.65" y="141.20" font-size="4.5" fill="#3c3c3c" text-anchor="middle">10<tspan dy="-1.4" font-size="3.1">1</tspan></text>
<text x="-2.20" y="104.25" font-size="4.5" fill="#3c3c3c" text-anchor="end">10<tspan dy="-1.3" font-size="3">1</tspan></text>
<text x="67.40" y="141.20" font-size="4.5" fill="#3c3c3c" text-anchor="middle">10<tspan dy="-1.4" font-size="3.1">2</tspan></text>
<text x="-2.20" y="70.50" font-size="4.5" fill="#3c3c3c" text-anchor="end">10<tspan dy="-1.3" font-size="3">2</tspan></text>
<text x="101.15" y="141.20" font-size="4.5" fill="#3c3c3c" text-anchor="middle">10<tspan dy="-1.4" font-size="3.1">3</tspan></text>
<text x="-2.20" y="36.75" font-size="4.5" fill="#3c3c3c" text-anchor="end">10<tspan dy="-1.3" font-size="3">3</tspan></text>
<text x="134.90" y="141.20" font-size="4.5" fill="#3c3c3c" text-anchor="middle">10<tspan dy="-1.4" font-size="3.1">4</tspan></text>
<text x="-2.20" y="3.00" font-size="4.5" fill="#3c3c3c" text-anchor="end">10<tspan dy="-1.3" font-size="3">4</tspan></text>
<text x="68.00" y="145.90" font-size="4.5" fill="#3c3c3c" text-anchor="middle">FL 1 Log</text>
<text transform="translate(-9.0 67.00) rotate(90)" font-size="4.5" fill="#3c3c3c" text-anchor="middle">FL 2 Log</text>
</g>
<g transform="translate(376 43)">
<g clip-path="url(#clipP)">
<g filter="url(#bs)">
<path d="M-8.0 98.5C-8.0 105.1 -8.8 131.4 -3.0 138.0C2.8 144.6 21.1 140.1 26.7 138.0C32.2 135.9 28.8 128.8 30.3 125.2C31.8 121.6 34.1 119.3 35.6 116.3C37.1 113.3 37.7 110.4 39.2 107.4C40.7 104.4 42.5 101.5 44.6 98.5C46.7 95.5 49.6 92.6 51.7 89.6C53.8 86.6 54.9 83.6 57.0 80.6C59.1 77.6 61.8 74.7 64.2 71.7C66.6 68.7 68.9 65.5 71.3 62.8C73.7 60.1 76.3 58.2 78.4 55.7C80.5 53.2 82.3 49.8 83.8 47.7C85.3 45.6 86.4 44.5 87.3 43.2C88.2 42.0 89.7 40.2 89.1 40.2C88.5 40.2 85.9 41.7 83.8 43.2C81.7 44.8 79.0 47.4 76.6 49.5C74.2 51.6 71.9 53.6 69.5 55.7C67.1 57.8 64.8 59.8 62.4 61.9C60.0 64.0 57.6 66.1 55.2 68.2C52.8 70.3 50.5 72.6 48.1 74.4C45.7 76.2 43.4 77.4 41.0 78.9C38.6 80.4 36.3 82.0 33.9 83.3C31.5 84.6 29.1 85.9 26.7 86.9C24.3 88.0 22.0 88.6 19.6 89.6C17.2 90.6 14.9 91.9 12.5 93.1C10.1 94.3 7.9 95.8 5.3 96.7C2.7 97.6 -0.8 98.2 -3.0 98.5C-5.2 98.8 -8.0 91.9 -8.0 98.5Z" fill="url(#sp0)"/>
<path d="M-7.1 99.3C-7.0 105.6 -7.8 130.9 -2.3 137.2C3.2 143.5 20.8 139.2 26.1 137.2C31.4 135.2 28.9 127.0 29.5 125.0C30.1 123.0 29.6 124.9 29.6 124.9C29.6 124.9 29.6 124.9 29.6 124.9C29.6 124.9 28.7 126.3 29.6 124.8C30.5 123.3 33.4 118.9 34.9 115.9C36.4 113.0 37.9 108.6 38.5 107.1C39.1 105.6 38.5 107.0 38.5 107.0C38.5 107.0 37.6 108.5 38.5 107.0C39.4 105.5 43.0 99.6 43.9 98.1C44.8 96.6 42.8 99.5 44.0 98.0C45.2 96.5 49.0 92.1 51.0 89.1C53.0 86.1 55.4 81.7 56.3 80.2C57.2 78.7 56.3 80.1 56.3 80.1C56.3 80.1 55.2 81.6 56.4 80.1C57.6 78.6 61.2 74.2 63.6 71.2C66.0 68.2 69.5 63.8 70.7 62.3C71.9 60.8 69.5 63.4 70.7 62.2C71.9 61.0 75.7 57.7 77.8 55.2C79.9 52.7 82.2 48.6 83.1 47.3C84.0 46.0 82.6 48.0 83.2 47.2C83.8 46.4 86.0 43.5 86.6 42.7C87.2 41.9 87.3 42.2 86.9 42.4C86.5 42.6 85.9 42.6 84.3 43.9C82.7 45.2 79.5 48.0 77.1 50.1C74.7 52.2 72.4 54.2 70.0 56.3C67.6 58.4 65.3 60.4 62.9 62.5C60.5 64.6 58.1 66.7 55.7 68.8C53.3 70.9 49.8 74.0 48.6 75.0C47.4 76.0 48.6 75.0 48.6 75.0C48.6 75.0 49.7 74.3 48.5 75.1C47.3 75.9 42.6 78.8 41.4 79.6C40.2 80.3 42.6 78.9 41.4 79.6C40.2 80.3 35.5 83.3 34.3 84.0C33.1 84.7 35.5 83.4 34.3 84.0C33.1 84.6 28.3 87.0 27.1 87.6C25.9 88.2 28.2 87.1 27.0 87.6C25.8 88.0 22.2 89.3 19.9 90.3C17.5 91.3 15.3 92.6 12.9 93.8C10.5 95.0 6.9 96.8 5.7 97.4C4.5 98.0 5.6 97.4 5.6 97.4C5.6 97.4 5.5 97.5 5.5 97.5C5.5 97.5 6.9 97.2 5.5 97.5C4.1 97.8 -1.4 99.0 -2.8 99.3C-4.2 99.6 -2.9 99.3 -2.9 99.3C-2.9 99.3 -2.3 99.3 -3.0 99.3C-3.7 99.3 -7.2 93.0 -7.1 99.3Z" fill="url(#sp1)"/>
</g>
<g clip-path="url(#coG)">
<path d="M11.7 141.0 -2.0 141.3 -6.0 141.3 -6.3 141.0 -6.3 109.7 -6.0 101.3 -2.0 99.8 4.0 98.6 5.7 98.0 7.6 97.0 8.2 97.0 32.3 79.2 72.0 51.3 87.0 40.4 88.0 40.1 89.0 40.4 89.6 41.0 89.9 41.7 89.9 42.3 89.6 43.0 78.4 58.3 65.4 74.3 50.0 96.4 32.9 122.0 20.5 135.0Z" fill="url(#sp2)" fill-rule="evenodd" filter="url(#bs)"/>
<path d="M8.3 141.0 -2.3 141.2 -6.0 141.2 -6.2 141.0 -6.3 111.7 -6.0 102.7 -4.7 102.0 -2.0 101.1 5.3 100.1 7.0 99.5 9.0 98.3 9.4 98.3 33.3 80.0 72.3 51.9 82.7 44.2 87.3 41.0 88.0 40.8 88.7 41.0 89.2 41.7 89.2 42.3 86.5 46.3 78.0 57.8 64.9 73.7 49.0 95.7 31.4 121.0 19.0 133.5 13.0 137.5Z" fill="#fa2e10" fill-rule="evenodd" filter="url(#bl)"/>
<path d="M8.3 141.0 -2.3 141.2 -6.0 141.2 -6.2 141.0 -6.3 111.7 -6.0 102.7 -4.7 102.0 -2.0 101.1 5.3 100.1 7.0 99.5 9.0 98.3 9.4 98.3 33.3 80.0 72.3 51.9 82.7 44.2 87.3 41.0 88.0 40.8 88.7 41.0 89.2 41.7 89.2 42.3 86.5 46.3 78.0 57.8 64.9 73.7 49.0 95.7 31.4 121.0 19.0 133.5 13.0 137.5Z" fill="url(#ws)" fill-rule="evenodd" filter="url(#bs)"/>
</g>
<g clip-path="url(#clG)"><g filter="url(#bl)">
<path d="M5.7 141.0 -2.0 141.2 -6.0 141.1 -6.1 141.0 -6.3 114.7 -6.0 104.0 -4.1 103.0 -1.3 102.3 4.7 102.0 6.3 101.7 8.0 101.1 10.3 99.7 10.7 99.7 34.0 80.9 39.0 77.2 81.3 46.1 85.0 43.6 86.3 42.9 87.0 42.8 87.2 43.0 87.2 43.3 86.6 44.7 82.2 51.0 77.4 57.3 64.3 73.1 48.2 94.7 30.1 119.7 17.7 131.8 12.6 135.3Z" fill="#ff4808" fill-rule="evenodd"/>
<path d="M-1.0 141.0 -3.5 141.0 -6.0 140.4 -6.2 134.0 -6.3 122.3 -6.2 111.3 -6.0 106.3 -3.7 105.0 -1.3 104.4 1.3 104.3 5.7 105.1 7.3 105.2 9.0 104.8 11.0 103.7 14.0 101.6 33.0 84.2 40.0 78.5 70.7 56.0 77.0 51.7 78.3 51.0 79.0 50.9 79.0 51.7 78.1 53.3 76.3 56.0 73.5 59.7 64.0 71.0 54.8 83.3 43.7 96.7 27.6 117.0 12.0 131.2 7.7 136.0 5.7 137.9 4.0 139.2 2.3 140.1 0.3 140.8Z" fill="#ff7a00" fill-rule="evenodd"/>
<path d="M-1.0 139.4 -3.7 139.2 -6.0 138.3 -6.3 122.3 -6.2 112.7 -6.0 107.7 -4.7 106.8 -3.3 106.2 -0.7 105.6 2.3 105.9 8.3 107.8 10.0 107.7 12.0 106.8 16.0 103.5 19.7 99.8 29.8 88.7 34.0 84.6 38.3 80.8 44.0 76.5 54.2 69.7 65.3 61.7 71.3 57.1 72.3 57.0 73.0 57.3 73.4 58.3 73.1 59.3 66.3 66.3 63.7 69.3 61.3 72.5 56.5 79.7 52.9 84.3 48.3 89.5 37.5 101.0 25.4 115.0 16.9 122.3 14.7 124.4 11.3 128.6 7.8 133.7 5.3 136.3 4.0 137.4 2.3 138.4 0.7 139.0Z" fill="#ffa800" fill-rule="evenodd"/>
<path d="M18.0 112.7 17.0 112.8 16.7 112.7 16.8 111.7 19.7 106.7 23.5 98.7 25.1 96.0 27.6 92.7 32.7 87.0 36.7 83.2 42.3 78.7 47.7 75.2 56.0 70.3 71.3 57.6 72.0 57.4 72.8 57.7 73.1 58.3 73.0 59.0 62.6 69.3 59.6 72.7 58.4 74.3 55.9 78.7 53.6 82.0 50.6 85.7 46.7 89.9 43.0 93.5 38.7 97.2 27.4 106.0 21.1 111.3ZM-1.0 137.7 -2.3 137.7 -3.7 137.4 -6.0 136.3 -6.2 127.7 -6.2 113.7 -6.0 109.3 -4.7 108.3 -3.3 107.6 -2.0 107.2 -0.3 107.0 2.3 107.5 4.8 108.7 10.3 112.7 13.1 114.3 13.5 114.7 13.6 115.3 10.9 124.7 8.9 129.0 7.2 132.0 5.3 134.4 3.3 136.1 1.3 137.2Z" fill="#ffd400" fill-rule="evenodd"/>
<path d="M28.7 100.7 27.7 100.7 27.0 100.5 26.3 99.7 26.3 98.3 26.9 96.3 28.1 94.0 29.8 91.7 32.3 88.7 34.9 86.0 38.7 82.6 43.7 78.8 47.0 76.8 51.8 74.3 53.4 73.3 71.3 57.9 72.0 57.6 72.7 58.0 72.8 58.3 72.7 59.0 61.1 70.3 56.7 75.0 55.4 76.7 53.4 80.3 51.6 83.0 48.9 86.3 45.7 89.6 41.0 93.8 36.3 97.2 32.0 99.6 30.0 100.4ZM0.0 135.7 -1.3 135.8 -3.0 135.6 -4.7 134.9 -6.0 133.9 -6.2 130.0 -6.2 118.7 -6.0 111.3 -5.0 110.3 -3.7 109.5 -2.3 109.0 -0.7 108.7 1.3 109.0 3.0 109.7 4.7 110.9 6.1 112.3 7.3 114.0 8.2 116.0 8.8 118.0 9.1 120.3 8.9 122.7 8.4 125.3 7.5 128.0 6.2 130.7 4.8 132.7 3.3 134.1 1.7 135.1Z" fill="#bce400" fill-rule="evenodd"/>
<path d="M32.0 98.0 30.3 98.3 29.2 98.0 28.8 97.7 28.6 97.0 28.8 95.7 29.6 93.7 31.1 91.3 33.3 88.7 35.5 86.3 39.0 83.2 43.0 80.2 46.3 78.1 50.0 76.3 52.0 75.0 71.6 58.0 72.0 57.9 72.4 58.0 72.6 58.3 72.4 59.0 59.7 71.3 55.0 76.3 53.4 78.3 50.1 83.7 48.2 86.0 45.7 88.6 42.3 91.7 38.7 94.5 35.0 96.8ZM0.0 134.0 -1.7 134.1 -3.7 133.6 -5.7 132.0 -6.0 131.7 -6.0 131.0 -6.2 121.7 -6.0 113.2 -4.9 112.0 -3.7 111.1 -2.3 110.5 -1.0 110.2 0.7 110.4 2.0 110.9 3.6 112.0 4.9 113.3 6.0 115.0 6.7 116.7 7.2 118.7 7.5 120.7 7.4 122.7 7.1 125.0 6.4 127.3 5.5 129.3 4.3 131.1 3.0 132.5 1.7 133.4Z" fill="#2cc020" fill-rule="evenodd"/>
<path d="M33.7 96.1 32.0 96.3 31.1 96.0 30.7 95.3 30.9 94.0 31.6 92.3 32.9 90.3 36.5 86.3 39.3 83.8 42.3 81.5 45.0 79.8 49.0 77.7 51.3 76.0 71.6 58.3 72.0 58.2 72.3 58.3 72.3 58.7 72.0 59.0 59.3 71.3 54.5 76.3 51.7 79.7 48.0 85.0 44.7 88.6 41.7 91.3 38.7 93.5 36.0 95.1ZM0.0 132.3 -1.7 132.4 -3.3 131.9 -4.7 130.9 -6.0 129.3 -6.0 115.4 -5.0 114.0 -3.7 112.8 -2.3 112.1 -1.0 111.8 0.3 112.0 1.7 112.5 2.7 113.2 3.8 114.3 4.7 115.7 5.4 117.3 5.9 119.0 6.1 121.0 5.8 124.7 5.3 126.7 4.5 128.3 3.7 129.7 2.5 131.0 1.3 131.8Z" fill="#0a8c6c" fill-rule="evenodd"/>
<path d="M35.0 94.0 34.0 94.1 33.3 93.8 33.1 93.3 33.2 92.3 34.7 89.7 37.7 86.3 40.0 84.3 42.3 82.6 44.7 81.2 47.0 80.2 48.0 79.1 53.0 75.1 59.8 69.0 65.3 64.3 65.5 64.7 55.3 74.9 49.7 81.3 48.6 82.0 46.8 85.0 44.1 88.0 41.7 90.2 39.3 91.9 37.0 93.3ZM-0.7 130.4 -2.3 130.1 -4.0 129.0 -5.2 127.3 -6.0 125.2 -6.0 119.3 -5.4 117.7 -4.7 116.2 -3.6 115.0 -2.3 114.2 -1.0 113.9 0.0 113.9 1.0 114.3 2.0 115.0 2.9 116.0 3.6 117.3 4.2 118.7 4.6 121.7 4.2 125.0 3.1 127.7 2.3 128.7 1.3 129.6 0.3 130.1Z" fill="#2414a4" fill-rule="evenodd"/>
</g></g>
<path d="M123.0 2.1h1.2v1.2h-1.2zM91.0 39.5h1.2v1.2h-1.2z" fill="#f05050" filter="url(#bs)"/>
</g>
<rect x="0.5" y="0.2" width="135" height="135.2" fill="none" stroke="#cacaca" stroke-width="1.15"/>
<path d="M0.50 135.50v2 M-2 135.50h2 M34.25 135.50v2 M-2 101.75h2 M68.00 135.50v2 M-2 68.00h2 M101.75 135.50v2 M-2 34.25h2 M135.50 135.50v2 M-2 0.50h2 " stroke="#999" stroke-width="0.6" fill="none"/>
<text x="-0.10" y="141.20" font-size="4.5" fill="#3c3c3c" text-anchor="middle">10<tspan dy="-1.4" font-size="3.1">0</tspan></text>
<text x="-2.20" y="138.00" font-size="4.5" fill="#3c3c3c" text-anchor="end">10<tspan dy="-1.3" font-size="3">0</tspan></text>
<text x="33.65" y="141.20" font-size="4.5" fill="#3c3c3c" text-anchor="middle">10<tspan dy="-1.4" font-size="3.1">1</tspan></text>
<text x="-2.20" y="104.25" font-size="4.5" fill="#3c3c3c" text-anchor="end">10<tspan dy="-1.3" font-size="3">1</tspan></text>
<text x="67.40" y="141.20" font-size="4.5" fill="#3c3c3c" text-anchor="middle">10<tspan dy="-1.4" font-size="3.1">2</tspan></text>
<text x="-2.20" y="70.50" font-size="4.5" fill="#3c3c3c" text-anchor="end">10<tspan dy="-1.3" font-size="3">2</tspan></text>
<text x="101.15" y="141.20" font-size="4.5" fill="#3c3c3c" text-anchor="middle">10<tspan dy="-1.4" font-size="3.1">3</tspan></text>
<text x="-2.20" y="36.75" font-size="4.5" fill="#3c3c3c" text-anchor="end">10<tspan dy="-1.3" font-size="3">3</tspan></text>
<text x="134.90" y="141.20" font-size="4.5" fill="#3c3c3c" text-anchor="middle">10<tspan dy="-1.4" font-size="3.1">4</tspan></text>
<text x="-2.20" y="3.00" font-size="4.5" fill="#3c3c3c" text-anchor="end">10<tspan dy="-1.3" font-size="3">4</tspan></text>
<text x="68.00" y="145.90" font-size="4.5" fill="#3c3c3c" text-anchor="middle">FL 1 Log</text>
<text transform="translate(-9.0 67.00) rotate(90)" font-size="4.5" fill="#3c3c3c" text-anchor="middle">FL 2 Log</text>
</g>
<g transform="translate(544 43)">
<g clip-path="url(#clipP)">
<g filter="url(#bs)">
<path d="M-8.0 98.5C-8.0 105.1 -8.8 131.4 -3.0 138.0C2.8 144.6 20.8 140.4 26.7 138.0C32.5 135.6 30.6 127.3 32.1 123.4C33.6 119.5 34.1 117.5 35.6 114.5C37.1 111.5 39.2 108.6 41.0 105.6C42.8 102.6 44.5 99.7 46.3 96.7C48.1 93.7 49.9 90.8 51.7 87.8C53.5 84.8 54.9 81.9 57.0 78.9C59.1 75.9 61.8 72.7 64.2 70.0C66.6 67.3 68.9 65.2 71.3 62.8C73.7 60.4 76.3 58.1 78.4 55.7C80.5 53.3 82.5 50.2 83.8 48.6C85.1 47.0 86.1 46.6 86.4 45.9C86.7 45.1 86.8 43.5 85.5 44.1C84.2 44.7 80.8 47.6 78.4 49.5C76.0 51.4 73.7 53.8 71.3 55.7C68.9 57.6 66.6 59.1 64.2 61.0C61.8 62.9 59.4 65.2 57.0 67.3C54.6 69.4 52.3 71.7 49.9 73.5C47.5 75.3 45.2 76.5 42.8 78.0C40.4 79.5 38.0 80.9 35.6 82.4C33.2 83.9 30.9 85.7 28.5 86.9C26.1 88.1 23.8 88.7 21.4 89.6C19.0 90.5 16.7 91.3 14.3 92.2C11.9 93.1 10.0 93.9 7.1 94.9C4.2 96.0 -0.5 97.9 -3.0 98.5C-5.5 99.1 -8.0 91.9 -8.0 98.5Z" fill="url(#sp0)"/>
<path d="M-7.1 99.3C-7.0 105.6 -7.8 130.9 -2.3 137.2C3.2 143.5 20.5 139.5 26.1 137.2C31.7 134.8 30.4 125.4 31.3 123.1C32.2 120.8 30.8 124.6 31.4 123.1C32.0 121.6 34.3 115.7 34.9 114.2C35.5 112.7 34.9 114.1 34.9 114.1C34.9 114.1 34.0 115.6 34.9 114.1C35.8 112.6 38.5 108.2 40.3 105.2C42.1 102.2 44.7 97.8 45.6 96.3C46.5 94.8 44.7 97.8 45.6 96.3C46.5 94.8 49.2 90.4 51.0 87.4C52.8 84.4 55.4 80.0 56.3 78.5C57.2 77.0 55.2 79.9 56.4 78.4C57.6 76.9 62.4 71.0 63.6 69.5C64.8 68.0 62.4 70.6 63.6 69.4C64.8 68.2 69.5 63.4 70.7 62.2C71.9 61.0 69.5 63.4 70.7 62.2C71.9 61.0 75.7 57.6 77.8 55.2C79.9 52.9 82.3 49.3 83.2 48.1C84.1 46.9 82.8 48.4 83.2 48.0C83.6 47.6 85.1 46.2 85.4 45.8C85.7 45.3 86.3 44.6 85.2 45.3C84.1 46.0 81.1 48.3 78.9 50.1C76.7 51.9 73.0 55.3 71.8 56.3C70.6 57.3 73.0 55.4 71.8 56.3C70.6 57.2 67.1 59.7 64.7 61.6C62.3 63.5 59.9 65.8 57.5 67.9C55.1 70.0 51.6 73.1 50.4 74.1C49.2 75.1 50.4 74.1 50.4 74.1C50.4 74.1 51.5 73.4 50.3 74.2C49.1 75.0 44.4 78.0 43.2 78.7C42.0 79.5 44.4 78.0 43.2 78.7C42.0 79.4 38.4 81.6 36.0 83.1C33.6 84.6 30.1 86.8 28.9 87.6C27.7 88.3 28.9 87.6 28.9 87.6C28.9 87.6 30.0 87.1 28.8 87.6C27.6 88.0 22.9 89.8 21.7 90.3C20.5 90.8 22.9 90.0 21.7 90.4C20.5 90.9 17.0 92.1 14.6 93.0C12.2 93.9 8.6 95.1 7.4 95.6C6.2 96.0 9.1 95.1 7.4 95.7C5.7 96.3 -1.0 98.7 -2.7 99.3C-4.4 99.9 -2.8 99.3 -2.8 99.3C-2.8 99.3 -2.9 99.3 -2.9 99.3C-2.9 99.3 -2.3 99.3 -3.0 99.3C-3.7 99.3 -7.2 93.0 -7.1 99.3Z" fill="url(#sp1)"/>
</g>
<g clip-path="url(#coH)">
<path d="M9.7 141.0 -5.0 141.2 -6.0 141.2 -6.2 141.0 -6.3 115.3 -6.0 105.3 -3.7 103.9 -3.0 103.8 2.5 101.3 8.4 97.7 9.0 97.5 33.9 79.3 55.0 63.6 81.0 45.2 85.3 42.2 86.3 42.1 87.3 42.6 87.9 43.7 87.9 44.3 87.6 45.0 78.3 58.2 65.3 74.0 59.5 83.0 50.8 96.0 32.0 121.7 19.9 134.3 18.3 135.5Z" fill="url(#sp2)" fill-rule="evenodd" filter="url(#bs)"/>
<path d="M5.0 141.0 -4.7 141.1 -6.0 141.1 -6.1 141.0 -6.3 118.3 -6.0 107.4 -4.3 106.1 -2.7 105.1 2.0 103.7 3.7 103.0 10.2 99.0 55.7 64.2 83.0 44.6 85.7 42.8 86.7 43.0 87.2 43.7 87.0 44.7 77.8 57.7 64.7 73.5 57.5 84.3 49.7 95.3 30.6 120.3 18.3 132.7 16.7 133.9Z" fill="#fa2e10" fill-rule="evenodd" filter="url(#bl)"/>
<path d="M5.0 141.0 -4.7 141.1 -6.0 141.1 -6.1 141.0 -6.3 118.3 -6.0 107.4 -4.3 106.1 -2.7 105.1 2.0 103.7 3.7 103.0 10.2 99.0 55.7 64.2 83.0 44.6 85.7 42.8 86.7 43.0 87.2 43.7 87.0 44.7 77.8 57.7 64.7 73.5 57.5 84.3 49.7 95.3 30.6 120.3 18.3 132.7 16.7 133.9Z" fill="url(#ws)" fill-rule="evenodd" filter="url(#bs)"/>
</g>
<g clip-path="url(#clH)"><g filter="url(#bl)">
<path d="M0.0 141.0 -6.0 141.0 -6.3 122.0 -6.0 109.2 -4.0 107.5 -2.3 106.5 -0.3 106.0 3.0 105.5 4.7 104.9 11.7 100.4 34.7 81.8 56.3 64.8 76.7 49.9 83.0 45.6 84.3 44.9 85.0 44.8 85.2 45.0 85.1 45.7 84.0 47.7 77.3 57.1 64.0 73.0 56.9 83.7 52.8 89.3 49.0 94.3 29.1 119.0 16.4 131.3 7.4 136.7 2.3 139.9Z" fill="#ff4808" fill-rule="evenodd"/>
<path d="M-0.3 137.0 -1.7 137.3 -3.0 137.3 -6.0 136.4 -6.2 123.7 -6.0 113.3 -6.0 112.6 -4.7 110.9 -3.0 109.5 -1.3 108.8 0.7 108.7 4.0 109.5 5.0 109.6 6.3 109.2 8.0 108.2 14.3 103.4 23.3 95.2 32.8 86.0 38.3 81.2 49.5 72.7 61.3 62.9 75.0 52.5 77.7 50.7 78.3 50.6 79.0 50.8 79.4 51.3 79.3 52.3 77.5 55.0 73.8 59.7 63.0 72.0 59.7 76.4 53.6 85.7 50.7 89.3 47.5 93.0 39.4 101.3 25.9 116.3 13.7 127.3 8.0 130.5 6.7 131.5 2.7 135.4 1.0 136.5Z" fill="#ff7a00" fill-rule="evenodd"/>
<path d="M0.0 134.7 -1.3 135.0 -3.0 134.7 -4.7 133.8 -6.0 132.5 -6.1 123.0 -6.0 115.0 -5.1 113.3 -4.0 112.0 -2.3 110.7 -1.3 110.3 -0.3 110.3 0.7 110.4 2.0 111.0 5.3 113.3 6.3 113.8 7.7 113.8 9.0 113.0 17.0 106.1 23.0 99.6 31.0 89.7 33.8 86.7 36.7 84.0 41.0 80.4 50.2 73.7 62.7 62.8 76.0 52.5 77.7 51.3 78.4 51.3 78.7 51.7 78.7 52.3 76.3 55.7 73.3 59.3 60.0 74.4 57.7 77.5 52.4 85.7 48.0 91.0 43.7 95.1 33.2 104.0 23.1 113.7 10.7 123.7 9.0 124.5 8.0 125.3 7.0 126.5 4.5 130.7 3.2 132.3 1.7 133.8Z" fill="#ffa800" fill-rule="evenodd"/>
<path d="M32.0 100.4 30.3 100.6 29.0 100.2 28.5 99.7 28.3 99.0 28.4 97.3 29.2 95.0 30.5 92.7 32.4 90.0 34.7 87.3 37.3 84.7 40.0 82.5 50.7 74.7 62.6 63.7 73.3 55.2 76.7 53.1 76.9 53.3 76.4 54.3 72.9 59.0 61.0 72.0 57.7 75.9 55.7 78.7 51.5 85.3 47.7 89.9 43.7 93.6 39.7 96.5 35.7 98.9ZM-0.3 132.7 -1.3 132.8 -2.3 132.6 -3.3 132.1 -4.1 131.3 -5.0 130.1 -5.7 128.7 -6.0 127.7 -6.0 126.3 -6.0 118.5 -5.4 116.7 -4.5 114.7 -3.3 113.2 -2.0 112.3 -0.7 112.0 0.3 112.2 1.7 112.9 2.7 113.8 3.5 115.0 4.9 118.0 5.3 119.7 5.4 121.3 5.2 123.3 4.9 125.3 3.5 129.0 2.7 130.4 1.7 131.5 0.7 132.3Z" fill="#ffd400" fill-rule="evenodd"/>
<path d="M34.3 96.7 33.3 96.5 32.5 96.0 32.2 95.0 32.3 93.7 33.0 92.0 33.9 90.3 37.0 86.7 41.3 82.8 48.4 78.0 51.3 75.7 63.0 64.2 70.3 58.3 72.7 57.2 72.7 57.7 71.6 59.7 55.9 76.3 54.0 79.0 50.0 85.3 46.7 89.3 43.3 92.3 40.0 94.6 37.0 96.1ZM-0.7 130.4 -1.7 130.3 -2.3 130.0 -3.1 129.3 -3.9 128.3 -4.9 125.7 -5.2 122.7 -4.8 119.3 -3.9 116.7 -3.3 115.7 -2.3 114.7 -1.7 114.3 -0.7 114.2 0.3 114.4 1.0 114.9 2.4 116.7 3.2 119.0 3.5 122.0 3.2 125.0 2.3 127.7 1.0 129.4 0.3 130.0Z" fill="#bce400" fill-rule="evenodd"/>
<path d="M56.0 74.8 55.3 74.9 54.8 74.7 54.8 73.7 55.3 72.7 63.3 64.6 70.7 58.6 71.3 58.5 71.5 59.0 71.3 59.3 69.5 61.3 56.7 74.3ZM37.7 94.1 36.7 94.3 35.7 94.2 35.0 93.7 34.7 93.0 34.8 92.0 35.4 90.7 37.5 87.7 40.3 84.9 43.0 82.8 51.7 77.4 53.0 76.8 52.7 78.0 50.4 82.7 48.8 85.3 46.9 87.7 45.0 89.6 42.3 91.7 40.0 93.1ZM-1.0 128.0 -2.0 127.7 -3.1 126.3 -3.7 124.7 -3.9 122.3 -3.7 120.0 -3.0 118.1 -2.0 116.8 -1.0 116.4 -0.3 116.5 0.3 116.9 1.2 118.0 1.9 119.7 2.1 122.0 1.9 124.3 1.2 126.3 0.0 127.7Z" fill="#2cc020" fill-rule="evenodd"/>
<path d="M56.0 73.8 55.7 73.7 55.7 73.3 63.4 65.3 66.7 62.7 67.0 62.5 67.2 62.7 64.3 65.9ZM39.7 91.7 38.7 91.9 38.0 91.8 37.7 91.7 37.4 91.0 37.8 89.7 39.2 87.7 41.3 85.4 43.3 84.0 46.3 82.3 47.3 82.0 48.0 82.0 48.3 82.7 47.9 84.0 47.0 85.7 45.5 87.7 42.7 90.0ZM-1.0 124.4 -1.7 123.9 -2.1 122.3 -1.8 120.7 -1.3 120.1 -1.0 119.9 -0.3 120.3 0.1 121.0 0.2 122.0 -0.1 123.7 -0.7 124.3Z" fill="#0a8c6c" fill-rule="evenodd"/>
</g></g>
<path d="M112.3 17.4h1.2v1.2h-1.2zM97.6 33.4h1.2v1.2h-1.2z" fill="#f05050" filter="url(#bs)"/>
</g>
<rect x="0.5" y="0.2" width="135" height="135.2" fill="none" stroke="#cacaca" stroke-width="1.15"/>
<path d="M0.50 135.50v2 M-2 135.50h2 M34.25 135.50v2 M-2 101.75h2 M68.00 135.50v2 M-2 68.00h2 M101.75 135.50v2 M-2 34.25h2 M135.50 135.50v2 M-2 0.50h2 " stroke="#999" stroke-width="0.6" fill="none"/>
<text x="-0.10" y="141.20" font-size="4.5" fill="#3c3c3c" text-anchor="middle">10<tspan dy="-1.4" font-size="3.1">0</tspan></text>
<text x="-2.20" y="138.00" font-size="4.5" fill="#3c3c3c" text-anchor="end">10<tspan dy="-1.3" font-size="3">0</tspan></text>
<text x="33.65" y="141.20" font-size="4.5" fill="#3c3c3c" text-anchor="middle">10<tspan dy="-1.4" font-size="3.1">1</tspan></text>
<text x="-2.20" y="104.25" font-size="4.5" fill="#3c3c3c" text-anchor="end">10<tspan dy="-1.3" font-size="3">1</tspan></text>
<text x="67.40" y="141.20" font-size="4.5" fill="#3c3c3c" text-anchor="middle">10<tspan dy="-1.4" font-size="3.1">2</tspan></text>
<text x="-2.20" y="70.50" font-size="4.5" fill="#3c3c3c" text-anchor="end">10<tspan dy="-1.3" font-size="3">2</tspan></text>
<text x="101.15" y="141.20" font-size="4.5" fill="#3c3c3c" text-anchor="middle">10<tspan dy="-1.4" font-size="3.1">3</tspan></text>
<text x="-2.20" y="36.75" font-size="4.5" fill="#3c3c3c" text-anchor="end">10<tspan dy="-1.3" font-size="3">3</tspan></text>
<text x="134.90" y="141.20" font-size="4.5" fill="#3c3c3c" text-anchor="middle">10<tspan dy="-1.4" font-size="3.1">4</tspan></text>
<text x="-2.20" y="3.00" font-size="4.5" fill="#3c3c3c" text-anchor="end">10<tspan dy="-1.3" font-size="3">4</tspan></text>
<text x="68.00" y="145.90" font-size="4.5" fill="#3c3c3c" text-anchor="middle">FL 1 Log</text>
<text transform="translate(-9.0 67.00) rotate(90)" font-size="4.5" fill="#3c3c3c" text-anchor="middle">FL 2 Log</text>
</g>
<g transform="translate(376 198)">
<g clip-path="url(#clipP)">
<g filter="url(#bs)">
<path d="M-8.4 98.6C-7.6 105.2 -4.2 131.5 -3.4 138.1C-2.6 144.7 -3.4 138.1 -3.4 138.1C-3.4 138.1 -3.4 138.1 -3.4 138.1C-3.4 138.1 -3.4 138.2 -3.4 138.2C-3.4 138.2 -3.3 138.2 -3.3 138.2C-3.3 138.2 -3.3 138.2 -3.3 138.2C-3.3 138.2 -3.3 138.3 -3.3 138.3C-3.3 138.3 -3.3 138.3 -3.3 138.3C-3.3 138.3 -3.2 138.3 -3.2 138.3C-3.2 138.3 -3.2 138.3 -3.2 138.3C-3.2 138.3 -3.2 138.4 -3.2 138.4C-3.2 138.4 -3.2 138.4 -3.2 138.4C-3.2 138.4 -3.1 138.4 -3.1 138.4C-3.1 138.4 -3.1 138.4 -3.1 138.4C-3.1 138.4 -3.0 138.4 -3.0 138.4C-3.0 138.4 -8.4 138.4 -3.0 138.4C2.4 138.4 24.0 138.4 29.4 138.4C34.8 138.4 29.4 138.4 29.4 138.4C29.4 138.4 29.5 138.4 29.5 138.4C29.5 138.4 29.5 138.4 29.5 138.4C29.5 138.4 29.6 138.4 29.6 138.4C29.6 138.4 29.6 138.4 29.6 138.4C29.6 138.4 29.6 138.3 29.6 138.3C29.6 138.3 29.7 138.3 29.7 138.3C29.7 138.3 29.7 138.3 29.7 138.3C29.7 138.3 29.7 138.3 29.7 138.3C29.7 138.3 29.7 138.2 29.7 138.2C29.7 138.2 29.8 138.2 29.8 138.2C29.8 138.2 29.8 138.1 29.8 138.1C29.8 138.1 29.8 138.1 29.8 138.1C29.8 138.1 29.4 140.5 29.8 138.1C30.2 135.7 31.5 127.4 32.5 123.5C33.5 119.6 34.5 117.7 36.0 114.7C37.5 111.8 40.4 107.3 41.3 105.8C42.2 104.3 40.4 107.3 41.3 105.8C42.2 104.3 44.8 99.9 46.6 96.9C48.4 93.9 51.1 89.5 52.0 88.0C52.9 86.5 51.1 89.5 52.0 88.0C52.9 86.5 55.2 81.8 57.3 79.1C59.4 76.4 62.1 74.4 64.5 72.0C66.9 69.6 69.2 67.3 71.6 64.9C74.0 62.5 77.5 59.0 78.7 57.8C79.9 56.6 77.5 59.0 78.7 57.8C79.9 56.6 84.6 51.8 85.8 50.6C87.0 49.4 85.8 50.6 85.8 50.6C85.8 50.6 85.8 50.5 85.8 50.5C85.8 50.5 85.9 50.5 85.9 50.5C85.9 50.5 85.6 51.2 85.9 50.5C86.2 49.8 87.4 46.9 87.7 46.1C88.0 45.4 87.7 46.0 87.7 46.0C87.7 46.0 87.7 46.0 87.7 46.0C87.7 46.0 87.7 45.9 87.7 45.9C87.7 45.9 87.7 45.9 87.7 45.9C87.7 45.9 87.7 45.9 87.7 45.9C87.7 45.9 87.7 45.8 87.7 45.8C87.7 45.8 87.7 45.8 87.7 45.8C87.7 45.8 87.7 45.7 87.7 45.7C87.7 45.7 87.7 45.7 87.7 45.7C87.7 45.7 87.6 45.7 87.6 45.7C87.6 45.7 87.6 45.6 87.6 45.6C87.6 45.6 87.6 45.6 87.6 45.6C87.6 45.6 87.6 45.6 87.6 45.6C87.6 45.6 87.5 45.6 87.5 45.6C87.5 45.6 87.5 45.6 87.5 45.6C87.5 45.6 87.5 45.5 87.5 45.5C87.5 45.5 87.4 45.5 87.4 45.5C87.4 45.5 87.4 45.5 87.4 45.5C87.4 45.5 87.3 45.5 87.3 45.5C87.3 45.5 87.3 45.5 87.3 45.5C87.3 45.5 87.3 45.5 87.3 45.5C87.3 45.5 87.2 45.5 87.2 45.5C87.2 45.5 87.2 45.5 87.2 45.5C87.2 45.5 87.2 45.5 87.2 45.5C87.2 45.5 87.1 45.5 87.1 45.5C87.1 45.5 87.1 45.6 87.1 45.6C87.1 45.6 87.7 45.2 87.1 45.6C86.5 46.0 85.4 47.0 83.6 48.3C81.8 49.6 78.8 52.0 76.4 53.6C74.0 55.2 71.7 56.6 69.3 58.1C66.9 59.6 63.4 61.8 62.2 62.5C61.0 63.2 63.4 61.8 62.2 62.5C61.0 63.2 56.2 66.2 55.0 67.0C53.8 67.8 56.2 66.1 55.0 67.0C53.8 67.9 50.3 70.7 47.9 72.3C45.5 73.9 43.2 75.5 40.8 76.8C38.4 78.1 34.9 79.6 33.7 80.2C32.5 80.8 34.9 79.6 33.7 80.2C32.5 80.8 27.7 83.2 26.5 83.8C25.3 84.4 27.7 83.2 26.5 83.8C25.3 84.4 21.8 86.2 19.4 87.4C17.0 88.6 13.5 90.3 12.3 90.9C11.1 91.5 13.5 90.2 12.3 91.0C11.1 91.8 7.7 94.2 5.1 95.4C2.5 96.6 -0.9 97.6 -3.1 98.1C-5.3 98.5 -7.2 98.1 -8.0 98.1C-8.8 98.1 -8.0 98.1 -8.0 98.1C-8.0 98.1 -8.1 98.1 -8.1 98.1C-8.1 98.1 -8.1 98.1 -8.1 98.1C-8.1 98.1 -8.2 98.1 -8.2 98.1C-8.2 98.1 -8.2 98.1 -8.2 98.1C-8.2 98.1 -8.2 98.2 -8.2 98.2C-8.2 98.2 -8.3 98.2 -8.3 98.2C-8.3 98.2 -8.3 98.2 -8.3 98.2C-8.3 98.2 -8.3 98.3 -8.3 98.3C-8.3 98.3 -8.3 98.3 -8.3 98.3C-8.3 98.3 -8.4 98.3 -8.4 98.3C-8.4 98.3 -8.4 98.4 -8.4 98.4C-8.4 98.4 -8.4 98.4 -8.4 98.4C-8.4 98.4 -8.4 98.4 -8.4 98.4C-8.4 98.4 -8.4 98.5 -8.4 98.5C-8.4 98.5 -8.4 98.5 -8.4 98.5C-8.4 98.5 -9.2 92.0 -8.4 98.6Z" fill="url(#sp0)"/>
<path d="M-7.1 99.3C-7.0 105.6 -8.3 130.9 -2.3 137.2C3.7 143.5 23.1 139.5 28.7 137.2C34.3 134.9 30.9 125.6 31.3 123.3C31.7 121.0 31.3 123.2 31.3 123.2C31.3 123.2 30.8 124.6 31.4 123.1C32.0 121.6 34.3 115.7 34.9 114.2C35.5 112.7 34.9 114.1 34.9 114.1C34.9 114.1 34.0 115.6 34.9 114.1C35.8 112.6 38.5 108.2 40.3 105.2C42.1 102.2 44.7 97.8 45.6 96.3C46.5 94.8 44.7 97.8 45.6 96.3C46.5 94.8 49.2 90.4 51.0 87.4C52.8 84.4 55.4 80.0 56.3 78.5C57.2 77.0 56.3 78.4 56.3 78.4C56.3 78.4 56.4 78.4 56.4 78.4C56.4 78.4 55.2 79.5 56.4 78.3C57.6 77.1 61.2 73.5 63.6 71.1C66.0 68.7 68.3 66.4 70.7 64.0C73.1 61.6 75.5 59.2 77.8 56.9C80.1 54.5 83.5 51.3 84.8 49.9C86.1 48.5 85.5 48.5 85.4 48.4C85.3 48.3 84.5 49.1 84.3 49.2C84.1 49.3 85.5 48.3 84.3 49.2C83.1 50.1 78.3 53.6 77.1 54.5C75.9 55.4 78.2 53.8 77.0 54.6C75.8 55.4 71.1 58.4 69.9 59.1C68.7 59.9 71.1 58.4 69.9 59.1C68.7 59.8 65.2 62.0 62.8 63.5C60.4 65.0 58.1 66.4 55.7 68.0C53.3 69.6 49.8 72.3 48.6 73.2C47.4 74.1 49.7 72.5 48.5 73.3C47.3 74.1 42.6 77.0 41.4 77.8C40.2 78.5 42.6 77.2 41.4 77.8C40.2 78.4 36.7 80.1 34.3 81.3C31.9 82.5 29.5 83.7 27.1 84.9C24.7 86.1 21.2 87.9 20.0 88.5C18.8 89.1 21.2 87.9 20.0 88.5C18.8 89.1 15.3 90.7 12.9 92.0C10.5 93.3 6.9 95.8 5.7 96.5C4.5 97.2 5.6 96.5 5.6 96.5C5.6 96.5 6.9 96.1 5.5 96.6C4.1 97.1 -1.4 98.8 -2.8 99.3C-4.2 99.8 -2.8 99.3 -2.8 99.3C-2.8 99.3 -2.9 99.3 -2.9 99.3C-2.9 99.3 -2.3 99.3 -3.0 99.3C-3.7 99.3 -7.2 93.0 -7.1 99.3Z" fill="url(#sp1)"/>
</g>
<g clip-path="url(#coI)">
<path d="M1.0 141.0 -6.1 141.0 -6.2 125.7 -6.0 113.4 1.8 108.0 10.5 100.3 20.0 92.5 28.0 85.3 35.3 79.2 55.0 67.2 60.3 63.7 72.1 55.7 84.7 46.1 85.3 45.7 86.3 45.7 87.0 45.9 87.7 46.3 88.1 47.0 88.3 47.7 88.3 48.7 87.9 49.3 59.8 85.7 50.7 96.7 43.0 103.6 35.8 109.7 28.0 118.1 18.7 127.6 12.3 133.5 7.3 137.4 3.3 139.8Z" fill="url(#sp2)" fill-rule="evenodd" filter="url(#bs)"/>
<path d="M-3.0 138.3 -6.0 138.5 -6.1 127.7 -6.0 117.6 -2.7 115.0 3.7 110.9 12.8 102.0 21.7 93.9 28.3 87.3 36.3 80.3 58.3 66.7 73.0 56.4 85.3 46.9 86.0 46.7 86.8 47.0 87.2 47.7 87.2 48.3 85.3 51.0 57.6 86.3 49.7 95.7 42.0 102.1 34.3 108.0 26.7 115.6 17.5 124.0 11.0 130.7 8.7 132.8 6.3 134.5 3.7 135.9 -1.0 137.8Z" fill="#fa2e10" fill-rule="evenodd" filter="url(#bl)"/>
<path d="M-3.0 138.3 -6.0 138.5 -6.1 127.7 -6.0 117.6 -2.7 115.0 3.7 110.9 12.8 102.0 21.7 93.9 28.3 87.3 36.3 80.3 58.3 66.7 73.0 56.4 85.3 46.9 86.0 46.7 86.8 47.0 87.2 47.7 87.2 48.3 85.3 51.0 57.6 86.3 49.7 95.7 42.0 102.1 34.3 108.0 26.7 115.6 17.5 124.0 11.0 130.7 8.7 132.8 6.3 134.5 3.7 135.9 -1.0 137.8Z" fill="url(#ws)" fill-rule="evenodd" filter="url(#bs)"/>
</g>
<g clip-path="url(#clI)"><g filter="url(#bl)">
<path d="M0.7 133.0 -1.3 133.2 -3.0 133.1 -4.7 132.8 -6.0 132.2 -6.0 123.4 -3.7 120.5 -2.0 119.0 0.0 117.7 6.7 114.3 9.0 111.9 15.3 104.3 23.3 95.6 27.8 90.3 32.0 86.0 37.0 81.6 43.7 77.2 57.0 69.4 78.0 54.7 79.7 53.7 80.3 53.5 80.5 53.7 80.3 54.3 79.3 56.0 76.3 60.2 65.7 73.4 55.1 87.3 48.7 94.7 40.7 100.9 32.5 106.3 24.0 113.4 15.3 120.0 13.5 121.7 8.9 128.0 6.6 130.3 3.7 132.1Z" fill="#ff4808" fill-rule="evenodd"/>
<path d="M33.7 100.0 31.7 100.3 30.0 100.0 29.0 99.0 28.8 97.3 29.3 95.3 30.6 92.7 32.4 90.0 35.0 87.0 39.0 83.2 42.7 80.8 46.3 78.8 50.3 76.9 53.7 75.6 56.0 75.1 56.7 75.1 57.4 75.3 57.7 76.3 57.4 77.7 55.4 82.0 52.1 87.0 48.0 91.7 45.3 94.0 41.0 96.9 37.0 98.9Z" fill="#ff7a00" fill-rule="evenodd"/>
<path d="M37.3 95.7 35.7 95.8 34.7 95.4 34.0 94.7 33.9 93.7 34.1 92.3 34.9 90.7 36.0 89.0 37.7 87.0 40.3 84.5 43.0 82.8 45.3 81.6 47.3 80.8 49.0 80.4 50.3 80.4 51.3 80.8 51.7 81.3 51.8 82.0 51.2 84.3 49.6 87.0 47.1 90.0 45.7 91.4 42.7 93.5 40.0 94.8Z" fill="#ffa800" fill-rule="evenodd"/>
<path d="M39.7 91.7 39.0 91.4 38.6 90.7 39.1 89.0 40.3 87.3 41.7 86.1 44.0 84.8 45.7 84.4 46.8 84.7 47.1 85.3 47.0 86.3 46.3 87.7 45.2 89.0 44.3 89.9 43.0 90.7 41.7 91.4Z" fill="#ffd400" fill-rule="evenodd"/>
</g></g>
<path d="M117.6 8.0h1.2v1.2h-1.2zM93.6 34.8h1.2v1.2h-1.2z" fill="#f05050" filter="url(#bs)"/>
</g>
<rect x="0.5" y="0.2" width="135" height="135.2" fill="none" stroke="#cacaca" stroke-width="1.15"/>
<path d="M0.50 135.50v2 M-2 135.50h2 M34.25 135.50v2 M-2 101.75h2 M68.00 135.50v2 M-2 68.00h2 M101.75 135.50v2 M-2 34.25h2 M135.50 135.50v2 M-2 0.50h2 " stroke="#999" stroke-width="0.6" fill="none"/>
<text x="-0.10" y="141.20" font-size="4.5" fill="#3c3c3c" text-anchor="middle">10<tspan dy="-1.4" font-size="3.1">0</tspan></text>
<text x="-2.20" y="138.00" font-size="4.5" fill="#3c3c3c" text-anchor="end">10<tspan dy="-1.3" font-size="3">0</tspan></text>
<text x="33.65" y="141.20" font-size="4.5" fill="#3c3c3c" text-anchor="middle">10<tspan dy="-1.4" font-size="3.1">1</tspan></text>
<text x="-2.20" y="104.25" font-size="4.5" fill="#3c3c3c" text-anchor="end">10<tspan dy="-1.3" font-size="3">1</tspan></text>
<text x="67.40" y="141.20" font-size="4.5" fill="#3c3c3c" text-anchor="middle">10<tspan dy="-1.4" font-size="3.1">2</tspan></text>
<text x="-2.20" y="70.50" font-size="4.5" fill="#3c3c3c" text-anchor="end">10<tspan dy="-1.3" font-size="3">2</tspan></text>
<text x="101.15" y="141.20" font-size="4.5" fill="#3c3c3c" text-anchor="middle">10<tspan dy="-1.4" font-size="3.1">3</tspan></text>
<text x="-2.20" y="36.75" font-size="4.5" fill="#3c3c3c" text-anchor="end">10<tspan dy="-1.3" font-size="3">3</tspan></text>
<text x="134.90" y="141.20" font-size="4.5" fill="#3c3c3c" text-anchor="middle">10<tspan dy="-1.4" font-size="3.1">4</tspan></text>
<text x="-2.20" y="3.00" font-size="4.5" fill="#3c3c3c" text-anchor="end">10<tspan dy="-1.3" font-size="3">4</tspan></text>
<text x="68.00" y="145.90" font-size="4.5" fill="#3c3c3c" text-anchor="middle">FL 1 Log</text>
<text transform="translate(-9.0 67.00) rotate(90)" font-size="4.5" fill="#3c3c3c" text-anchor="middle">FL 2 Log</text>
</g>
<g transform="translate(544 198)">
<g clip-path="url(#clipP)">
<g filter="url(#bs)">
<path d="M35.0 72.0C35.0 69.2 35.3 65.2 36.0 62.0C36.7 58.8 37.7 55.5 39.0 53.0C40.3 50.5 42.2 48.2 44.0 47.0C45.8 45.8 48.2 45.2 50.0 45.5C51.8 45.8 53.8 47.1 55.0 49.0C56.2 50.9 56.5 54.0 57.0 57.0C57.5 60.0 58.0 64.2 58.0 67.0C58.0 69.8 58.3 72.2 57.0 74.0C55.7 75.8 52.5 76.8 50.0 78.0C47.5 79.2 44.3 80.8 42.0 81.0C39.7 81.2 37.2 80.5 36.0 79.0C34.8 77.5 35.0 74.8 35.0 72.0Z" fill="url(#spc)"/>
<path d="M-8.0 94.4C-8.0 101.7 -10.2 130.7 -3.0 138.0C4.2 145.3 28.7 139.4 35.3 138.0C41.9 136.6 35.7 132.9 36.4 129.8C37.1 126.7 38.3 122.9 39.5 119.4C40.7 115.9 42.3 112.5 43.7 109.0C45.1 105.5 46.1 102.1 47.8 98.6C49.5 95.1 52.0 91.7 54.1 88.2C56.2 84.7 57.9 81.1 60.3 77.8C62.7 74.5 65.8 71.6 68.6 68.5C71.4 65.4 74.1 62.2 76.9 59.1C79.7 56.0 82.6 52.6 85.2 49.8C87.8 47.0 91.1 44.4 92.5 42.5C93.9 40.6 94.1 38.7 93.6 38.7C93.1 38.7 91.5 40.8 89.4 42.5C87.3 44.2 83.9 46.6 81.1 48.7C78.3 50.8 75.6 52.8 72.8 54.9C70.0 57.0 67.2 59.3 64.4 61.2C61.6 63.1 58.9 64.9 56.1 66.4C53.3 68.0 50.6 69.1 47.8 70.5C45.0 71.9 42.3 73.3 39.5 74.7C36.7 76.1 34.0 77.7 31.2 78.9C28.4 80.1 25.7 80.8 22.9 82.0C20.1 83.2 17.4 84.7 14.6 86.1C11.8 87.5 9.1 88.9 6.2 90.3C3.3 91.7 -0.6 93.7 -3.0 94.4C-5.4 95.1 -8.0 87.1 -8.0 94.4Z" fill="url(#sp0)"/>
<path d="M-7.1 95.2C-7.0 102.2 -9.2 130.2 -2.3 137.2C4.7 144.2 28.3 138.4 34.6 137.2C40.9 135.9 35.4 131.0 35.6 129.7C35.8 128.4 35.6 129.6 35.6 129.6C35.6 129.6 35.1 131.3 35.6 129.6C36.1 127.9 38.2 121.0 38.7 119.2C39.2 117.5 38.1 120.8 38.8 119.1C39.5 117.3 41.6 112.2 43.0 108.7C44.4 105.2 46.4 100.0 47.1 98.3C47.8 96.5 47.1 98.2 47.1 98.2C47.1 98.2 46.1 99.9 47.1 98.2C48.1 96.5 51.3 91.3 53.4 87.8C55.5 84.3 58.5 79.2 59.6 77.4C60.7 75.7 59.7 77.3 59.7 77.3C59.7 77.3 58.3 78.8 59.7 77.3C61.1 75.8 65.2 71.1 68.0 68.0C70.8 64.9 74.9 60.2 76.3 58.6C77.7 57.0 74.9 60.2 76.3 58.6C77.7 57.0 83.2 50.9 84.6 49.3C86.0 47.7 83.4 50.4 84.6 49.2C85.8 48.0 90.6 43.4 91.8 42.1C93.0 40.8 92.3 41.0 92.0 41.2C91.7 41.4 90.2 42.8 89.9 43.1C89.6 43.4 91.3 42.1 89.9 43.1C88.5 44.1 84.4 47.2 81.6 49.3C78.8 51.4 76.1 53.4 73.3 55.5C70.5 57.6 66.3 60.7 64.9 61.8C63.5 62.9 66.2 61.0 64.8 61.9C63.4 62.8 57.9 66.2 56.5 67.1C55.1 68.0 57.9 66.4 56.5 67.1C55.1 67.8 51.0 69.8 48.2 71.2C45.4 72.6 42.7 74.0 39.9 75.4C37.1 76.8 33.0 78.9 31.6 79.6C30.2 80.3 32.9 79.1 31.5 79.6C30.1 80.1 25.9 81.5 23.2 82.7C20.4 83.9 17.8 85.4 15.0 86.8C12.2 88.2 8.0 90.3 6.6 91.0C5.2 91.7 8.1 90.3 6.5 91.0C5.0 91.7 -1.2 94.4 -2.7 95.1C-4.2 95.8 -2.8 95.2 -2.8 95.2C-2.8 95.2 -2.8 95.2 -2.8 95.2C-2.8 95.2 -2.9 95.2 -2.9 95.2C-2.9 95.2 -2.3 95.2 -3.0 95.2C-3.7 95.2 -7.2 88.2 -7.1 95.2Z" fill="url(#sp1)"/>
</g>
<g clip-path="url(#coJ)">
<path d="M14.0 141.0 -3.7 141.2 -6.0 141.2 -6.2 141.0 -6.3 110.3 -6.0 98.0 20.0 83.8 20.5 84.0 20.7 84.3 36.7 77.2 41.0 75.4 41.5 75.3 45.0 73.3 52.7 68.7 63.0 61.9 79.3 49.2 91.0 40.5 92.0 40.2 93.0 40.5 93.5 41.0 93.7 41.7 93.7 42.3 93.5 43.0 85.0 54.3 71.3 74.8 67.3 81.0 59.5 94.0 58.7 95.0 45.3 115.9 43.3 117.5 33.8 124.0 27.7 128.7 21.0 134.1 20.7 134.6 18.3 137.0Z" fill="url(#sp2)" fill-rule="evenodd" filter="url(#bs)"/>
<path d="M-4.3 141.2 -6.0 141.2 -6.2 141.0 -6.2 114.7 -6.0 100.9 21.3 85.3 21.8 85.7 35.7 79.1 42.3 76.4 49.3 72.3 55.6 68.3 63.9 62.7 80.0 49.9 91.3 41.3 92.0 41.0 92.7 41.3 93.0 42.0 92.7 42.7 84.3 53.7 69.7 75.1 54.5 99.3 44.0 114.6 42.0 116.2 31.3 123.3 25.0 128.0 19.7 132.2 17.3 134.7 13.3 138.3 10.0 141.0Z" fill="#fa2e10" fill-rule="evenodd" filter="url(#bl)"/>
<path d="M-4.3 141.2 -6.0 141.2 -6.2 141.0 -6.2 114.7 -6.0 100.9 21.3 85.3 21.8 85.7 35.7 79.1 42.3 76.4 49.3 72.3 55.6 68.3 63.9 62.7 80.0 49.9 91.3 41.3 92.0 41.0 92.7 41.3 93.0 42.0 92.7 42.7 84.3 53.7 69.7 75.1 54.5 99.3 44.0 114.6 42.0 116.2 31.3 123.3 25.0 128.0 19.7 132.2 17.3 134.7 13.3 138.3 10.0 141.0Z" fill="url(#ws)" fill-rule="evenodd" filter="url(#bs)"/>
</g>
<g clip-path="url(#clJ)"><g filter="url(#bl)">
<path d="M4.7 141.0 -6.1 141.0 -6.2 120.0 -6.0 104.0 22.0 87.0 22.8 87.0 35.0 80.9 43.2 77.3 51.9 72.3 57.0 69.0 64.7 63.7 80.8 50.7 86.3 46.7 87.7 46.0 88.0 46.0 87.7 47.0 86.6 48.7 66.3 77.6 57.4 92.3 53.2 99.0 43.0 113.1 41.0 114.7 30.0 122.0 22.0 127.7 18.7 130.1 14.7 133.9 11.0 136.9 7.0 139.7Z" fill="#ff4808" fill-rule="evenodd"/>
<path d="M-1.0 136.1 -3.7 136.2 -6.0 135.8 -6.0 111.6 1.7 105.3 24.0 89.3 24.4 89.3 30.7 85.8 35.7 83.2 40.7 80.9 45.0 79.3 50.1 76.7 55.5 73.7 66.0 67.4 67.7 66.7 68.0 66.7 68.3 67.0 68.1 68.0 67.3 69.7 61.7 79.2 55.9 90.0 52.5 95.7 47.7 102.7 41.0 111.0 38.7 112.8 31.3 117.5 16.0 126.6 11.3 130.0 7.7 132.4 3.3 134.6 0.7 135.6Z" fill="#ff7a00" fill-rule="evenodd"/>
<path d="M4.7 127.7 2.7 128.0 1.0 127.9 -0.4 127.7 -1.7 127.1 -2.7 126.3 -3.5 125.3 -3.9 124.3 -4.1 123.0 -4.1 121.7 -3.7 120.0 -2.2 116.7 0.3 113.0 4.0 108.7 12.0 101.3 19.3 95.1 25.0 90.9 30.3 87.8 36.7 84.5 42.3 82.1 53.7 78.1 55.7 77.7 56.3 77.7 57.0 78.0 57.4 78.7 57.4 79.7 56.7 82.7 54.8 87.7 52.1 93.0 49.8 97.0 47.0 101.0 43.9 105.0 39.8 109.7 38.0 111.1 32.7 114.5 24.0 119.4 9.3 126.1Z" fill="#ffa800" fill-rule="evenodd"/>
<path d="M16.0 119.3 12.3 119.6 9.7 118.9 8.7 118.2 8.1 117.3 7.7 116.3 7.6 115.0 7.8 113.7 8.4 112.0 10.1 108.7 13.1 104.7 17.0 100.3 21.3 96.3 26.0 92.6 31.7 89.1 36.0 86.8 41.0 84.8 45.3 83.6 47.3 83.3 49.3 83.4 50.3 83.6 51.0 84.0 51.4 84.7 51.7 85.7 51.5 88.0 50.7 90.7 49.3 94.0 47.1 97.7 44.8 101.0 42.0 104.5 38.7 108.1 37.0 109.5 33.3 111.9 27.0 115.4 21.3 117.9 18.7 118.7Z" fill="#ffd400" fill-rule="evenodd"/>
<path d="M22.0 114.0 19.3 114.2 18.0 114.0 17.1 113.7 16.3 113.1 15.8 112.3 15.4 110.7 15.8 108.3 17.1 105.7 19.1 102.7 21.7 99.7 24.4 97.0 27.6 94.3 32.0 91.6 35.7 89.7 39.3 88.3 42.3 87.7 44.7 87.9 46.0 88.7 46.5 89.7 46.6 91.3 46.2 93.3 45.4 95.3 44.1 97.7 42.4 100.3 38.1 105.3 35.7 107.5 30.3 110.8 26.0 112.8Z" fill="#bce400" fill-rule="evenodd"/>
<path d="M24.7 109.7 23.0 109.6 21.9 109.0 21.3 108.0 21.3 106.7 21.7 105.0 22.8 103.0 24.2 101.0 26.0 99.0 29.0 96.3 32.0 94.4 34.7 93.1 36.7 92.4 38.7 92.0 40.3 92.1 41.3 92.7 41.7 93.3 41.8 94.3 41.6 95.7 41.0 97.3 38.9 100.7 36.0 104.1 34.0 105.7 30.3 107.9 27.3 109.1Z" fill="#2cc020" fill-rule="evenodd"/>
<path d="M26.0 106.7 25.3 106.6 25.1 106.3 25.1 105.7 25.4 105.0 27.3 102.4 30.0 99.6 32.3 97.9 35.7 95.9 37.3 95.4 38.1 95.7 38.3 96.0 38.2 96.7 37.5 98.0 33.7 102.0 28.7 105.5 27.0 106.4Z" fill="#0a8c6c" fill-rule="evenodd"/>
</g></g>
<path d="M94.5 40.0h1.2v1.2h-1.2zM30.0 38.0h1.2v1.2h-1.2z" fill="#f05050" filter="url(#bs)"/>
</g>
<rect x="0.5" y="0.2" width="135" height="135.2" fill="none" stroke="#cacaca" stroke-width="1.15"/>
<path d="M0.50 135.50v2 M-2 135.50h2 M34.25 135.50v2 M-2 101.75h2 M68.00 135.50v2 M-2 68.00h2 M101.75 135.50v2 M-2 34.25h2 M135.50 135.50v2 M-2 0.50h2 " stroke="#999" stroke-width="0.6" fill="none"/>
<text x="-0.10" y="141.20" font-size="4.5" fill="#3c3c3c" text-anchor="middle">10<tspan dy="-1.4" font-size="3.1">0</tspan></text>
<text x="-2.20" y="138.00" font-size="4.5" fill="#3c3c3c" text-anchor="end">10<tspan dy="-1.3" font-size="3">0</tspan></text>
<text x="33.65" y="141.20" font-size="4.5" fill="#3c3c3c" text-anchor="middle">10<tspan dy="-1.4" font-size="3.1">1</tspan></text>
<text x="-2.20" y="104.25" font-size="4.5" fill="#3c3c3c" text-anchor="end">10<tspan dy="-1.3" font-size="3">1</tspan></text>
<text x="67.40" y="141.20" font-size="4.5" fill="#3c3c3c" text-anchor="middle">10<tspan dy="-1.4" font-size="3.1">2</tspan></text>
<text x="-2.20" y="70.50" font-size="4.5" fill="#3c3c3c" text-anchor="end">10<tspan dy="-1.3" font-size="3">2</tspan></text>
<text x="101.15" y="141.20" font-size="4.5" fill="#3c3c3c" text-anchor="middle">10<tspan dy="-1.4" font-size="3.1">3</tspan></text>
<text x="-2.20" y="36.75" font-size="4.5" fill="#3c3c3c" text-anchor="end">10<tspan dy="-1.3" font-size="3">3</tspan></text>
<text x="134.90" y="141.20" font-size="4.5" fill="#3c3c3c" text-anchor="middle">10<tspan dy="-1.4" font-size="3.1">4</tspan></text>
<text x="-2.20" y="3.00" font-size="4.5" fill="#3c3c3c" text-anchor="end">10<tspan dy="-1.3" font-size="3">4</tspan></text>
<text x="68.00" y="145.90" font-size="4.5" fill="#3c3c3c" text-anchor="middle">FL 1 Log</text>
<text transform="translate(-9.0 67.00) rotate(90)" font-size="4.5" fill="#3c3c3c" text-anchor="middle">FL 2 Log</text>
</g>
<g transform="translate(376 356)">
<g clip-path="url(#clipP)">
<g filter="url(#bs)">
<path d="M-8.0 98.5C-8.0 105.1 -9.1 131.4 -3.0 138.0C3.1 144.6 22.4 140.1 28.5 138.0C34.6 135.9 32.4 128.8 33.9 125.2C35.4 121.6 36.5 119.3 37.8 116.3C39.1 113.3 40.1 110.4 41.7 107.4C43.3 104.4 45.3 101.5 47.4 98.5C49.5 95.5 52.1 92.6 54.5 89.6C56.9 86.6 59.3 83.6 61.7 80.6C64.1 77.6 66.5 74.7 68.8 71.7C71.1 68.7 73.5 65.8 75.7 62.8C78.0 59.8 80.4 56.6 82.3 53.9C84.2 51.2 86.0 48.9 87.3 46.8C88.6 44.7 89.5 42.6 90.0 41.4C90.5 40.2 91.0 39.1 90.0 39.7C89.0 40.3 86.0 43.2 83.8 45.0C81.6 46.8 79.0 48.5 76.6 50.3C74.2 52.1 71.9 53.8 69.5 55.7C67.1 57.6 64.8 60.0 62.4 61.9C60.0 63.8 57.6 65.5 55.2 67.3C52.8 69.1 50.5 71.0 48.1 72.6C45.7 74.2 43.4 75.6 41.0 77.1C38.6 78.6 36.3 79.9 33.9 81.5C31.5 83.1 29.1 85.4 26.7 86.9C24.3 88.4 22.0 89.2 19.6 90.4C17.2 91.6 14.9 93.0 12.5 94.0C10.1 95.0 7.9 96.0 5.3 96.7C2.7 97.5 -0.8 98.2 -3.0 98.5C-5.2 98.8 -8.0 91.9 -8.0 98.5Z" fill="url(#sp0)"/>
<path d="M-7.1 99.3C-7.0 105.6 -8.2 130.9 -2.3 137.2C3.6 143.5 22.1 139.2 28.0 137.2C33.9 135.1 32.3 127.0 33.2 124.9C34.1 122.9 32.6 126.4 33.2 124.9C33.9 123.4 35.8 119.0 37.1 116.0C38.4 113.0 40.4 108.6 41.0 107.1C41.6 105.6 41.0 107.0 41.0 107.0C41.0 107.0 40.0 108.5 41.0 107.0C42.0 105.5 45.7 99.6 46.7 98.1C47.7 96.6 45.6 99.5 46.8 98.0C48.0 96.5 52.7 90.6 53.9 89.1C55.1 87.6 52.7 90.6 53.9 89.1C55.1 87.6 58.7 83.1 61.1 80.1C63.5 77.1 65.9 74.2 68.2 71.2C70.5 68.2 72.8 65.3 75.1 62.3C77.3 59.3 79.8 56.0 81.7 53.4C83.6 50.8 85.4 48.4 86.6 46.4C87.8 44.4 89.4 41.7 89.0 41.6C88.6 41.5 85.1 44.9 84.3 45.6C83.5 46.3 85.5 44.7 84.3 45.6C83.1 46.5 79.5 49.1 77.1 50.9C74.7 52.7 72.4 54.4 70.0 56.3C67.6 58.2 64.1 61.5 62.9 62.5C61.7 63.5 64.1 61.6 62.9 62.5C61.7 63.4 56.9 67.0 55.7 67.9C54.5 68.8 56.9 67.0 55.7 67.9C54.5 68.8 49.8 72.3 48.6 73.2C47.4 74.1 49.7 72.5 48.5 73.3C47.3 74.1 42.6 77.0 41.4 77.8C40.2 78.5 42.6 77.1 41.4 77.8C40.2 78.5 36.8 80.6 34.4 82.2C32.0 83.8 28.4 86.6 27.2 87.5C26.0 88.4 27.1 87.6 27.1 87.6C27.1 87.6 28.3 87.0 27.1 87.6C25.9 88.2 22.4 89.9 20.0 91.1C17.6 92.3 14.1 94.1 12.9 94.7C11.7 95.3 14.0 94.2 12.8 94.7C11.6 95.2 6.8 96.9 5.6 97.4C4.4 97.9 6.9 97.2 5.5 97.5C4.1 97.8 -1.4 99.0 -2.8 99.3C-4.2 99.6 -2.9 99.3 -2.9 99.3C-2.9 99.3 -2.3 99.3 -3.0 99.3C-3.7 99.3 -7.2 93.0 -7.1 99.3Z" fill="url(#sp1)"/>
</g>
<g clip-path="url(#coK)">
<path d="M7.0 141.2 -2.3 141.3 -6.0 141.3 -6.3 141.0 -6.3 107.7 -6.0 99.9 -4.3 99.2 -2.3 98.6 4.3 97.8 7.0 97.0 11.6 94.7 23.7 87.8 34.3 79.2 37.3 77.0 46.3 70.0 53.8 63.7 61.7 57.8 88.0 39.4 89.0 39.1 90.0 39.4 90.6 40.0 90.9 40.7 90.9 41.3 90.6 42.0 81.4 55.3 76.7 61.9 72.6 68.0 58.9 86.3 52.7 94.1 39.8 104.7 39.7 105.3 31.4 119.7 26.8 126.7 21.9 133.7 20.0 135.4 16.0 138.3 12.9 141.0Z" fill="url(#sp2)" fill-rule="evenodd" filter="url(#bs)"/>
<path d="M10.7 141.0 -1.3 141.3 -6.0 141.3 -6.3 141.0 -6.3 109.3 -6.0 101.3 -4.0 100.4 -2.0 99.8 4.7 99.3 7.3 98.6 12.1 96.0 23.7 89.0 35.0 79.7 46.8 70.7 54.4 64.3 62.0 58.5 85.3 41.9 88.7 39.8 89.7 40.0 90.2 40.7 90.2 41.3 87.2 46.0 76.0 61.5 72.2 67.3 58.0 86.0 52.0 93.3 39.3 103.7 30.5 118.3 22.1 130.0 19.9 132.7 15.0 136.7Z" fill="#fa2e10" fill-rule="evenodd" filter="url(#bl)"/>
<path d="M10.7 141.0 -1.3 141.3 -6.0 141.3 -6.3 141.0 -6.3 109.3 -6.0 101.3 -4.0 100.4 -2.0 99.8 4.7 99.3 7.3 98.6 12.1 96.0 23.7 89.0 35.0 79.7 46.8 70.7 54.4 64.3 62.0 58.5 85.3 41.9 88.7 39.8 89.7 40.0 90.2 40.7 90.2 41.3 87.2 46.0 76.0 61.5 72.2 67.3 58.0 86.0 52.0 93.3 39.3 103.7 30.5 118.3 22.1 130.0 19.9 132.7 15.0 136.7Z" fill="url(#ws)" fill-rule="evenodd" filter="url(#bs)"/>
</g>
<g clip-path="url(#clK)"><g filter="url(#bl)">
<path d="M8.7 141.0 -1.7 141.3 -6.0 141.2 -6.2 141.0 -6.3 111.3 -6.0 102.3 -3.7 101.4 -1.7 101.0 0.3 100.8 5.3 100.7 7.7 100.2 12.0 97.7 21.1 92.0 25.1 89.3 35.3 80.3 49.0 70.0 55.0 64.9 64.0 57.9 68.9 54.7 75.7 49.6 83.7 43.9 87.0 41.9 87.7 41.7 88.3 41.7 88.4 42.0 88.1 43.0 86.3 46.0 80.4 54.3 75.3 61.2 71.6 67.0 57.3 85.7 51.0 92.9 38.6 103.0 29.4 117.3 24.0 124.5 18.7 131.0 14.3 134.9 9.8 140.0Z" fill="#ff4808" fill-rule="evenodd"/>
<path d="M5.7 141.0 -1.7 141.2 -6.0 141.1 -6.1 141.0 -6.3 116.0 -6.0 104.5 -4.7 103.8 -1.3 103.0 1.0 102.9 7.0 103.5 8.7 103.1 10.3 102.3 24.3 92.3 26.3 90.7 29.3 87.3 36.0 81.1 41.0 77.2 51.0 70.2 64.7 58.9 69.8 56.0 78.7 49.6 80.3 48.7 81.3 48.5 81.5 48.7 81.4 49.3 80.4 51.3 74.2 60.0 72.1 64.0 70.7 66.3 65.8 72.3 56.5 84.7 49.7 92.0 44.0 96.7 37.3 101.7 34.6 105.0 27.3 115.3 16.7 127.3 13.3 131.6 8.5 138.3 6.9 140.0Z" fill="#ff7a00" fill-rule="evenodd"/>
<path d="M3.3 141.0 -6.0 141.0 -6.3 134.7 -6.3 121.3 -6.2 111.0 -6.0 105.9 -4.0 104.9 -0.7 104.2 2.0 104.4 8.0 105.6 9.7 105.4 11.0 104.7 24.3 94.4 27.3 91.3 30.0 87.7 32.7 85.0 36.3 81.6 41.3 77.7 51.7 70.7 59.3 64.4 63.3 60.8 65.3 59.3 67.0 58.5 72.7 56.6 73.3 56.5 73.5 56.7 73.4 57.3 72.6 59.7 71.7 63.0 70.2 66.0 65.2 72.0 55.8 84.3 48.8 91.7 43.7 95.9 36.7 100.7 34.5 102.7 25.7 114.0 17.6 122.0 15.8 124.0 14.3 126.3 10.3 133.7 8.0 137.0 5.7 139.4Z" fill="#ffa800" fill-rule="evenodd"/>
<path d="M0.3 140.7 -1.3 140.9 -3.0 140.7 -4.7 140.3 -6.0 139.6 -6.2 134.0 -6.3 123.0 -6.2 112.7 -6.0 107.4 -4.7 106.6 -3.0 105.9 0.0 105.6 1.7 105.8 3.3 106.2 9.7 108.7 11.0 108.8 12.3 108.2 13.7 107.1 16.3 104.2 25.0 96.7 26.0 95.5 30.4 88.3 32.4 86.3 33.2 85.3 37.0 81.8 40.7 79.0 41.7 78.1 52.1 71.3 59.7 65.2 63.8 61.3 65.7 59.9 66.7 59.4 68.0 59.2 69.3 59.3 70.2 59.7 70.9 60.7 71.0 62.3 70.7 63.7 69.8 65.3 62.3 74.5 55.3 84.0 48.5 91.0 43.3 95.2 37.3 99.2 35.3 100.1 32.0 102.3 29.7 104.7 23.7 111.8 15.7 118.1 14.7 119.4 14.0 120.7 10.9 129.3 9.5 132.3 8.2 134.7 6.3 137.0 4.5 138.7 2.7 139.9Z" fill="#ffd400" fill-rule="evenodd"/>
<path d="M32.7 99.7 30.7 99.8 30.0 99.5 29.2 99.0 28.4 97.3 28.1 95.0 28.5 93.3 30.8 89.0 33.0 86.7 33.7 85.7 37.2 82.3 41.0 79.5 42.0 78.6 52.4 72.0 53.7 71.0 60.3 65.7 64.3 61.8 66.0 60.6 67.0 60.1 68.0 60.1 68.7 60.2 69.5 60.7 70.1 61.7 70.2 62.7 69.9 63.7 69.0 65.3 64.2 71.0 54.7 83.7 48.0 90.5 42.7 94.8 36.7 98.6ZM0.0 139.0 -1.3 139.1 -3.0 138.9 -4.3 138.5 -6.0 137.6 -6.2 132.7 -6.2 117.3 -6.0 109.3 -4.7 108.3 -3.3 107.7 -0.7 107.2 1.3 107.4 3.7 108.2 5.7 109.4 7.8 111.3 9.2 113.0 10.2 115.0 10.8 117.0 11.0 119.3 10.8 123.3 10.2 126.3 9.1 129.7 7.7 132.7 6.2 135.0 4.3 136.9 2.3 138.2Z" fill="#bce400" fill-rule="evenodd"/>
<path d="M33.3 98.7 31.7 98.7 30.7 98.3 29.5 96.7 29.1 95.7 29.0 94.7 29.2 93.3 31.4 89.0 33.4 87.0 34.0 86.1 37.5 82.7 41.3 79.9 42.3 78.9 52.7 72.5 58.1 68.3 59.7 66.8 60.7 66.1 64.7 62.2 66.3 61.0 67.0 60.7 68.0 60.7 69.0 61.1 69.6 62.0 69.6 62.7 69.5 63.3 68.6 65.0 63.7 70.8 54.3 83.3 47.7 90.1 42.4 94.3 36.7 97.9ZM0.3 137.4 -2.0 137.6 -4.0 137.0 -6.0 135.8 -6.1 134.7 -6.2 121.7 -6.0 110.9 -3.7 109.3 -2.3 108.9 -1.0 108.7 1.0 108.9 3.0 109.6 4.7 110.7 6.3 112.3 7.5 114.0 8.5 116.0 9.1 118.3 9.4 120.7 9.3 123.3 8.9 126.3 8.1 129.0 6.9 131.7 5.6 133.7 4.0 135.4 2.3 136.6Z" fill="#2cc020" fill-rule="evenodd"/>
<path d="M33.7 98.0 32.0 98.1 31.1 97.7 30.2 96.3 29.7 95.3 29.6 94.3 29.8 93.3 31.7 89.3 33.7 87.3 34.3 86.4 37.8 83.0 41.4 80.3 42.7 79.2 53.0 72.9 58.3 68.8 60.0 67.2 60.8 66.7 65.0 62.6 66.3 61.6 67.0 61.2 67.7 61.2 68.7 61.5 69.0 62.0 69.2 62.7 68.3 64.7 66.8 66.3 66.4 67.0 64.5 69.0 61.8 72.7 60.8 73.7 54.0 83.0 47.3 89.7 43.3 92.8 42.3 93.8 36.3 97.5 34.7 97.7ZM-0.7 136.0 -2.0 136.0 -3.3 135.6 -4.7 135.0 -6.0 133.9 -6.2 123.0 -6.0 112.7 -4.7 111.5 -3.3 110.7 -2.0 110.3 -0.7 110.2 1.0 110.4 2.7 111.1 4.3 112.3 5.7 113.9 6.7 115.7 7.4 117.7 7.9 120.0 8.1 122.3 7.9 125.0 7.4 127.3 6.6 129.7 5.5 131.7 4.3 133.3 2.7 134.8 1.0 135.6Z" fill="#0a8c6c" fill-rule="evenodd"/>
<path d="M34.0 97.4 32.3 97.5 31.7 97.3 30.7 96.0 30.2 95.0 30.2 94.0 32.1 89.7 34.3 87.3 34.7 86.7 38.0 83.3 41.7 80.7 42.7 79.7 53.3 73.2 56.7 70.5 58.7 69.2 60.3 67.5 61.0 67.2 65.3 62.9 66.0 62.6 66.7 61.9 67.7 61.7 68.3 61.9 68.6 62.3 68.6 63.0 67.7 64.7 62.8 70.3 61.4 72.3 59.4 74.7 58.4 76.3 56.7 78.3 55.7 80.0 54.1 82.0 53.7 82.7 47.0 89.4 46.3 89.8 42.0 93.4 38.3 95.5 36.0 97.0 34.7 97.1ZM0.0 134.1 -1.7 134.2 -3.3 133.7 -4.7 132.8 -6.0 131.5 -6.1 123.0 -6.0 115.0 -5.0 113.8 -3.7 112.8 -2.3 112.2 -1.0 112.0 0.3 112.1 1.8 112.7 3.2 113.7 4.3 114.9 5.2 116.3 5.9 118.0 6.4 120.0 6.7 122.0 6.6 124.3 6.2 126.3 5.6 128.3 4.8 130.0 3.7 131.7 2.7 132.7 1.3 133.6Z" fill="#2222b0" fill-rule="evenodd"/>
<path d="M33.7 96.5 32.3 96.5 31.1 94.7 31.1 94.0 31.8 93.0 31.8 92.3 32.2 92.0 32.2 91.3 32.5 91.0 32.8 90.0 35.2 87.7 35.2 87.3 38.7 83.9 39.0 83.9 40.3 82.6 40.7 82.6 41.7 81.6 42.0 81.6 43.3 80.2 44.3 79.9 46.0 78.5 47.0 78.2 47.7 77.5 48.0 77.5 48.3 77.2 48.7 77.2 49.3 76.5 50.3 76.2 51.0 75.5 52.0 75.2 52.7 74.5 53.7 74.2 54.7 73.2 55.0 73.2 56.0 72.2 56.3 72.2 57.3 71.2 57.7 71.2 58.7 70.2 59.0 70.2 61.0 68.2 61.3 68.2 66.0 63.5 66.3 63.5 67.3 62.5 67.8 62.7 67.5 63.0 67.1 64.0 65.5 65.7 65.5 66.0 63.2 68.3 63.2 68.7 61.8 70.0 61.8 70.3 60.8 71.3 60.8 71.7 59.5 73.0 59.5 73.3 58.5 74.3 58.5 74.7 57.8 75.3 57.8 75.7 55.8 78.0 55.8 78.3 55.1 79.0 55.1 79.3 54.1 80.3 54.1 80.7 53.1 81.7 53.1 82.0 46.3 88.8 46.0 88.8 44.7 90.2 44.3 90.2 41.3 92.8 40.3 93.2 39.7 93.8 38.7 94.2 38.3 94.5 38.0 94.5 37.3 95.2 36.3 95.5 35.7 96.2 34.0 96.2ZM0.0 129.1 -0.7 129.3 -1.7 129.2 -2.7 128.8 -3.3 128.3 -4.6 126.3 -5.1 124.0 -5.0 121.7 -4.3 119.3 -3.0 117.6 -2.3 117.1 -1.3 116.8 -0.3 116.8 0.3 117.0 1.7 118.1 2.7 119.8 3.2 122.0 3.2 124.3 2.6 126.3 1.6 128.0Z" fill="#3c0c9c" fill-rule="evenodd"/>
</g></g>
<path d="M95.0 34.8h1.2v1.2h-1.2z" fill="#f05050" filter="url(#bs)"/>
</g>
<rect x="0.5" y="0.2" width="135" height="135.2" fill="none" stroke="#cacaca" stroke-width="1.15"/>
<path d="M0.50 135.50v2 M-2 135.50h2 M34.25 135.50v2 M-2 101.75h2 M68.00 135.50v2 M-2 68.00h2 M101.75 135.50v2 M-2 34.25h2 M135.50 135.50v2 M-2 0.50h2 " stroke="#999" stroke-width="0.6" fill="none"/>
<text x="-0.10" y="141.20" font-size="4.5" fill="#3c3c3c" text-anchor="middle">10<tspan dy="-1.4" font-size="3.1">0</tspan></text>
<text x="-2.20" y="138.00" font-size="4.5" fill="#3c3c3c" text-anchor="end">10<tspan dy="-1.3" font-size="3">0</tspan></text>
<text x="33.65" y="141.20" font-size="4.5" fill="#3c3c3c" text-anchor="middle">10<tspan dy="-1.4" font-size="3.1">1</tspan></text>
<text x="-2.20" y="104.25" font-size="4.5" fill="#3c3c3c" text-anchor="end">10<tspan dy="-1.3" font-size="3">1</tspan></text>
<text x="67.40" y="141.20" font-size="4.5" fill="#3c3c3c" text-anchor="middle">10<tspan dy="-1.4" font-size="3.1">2</tspan></text>
<text x="-2.20" y="70.50" font-size="4.5" fill="#3c3c3c" text-anchor="end">10<tspan dy="-1.3" font-size="3">2</tspan></text>
<text x="101.15" y="141.20" font-size="4.5" fill="#3c3c3c" text-anchor="middle">10<tspan dy="-1.4" font-size="3.1">3</tspan></text>
<text x="-2.20" y="36.75" font-size="4.5" fill="#3c3c3c" text-anchor="end">10<tspan dy="-1.3" font-size="3">3</tspan></text>
<text x="134.90" y="141.20" font-size="4.5" fill="#3c3c3c" text-anchor="middle">10<tspan dy="-1.4" font-size="3.1">4</tspan></text>
<text x="-2.20" y="3.00" font-size="4.5" fill="#3c3c3c" text-anchor="end">10<tspan dy="-1.3" font-size="3">4</tspan></text>
<text x="68.00" y="145.90" font-size="4.5" fill="#3c3c3c" text-anchor="middle">FL 1 Log</text>
<text transform="translate(-9.0 67.00) rotate(90)" font-size="4.5" fill="#3c3c3c" text-anchor="middle">FL 2 Log</text>
</g>
<g transform="translate(544 356)">
<g clip-path="url(#clipP)">
<g filter="url(#bs)">
<path d="M51.7 86.9C52.3 85.1 56.1 81.7 58.8 78.9C61.5 76.1 64.7 72.7 67.7 70.0C70.7 67.3 73.6 65.0 76.6 62.8C79.6 60.6 83.6 57.3 85.5 56.6C87.4 55.9 89.1 56.9 88.2 58.4C87.3 59.9 83.0 63.0 80.2 65.5C77.4 68.0 74.3 70.7 71.3 73.5C68.3 76.3 65.1 79.7 62.4 82.4C59.7 85.1 57.0 88.8 55.2 89.6C53.4 90.3 51.1 88.7 51.7 86.9Z" fill="url(#sp0)"/>
<path d="M-8.0 100.2C-8.0 106.5 -8.8 131.7 -3.0 138.0C2.8 144.3 21.4 139.2 26.7 138.0C31.9 136.8 27.6 133.2 28.5 130.5C29.4 127.8 30.9 124.6 32.1 121.6C33.3 118.6 34.1 115.7 35.6 112.7C37.1 109.7 39.2 106.8 41.0 103.8C42.8 100.8 44.5 97.9 46.3 94.9C48.1 91.9 49.9 89.0 51.7 86.0C53.5 83.0 54.9 79.8 57.0 77.1C59.1 74.4 61.8 72.4 64.2 70.0C66.6 67.6 68.9 65.2 71.3 62.8C73.7 60.4 76.3 57.9 78.4 55.7C80.5 53.5 82.8 51.3 83.8 49.5C84.8 47.7 85.6 45.0 84.7 45.0C83.8 45.0 80.6 47.9 78.4 49.5C76.2 51.1 73.7 52.9 71.3 54.8C68.9 56.7 66.6 59.1 64.2 61.0C61.8 62.9 59.4 64.6 57.0 66.4C54.6 68.2 52.3 69.9 49.9 71.7C47.5 73.5 45.2 75.5 42.8 77.1C40.4 78.7 38.0 80.0 35.6 81.5C33.2 83.0 30.9 84.5 28.5 86.0C26.1 87.5 23.8 89.1 21.4 90.4C19.0 91.7 16.7 93.0 14.3 94.0C11.9 95.0 10.0 95.7 7.1 96.7C4.2 97.7 -0.5 99.6 -3.0 100.2C-5.5 100.8 -8.0 93.9 -8.0 100.2Z" fill="url(#sp0)"/>
<path d="M-7.1 101.0C-7.0 107.0 -7.8 131.2 -2.3 137.2C3.2 143.2 21.1 138.3 26.1 137.2C31.1 136.0 27.4 131.5 27.7 130.3C28.0 129.2 27.7 130.3 27.7 130.3C27.7 130.3 27.2 131.7 27.8 130.2C28.4 128.7 30.2 124.3 31.4 121.3C32.6 118.3 34.3 113.9 34.9 112.4C35.5 110.9 34.9 112.3 34.9 112.3C34.9 112.3 34.0 113.8 34.9 112.3C35.8 110.8 38.5 106.4 40.3 103.4C42.1 100.4 44.7 96.0 45.6 94.5C46.5 93.0 44.7 96.0 45.6 94.5C46.5 93.0 49.2 88.6 51.0 85.6C52.8 82.6 55.4 78.2 56.3 76.7C57.2 75.2 56.3 76.6 56.3 76.6C56.3 76.6 56.4 76.6 56.4 76.6C56.4 76.6 55.2 77.7 56.4 76.5C57.6 75.3 61.2 71.8 63.6 69.4C66.0 67.0 69.5 63.4 70.7 62.2C71.9 61.0 69.5 63.4 70.7 62.2C71.9 61.0 75.7 57.4 77.8 55.2C79.9 53.0 82.1 50.5 83.1 49.1C84.0 47.7 84.2 46.6 83.5 46.8C82.8 47.0 80.9 48.7 78.9 50.1C77.0 51.5 74.2 53.5 71.8 55.4C69.4 57.3 65.9 60.6 64.7 61.6C63.5 62.6 65.9 60.7 64.7 61.6C63.5 62.5 58.7 66.1 57.5 67.0C56.3 67.9 58.7 66.1 57.5 67.0C56.3 67.9 52.8 70.5 50.4 72.3C48.0 74.1 44.5 76.8 43.3 77.7C42.1 78.6 44.4 77.0 43.2 77.8C42.0 78.5 38.4 80.7 36.0 82.2C33.6 83.7 30.1 86.0 28.9 86.7C27.7 87.5 30.1 86.0 28.9 86.7C27.7 87.4 23.0 90.4 21.8 91.1C20.6 91.8 23.0 90.5 21.8 91.1C20.6 91.7 15.9 94.1 14.7 94.7C13.5 95.3 15.8 94.2 14.6 94.7C13.4 95.2 8.6 96.9 7.4 97.4C6.2 97.9 9.1 96.9 7.4 97.5C5.7 98.1 -1.0 100.4 -2.7 101.0C-4.4 101.6 -2.8 101.0 -2.8 101.0C-2.8 101.0 -2.9 101.0 -2.9 101.0C-2.9 101.0 -2.3 101.0 -3.0 101.0C-3.7 101.0 -7.2 95.0 -7.1 101.0Z" fill="url(#sp1)"/>
</g>
<g clip-path="url(#coL)">
<path d="M8.0 141.0 -4.0 141.2 -6.0 141.2 -6.2 141.0 -6.3 115.7 -6.0 105.7 -3.5 104.0 3.3 101.5 8.7 98.1 9.1 98.0 29.3 82.5 55.0 63.4 71.3 51.8 85.0 42.4 85.7 42.1 86.3 42.1 87.3 42.6 87.9 43.7 87.9 44.3 87.6 45.0 78.4 58.3 65.3 74.3 49.8 97.0 39.8 110.7 31.7 121.3 19.3 133.7 17.7 134.9Z" fill="url(#sp2)" fill-rule="evenodd" filter="url(#bs)"/>
<path d="M3.3 141.0 -6.1 141.0 -6.3 119.0 -6.0 107.6 -4.3 106.1 -2.7 105.2 -0.3 104.5 2.7 104.0 4.3 103.4 10.6 99.3 27.7 85.5 55.6 64.0 72.0 52.1 82.0 45.2 85.3 43.0 86.0 42.8 86.7 43.0 87.2 43.7 87.0 44.7 78.0 57.8 64.8 73.7 58.9 82.3 48.9 96.0 39.5 108.3 30.3 119.8 17.3 132.2Z" fill="#fa2e10" fill-rule="evenodd" filter="url(#bl)"/>
<path d="M3.3 141.0 -6.1 141.0 -6.3 119.0 -6.0 107.6 -4.3 106.1 -2.7 105.2 -0.3 104.5 2.7 104.0 4.3 103.4 10.6 99.3 27.7 85.5 55.6 64.0 72.0 52.1 82.0 45.2 85.3 43.0 86.0 42.8 86.7 43.0 87.2 43.7 87.0 44.7 78.0 57.8 64.8 73.7 58.9 82.3 48.9 96.0 39.5 108.3 30.3 119.8 17.3 132.2Z" fill="url(#ws)" fill-rule="evenodd" filter="url(#bs)"/>
</g>
<g clip-path="url(#clL)"><g filter="url(#bl)">
<path d="M-1.3 140.7 -3.3 140.9 -6.0 140.8 -6.2 131.0 -6.3 117.7 -6.1 110.3 -6.0 109.3 -5.7 109.0 -4.0 107.4 -2.3 106.5 0.0 106.0 4.0 105.9 5.3 105.5 7.2 104.3 12.0 100.8 22.1 92.0 32.3 83.5 56.1 64.7 79.3 47.8 83.3 45.3 84.7 44.7 85.3 44.7 85.3 45.3 84.1 47.7 77.4 57.3 64.2 73.0 57.1 83.3 48.0 95.2 37.3 108.4 28.7 118.6 15.7 130.4 8.0 135.0 2.3 139.1 0.3 140.2Z" fill="#ff4808" fill-rule="evenodd"/>
<path d="M-1.3 137.0 -2.3 137.0 -3.7 136.7 -6.0 135.4 -6.2 123.0 -6.0 112.7 -5.8 112.0 -4.5 110.3 -2.7 108.9 -0.7 108.4 1.7 108.8 4.7 110.3 5.7 110.6 6.7 110.6 8.0 109.9 14.7 104.3 26.8 91.7 35.6 83.7 46.5 75.0 57.3 65.9 72.7 54.3 77.0 51.9 78.3 51.5 78.5 52.0 78.3 52.7 75.9 57.0 63.0 72.0 60.3 75.6 56.7 81.3 54.6 84.3 51.6 88.0 46.3 93.7 32.7 108.3 25.3 115.7 12.3 126.0 8.3 128.3 7.0 129.7 4.1 133.7 2.3 135.4 0.7 136.5Z" fill="#ff7a00" fill-rule="evenodd"/>
<path d="M16.0 115.1 14.7 115.3 14.0 115.0 13.9 114.0 14.7 112.3 17.9 108.0 22.5 100.0 24.5 97.0 26.7 94.0 30.0 90.3 36.3 84.5 48.9 75.0 58.1 67.0 73.0 55.0 74.0 54.5 75.0 54.8 75.5 55.7 75.2 56.7 60.4 73.7 58.3 76.5 55.6 81.3 53.8 84.0 51.6 86.7 48.7 89.9 43.3 94.9 27.0 108.6 21.7 112.3 18.7 114.0ZM-0.3 135.0 -1.7 135.1 -3.3 134.6 -4.7 133.7 -5.8 132.3 -6.0 132.1 -6.1 126.3 -6.0 114.5 -5.0 112.7 -3.7 111.1 -2.3 110.2 -0.7 109.8 0.3 110.0 1.7 110.5 2.8 111.3 4.1 112.7 6.8 116.7 7.6 118.3 7.8 119.7 7.6 121.7 6.8 124.7 5.7 127.7 4.5 130.3 3.5 132.0 2.3 133.4 1.0 134.4Z" fill="#ffa800" fill-rule="evenodd"/>
<path d="M30.3 101.0 28.3 101.3 27.0 100.9 26.3 100.0 26.2 98.7 26.7 97.0 27.8 95.0 29.4 92.7 31.8 90.0 35.0 86.9 38.3 84.1 50.9 75.3 60.4 66.7 70.7 58.0 73.7 55.5 74.3 55.5 74.6 56.0 74.2 56.7 57.7 75.5 56.2 77.7 54.1 81.7 52.9 83.7 51.1 86.0 48.7 88.7 44.7 92.5 39.3 96.5 34.3 99.5ZM0.0 133.1 -1.7 133.2 -3.3 132.5 -4.9 130.7 -6.0 128.3 -6.1 120.7 -5.9 117.0 -4.9 114.7 -3.8 113.0 -2.3 111.8 -1.0 111.4 0.0 111.5 1.0 111.9 2.0 112.7 3.1 114.0 4.6 117.0 5.0 119.0 5.2 121.0 4.9 125.0 3.8 128.7 3.0 130.3 2.0 131.6 1.0 132.5Z" fill="#ffd400" fill-rule="evenodd"/>
<path d="M31.3 98.3 30.3 98.2 29.5 97.7 29.2 96.7 29.3 95.7 29.9 94.3 30.9 92.7 34.1 89.0 36.7 86.6 39.3 84.5 51.6 76.3 55.0 73.4 61.5 67.3 64.0 65.3 65.3 64.5 65.2 65.0 64.0 66.7 57.4 74.0 55.5 76.3 54.2 78.3 52.5 82.0 51.4 84.0 49.7 86.3 47.3 88.9 43.3 92.4 38.7 95.6 34.7 97.5 32.7 98.2ZM-0.3 131.0 -1.3 131.1 -2.3 130.8 -3.0 130.3 -3.9 129.3 -5.1 126.7 -5.6 123.3 -5.4 119.7 -4.4 116.3 -3.0 114.3 -2.0 113.6 -1.0 113.3 0.0 113.4 0.7 113.8 1.7 114.7 2.3 115.6 3.4 118.3 3.8 121.3 3.6 124.7 2.7 127.7 1.3 129.9 0.7 130.5Z" fill="#bce400" fill-rule="evenodd"/>
<path d="M34.3 96.4 33.0 96.6 32.0 96.4 31.5 96.0 31.3 95.0 31.5 94.0 32.2 92.7 34.9 89.3 38.0 86.5 41.0 84.2 49.7 78.9 51.7 77.9 52.3 77.9 52.4 78.3 52.2 79.3 50.7 83.3 49.1 85.7 46.8 88.3 43.7 91.2 40.3 93.6 37.0 95.4ZM-0.3 129.1 -1.7 129.1 -2.3 128.7 -3.0 128.0 -4.1 125.7 -4.6 123.0 -4.4 120.0 -3.7 117.6 -3.0 116.4 -2.3 115.7 -1.0 115.1 0.3 115.5 1.6 117.0 2.4 119.0 2.7 121.3 2.6 124.0 2.0 126.3 1.0 128.0Z" fill="#2cc020" fill-rule="evenodd"/>
<path d="M35.7 94.7 34.7 94.9 33.8 94.7 33.3 94.0 33.4 93.3 34.3 91.3 36.7 88.7 40.3 85.6 45.3 82.7 47.0 81.5 48.7 80.8 49.7 80.8 49.9 81.3 49.8 82.0 49.3 83.7 47.2 86.7 45.4 88.7 43.0 90.8 40.7 92.4 38.0 93.9ZM-0.7 126.7 -1.7 126.6 -2.3 126.0 -3.0 124.6 -3.3 122.7 -3.2 120.7 -2.7 119.0 -2.0 117.9 -1.0 117.5 0.0 117.8 0.7 118.7 1.2 120.0 1.4 121.7 1.4 123.3 0.9 125.0 0.3 126.0Z" fill="#0a8c6c" fill-rule="evenodd"/>
<path d="M37.0 92.7 36.1 92.3 36.2 91.3 37.2 89.7 39.0 87.9 41.1 86.3 43.3 85.1 45.0 84.6 45.7 84.7 46.0 85.0 46.0 85.7 45.3 87.0 42.8 89.7 39.7 91.8 38.3 92.4Z" fill="#1c1cb4" fill-rule="evenodd"/>
</g></g>
<path d="M101.6 42.8h1.2v1.2h-1.2zM92.0 51.0h1.2v1.2h-1.2z" fill="#f05050" filter="url(#bs)"/>
</g>
<rect x="0.5" y="0.2" width="135" height="135.2" fill="none" stroke="#cacaca" stroke-width="1.15"/>
<path d="M0.50 135.50v2 M-2 135.50h2 M34.25 135.50v2 M-2 101.75h2 M68.00 135.50v2 M-2 68.00h2 M101.75 135.50v2 M-2 34.25h2 M135.50 135.50v2 M-2 0.50h2 " stroke="#999" stroke-width="0.6" fill="none"/>
<text x="-0.10" y="141.20" font-size="4.5" fill="#3c3c3c" text-anchor="middle">10<tspan dy="-1.4" font-size="3.1">0</tspan></text>
<text x="-2.20" y="138.00" font-size="4.5" fill="#3c3c3c" text-anchor="end">10<tspan dy="-1.3" font-size="3">0</tspan></text>
<text x="33.65" y="141.20" font-size="4.5" fill="#3c3c3c" text-anchor="middle">10<tspan dy="-1.4" font-size="3.1">1</tspan></text>
<text x="-2.20" y="104.25" font-size="4.5" fill="#3c3c3c" text-anchor="end">10<tspan dy="-1.3" font-size="3">1</tspan></text>
<text x="67.40" y="141.20" font-size="4.5" fill="#3c3c3c" text-anchor="middle">10<tspan dy="-1.4" font-size="3.1">2</tspan></text>
<text x="-2.20" y="70.50" font-size="4.5" fill="#3c3c3c" text-anchor="end">10<tspan dy="-1.3" font-size="3">2</tspan></text>
<text x="101.15" y="141.20" font-size="4.5" fill="#3c3c3c" text-anchor="middle">10<tspan dy="-1.4" font-size="3.1">3</tspan></text>
<text x="-2.20" y="36.75" font-size="4.5" fill="#3c3c3c" text-anchor="end">10<tspan dy="-1.3" font-size="3">3</tspan></text>
<text x="134.90" y="141.20" font-size="4.5" fill="#3c3c3c" text-anchor="middle">10<tspan dy="-1.4" font-size="3.1">4</tspan></text>
<text x="-2.20" y="3.00" font-size="4.5" fill="#3c3c3c" text-anchor="end">10<tspan dy="-1.3" font-size="3">4</tspan></text>
<text x="68.00" y="145.90" font-size="4.5" fill="#3c3c3c" text-anchor="middle">FL 1 Log</text>
<text transform="translate(-9.0 67.00) rotate(90)" font-size="4.5" fill="#3c3c3c" text-anchor="middle">FL 2 Log</text>
</g>
<text x="28.1" y="76.4" font-size="29.8" fill="#000">A</text>
<text x="197.6" y="76.1" font-size="29.8" fill="#000">B</text>
<text x="26.9" y="231.8" font-size="29.8" fill="#000">C</text>
<text x="196.6" y="231.7" font-size="29.8" fill="#000">D</text>
<text x="27.8" y="395.7" font-size="29.8" fill="#000">E</text>
<text x="198.5" y="395.7" font-size="29.8" fill="#000">F</text>
<text x="380.6" y="76.3" font-size="29.8" fill="#000">G</text>
<text x="553.3" y="76.3" font-size="29.8" fill="#000">H</text>
<text x="387.8" y="231.9" font-size="29.8" fill="#000">I</text>
<text x="556.3" y="232.0" font-size="29.8" fill="#000">J</text>
<text x="381.7" y="395.8" font-size="29.8" fill="#000">K</text>
<text x="555.5" y="395.7" font-size="29.8" fill="#000">L</text>
<polygon points="427.4,230.1 445.6,243.0 423.1,254.6" fill="#4a7ebb"/>
<polygon points="613.9,220.7 627.5,237.7 603.3,242.6" fill="#4a7ebb"/>
<polygon points="95.5,444.8 118.9,454.4 101.5,468.9" fill="#4a7ebb"/>
<polygon points="290.9,427.3 314.9,433.6 300.4,450.3" fill="#4a7ebb"/>
<polygon points="630.3,425.7 654.1,432.8 639.4,448.9" fill="#4a7ebb"/>
</svg></body></html>
